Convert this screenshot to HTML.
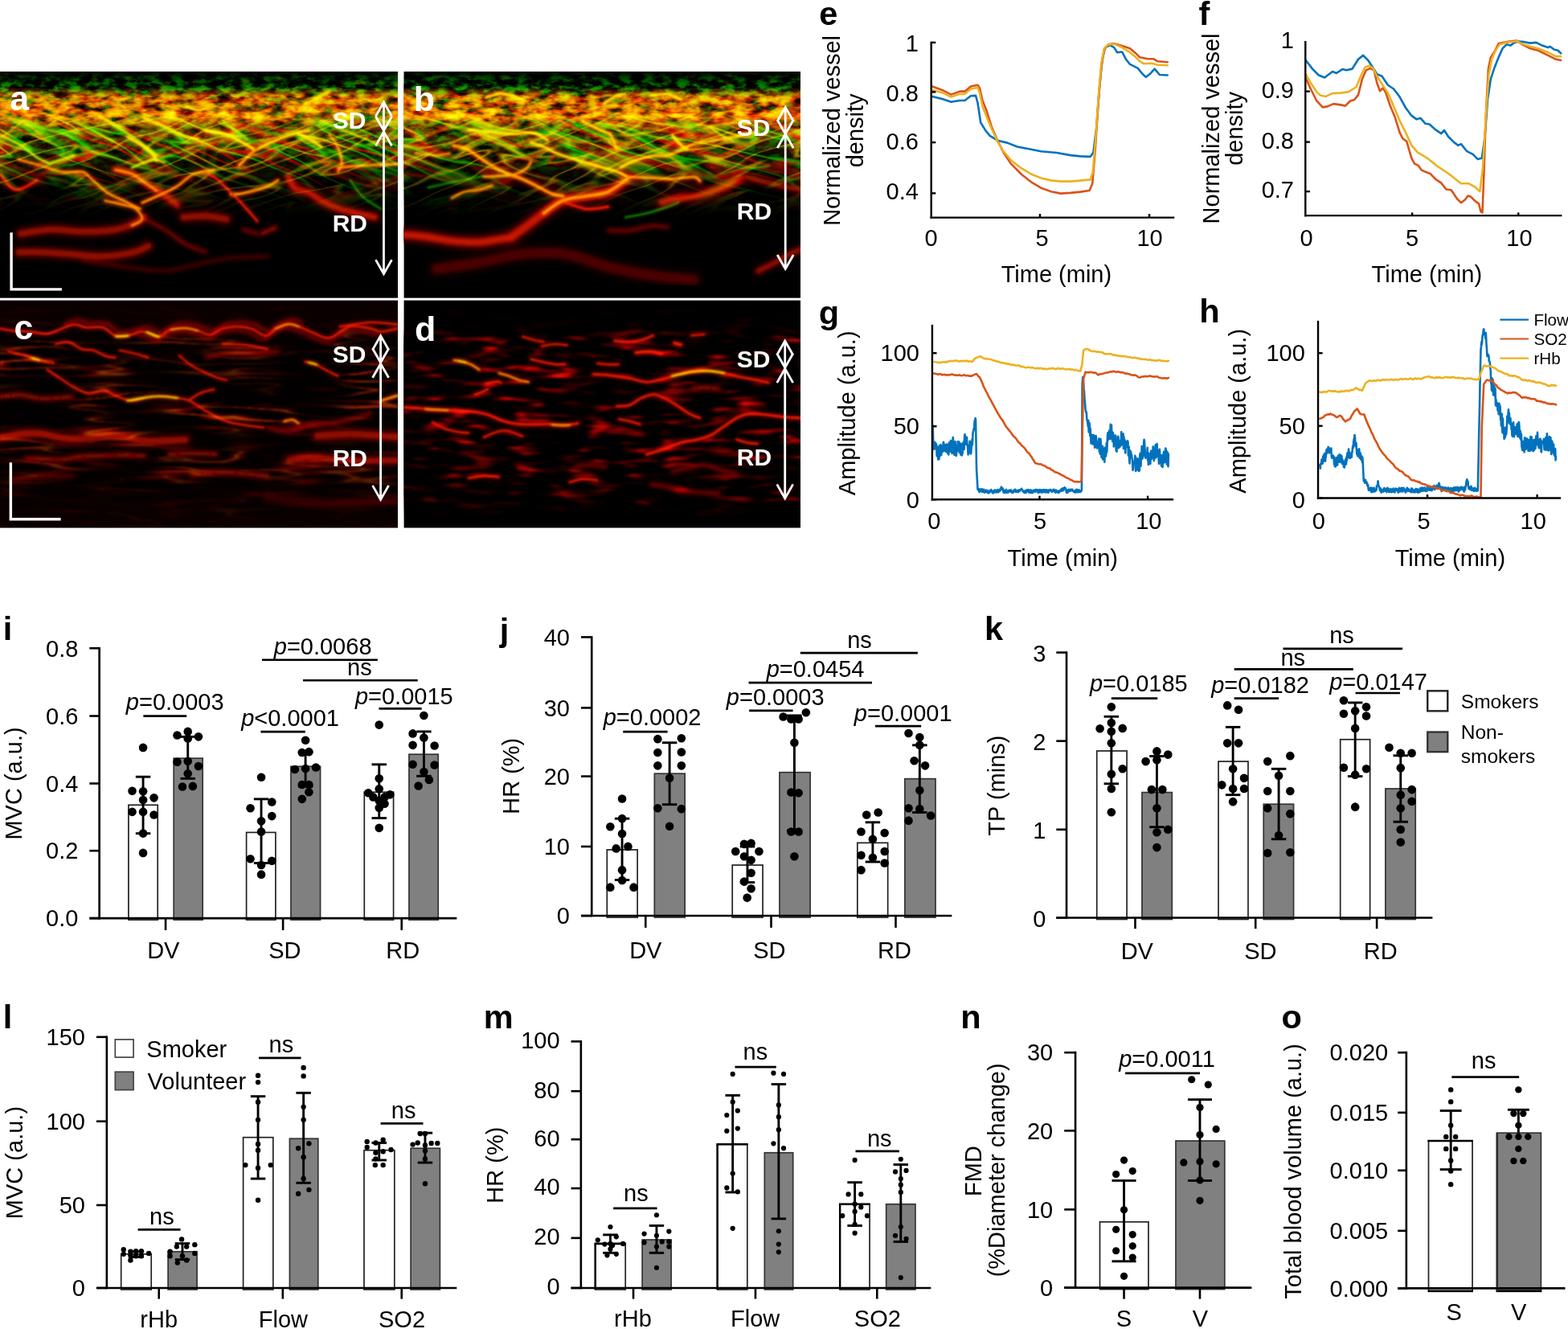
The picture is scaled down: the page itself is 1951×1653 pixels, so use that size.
<!DOCTYPE html>
<html lang="en"><head><meta charset="utf-8"><title>Figure</title>
<style>
html,body{margin:0;padding:0;background:#fff;}
body{width:1951px;height:1653px;overflow:hidden;}
svg{display:block;}
text{white-space:pre;}
</style></head><body>
<svg width="1951" height="1653" viewBox="0 0 1951 1653" font-family="'Liberation Sans', 'DejaVu Sans', sans-serif">
<defs>
<clipPath id="clipa"><rect x="0" y="89" width="495" height="281.6"/></clipPath>
<clipPath id="clipb"><rect x="502.6" y="89" width="493.4" height="281.6"/></clipPath>
<clipPath id="clipc"><rect x="0" y="373.6" width="495" height="282.9"/></clipPath>
<clipPath id="clipd"><rect x="502.6" y="373.6" width="493.4" height="282.9"/></clipPath>
</defs>
<rect x="0" y="89" width="495" height="281.6" fill="#000" stroke="none" stroke-width="0" />
<g clip-path="url(#clipa)"><defs>
<filter id="bh" x="-5%" y="-5%" width="110%" height="110%"><feGaussianBlur stdDeviation="2.2"/></filter>
<filter id="bc" x="-5%" y="-5%" width="110%" height="110%"><feGaussianBlur stdDeviation="1.0"/></filter>
<filter id="bh2" x="-5%" y="-5%" width="110%" height="110%"><feGaussianBlur stdDeviation="3.5"/></filter>
<filter id="bc2" x="-5%" y="-5%" width="110%" height="110%"><feGaussianBlur stdDeviation="2.2"/></filter>
</defs><defs><filter id="tA1" x="0" y="0" width="100%" height="100%" color-interpolation-filters="sRGB">
<feTurbulence type="fractalNoise" baseFrequency="0.045 0.10" numOctaves="3" seed="4"/><feColorMatrix type="matrix" values="1 0 0 0 0  0.75 0.25 0 0 0  0 0 1 0 0  0 0 0 1 0"/>
<feComponentTransfer><feFuncR type="table" tableValues="0 0 0.1 0.45 0.9 1 1 1 1"/><feFuncG type="table" tableValues="0 0 0 0.05 0.3 0.7 1 1 1"/><feFuncB type="table" tableValues="0 0"/><feFuncA type="table" tableValues="1 1"/></feComponentTransfer>
<feGaussianBlur stdDeviation="0.6"/></filter><filter id="tA2" x="0" y="0" width="100%" height="100%" color-interpolation-filters="sRGB">
<feTurbulence type="fractalNoise" baseFrequency="0.07 0.14" numOctaves="3" seed="11"/><feColorMatrix type="matrix" values="0.6 0.4 0 0 0  0 1 0 0 0  0 0 1 0 0  0 0 0 1 0"/>
<feComponentTransfer><feFuncR type="table" tableValues="0 0 0 0 0 0 0.2 0.6 1 1"/><feFuncG type="table" tableValues="0 0 0 0 0.1 0.5 0.9 1 1 1"/><feFuncB type="table" tableValues="0 0"/><feFuncA type="table" tableValues="1 1"/></feComponentTransfer>
<feGaussianBlur stdDeviation="0.6"/></filter><filter id="tA3" x="0" y="0" width="100%" height="100%" color-interpolation-filters="sRGB">
<feTurbulence type="fractalNoise" baseFrequency="0.008 0.05" numOctaves="2" seed="23"/><feColorMatrix type="matrix" values="0.6 0.4 0 0 0  0 1 0 0 0  0 0 1 0 0  0 0 0 1 0"/>
<feComponentTransfer><feFuncR type="table" tableValues="0.00 0.00 0.00 0.00 0.00 0.00 0.00 0.00 0.00 0.00 0.00 0.00 0.00 0.00 0.00 0.00 0.00 0.00 0.00 0.50 1.00 0.50 0.00 0.00 0.00 0.00 0.00 0.00 0.00 0.00 0.00 0.00 0.00 0.00 0.00 0.00 0.00 0.00 0.00 0.00 0.00"/><feFuncG type="table" tableValues="0.00 0.00 0.00 0.00 0.00 0.00 0.00 0.00 0.00 0.00 0.00 0.00 0.00 0.00 0.00 0.00 0.00 0.00 0.20 0.60 1.00 0.60 0.20 0.00 0.00 0.00 0.00 0.00 0.00 0.00 0.00 0.00 0.00 0.00 0.00 0.00 0.00 0.00 0.00 0.00 0.00"/><feFuncB type="table" tableValues="0 0"/><feFuncA type="table" tableValues="1 1"/></feComponentTransfer>
<feGaussianBlur stdDeviation="0.7"/></filter><filter id="tA4" x="0" y="0" width="100%" height="100%" color-interpolation-filters="sRGB">
<feTurbulence type="fractalNoise" baseFrequency="0.010 0.06" numOctaves="2" seed="37"/><feColorMatrix type="matrix" values="1 0 0 0 0  0.75 0.25 0 0 0  0 0 1 0 0  0 0 0 1 0"/>
<feComponentTransfer><feFuncR type="table" tableValues="0.00 0.00 0.00 0.00 0.00 0.00 0.00 0.00 0.00 0.00 0.00 0.00 0.00 0.00 0.00 0.00 0.00 0.00 0.09 0.55 1.00 0.55 0.09 0.00 0.00 0.00 0.00 0.00 0.00 0.00 0.00 0.00 0.00 0.00 0.00 0.00 0.00 0.00 0.00 0.00 0.00"/><feFuncG type="table" tableValues="0.00 0.00 0.00 0.00 0.00 0.00 0.00 0.00 0.00 0.00 0.00 0.00 0.00 0.00 0.00 0.00 0.00 0.00 0.00 0.36 0.75 0.36 0.00 0.00 0.00 0.00 0.00 0.00 0.00 0.00 0.00 0.00 0.00 0.00 0.00 0.00 0.00 0.00 0.00 0.00 0.00"/><feFuncB type="table" tableValues="0 0"/><feFuncA type="table" tableValues="1 1"/></feComponentTransfer>
<feGaussianBlur stdDeviation="0.7"/></filter><linearGradient id="mA1g" gradientUnits="userSpaceOnUse" x1="0" y1="89" x2="0" y2="371"><stop offset="0" stop-color="rgb(0,0,0)"/><stop offset="0.07" stop-color="rgb(0,0,0)"/><stop offset="0.11" stop-color="rgb(230,230,230)"/><stop offset="0.2" stop-color="rgb(255,255,255)"/><stop offset="0.25" stop-color="rgb(102,102,102)"/><stop offset="0.36" stop-color="rgb(26,26,26)"/><stop offset="0.5" stop-color="rgb(0,0,0)"/></linearGradient><linearGradient id="mA2g" gradientUnits="userSpaceOnUse" x1="0" y1="89" x2="0" y2="371"><stop offset="0" stop-color="rgb(0,0,0)"/><stop offset="0.03" stop-color="rgb(76,76,76)"/><stop offset="0.08" stop-color="rgb(153,153,153)"/><stop offset="0.18" stop-color="rgb(102,102,102)"/><stop offset="0.3" stop-color="rgb(102,102,102)"/><stop offset="0.4" stop-color="rgb(38,38,38)"/><stop offset="0.5" stop-color="rgb(0,0,0)"/></linearGradient><linearGradient id="mA3g" gradientUnits="userSpaceOnUse" x1="0" y1="89" x2="0" y2="371"><stop offset="0.16" stop-color="rgb(0,0,0)"/><stop offset="0.22" stop-color="rgb(191,191,191)"/><stop offset="0.36" stop-color="rgb(178,178,178)"/><stop offset="0.45" stop-color="rgb(89,89,89)"/><stop offset="0.53" stop-color="rgb(26,26,26)"/><stop offset="0.6" stop-color="rgb(0,0,0)"/></linearGradient><linearGradient id="mA4g" gradientUnits="userSpaceOnUse" x1="0" y1="89" x2="0" y2="371"><stop offset="0.16" stop-color="rgb(0,0,0)"/><stop offset="0.22" stop-color="rgb(153,153,153)"/><stop offset="0.38" stop-color="rgb(166,166,166)"/><stop offset="0.48" stop-color="rgb(102,102,102)"/><stop offset="0.58" stop-color="rgb(26,26,26)"/><stop offset="0.64" stop-color="rgb(0,0,0)"/></linearGradient><mask id="mA1" maskUnits="userSpaceOnUse" x="0" y="89" width="996" height="282"><rect x="0" y="89" width="996" height="282" fill="url(#mA1g)"/></mask><mask id="mA2" maskUnits="userSpaceOnUse" x="0" y="89" width="996" height="282"><rect x="0" y="89" width="996" height="282" fill="url(#mA2g)"/></mask><mask id="mA3" maskUnits="userSpaceOnUse" x="0" y="89" width="996" height="282"><rect x="0" y="89" width="996" height="282" fill="url(#mA3g)"/></mask><mask id="mA4" maskUnits="userSpaceOnUse" x="0" y="89" width="996" height="282"><rect x="0" y="89" width="996" height="282" fill="url(#mA4g)"/></mask><filter id="tC1" x="0" y="0" width="100%" height="100%" color-interpolation-filters="sRGB">
<feTurbulence type="fractalNoise" baseFrequency="0.007 0.075" numOctaves="2" seed="51"/><feColorMatrix type="matrix" values="1 0 0 0 0  1 0 0 0 0  0 0 1 0 0  0 0 0 1 0"/>
<feComponentTransfer result="a"><feFuncR type="table" tableValues="0.00 0.00 0.00 0.00 0.00 0.00 0.00 0.00 0.00 0.00 0.00 0.00 0.00 0.00 0.00 0.00 0.00 0.00 0.29 0.64 1.00 0.64 0.29 0.00 0.00 0.00 0.00 0.00 0.00 0.00 0.00 0.00 0.00 0.00 0.00 0.00 0.00 0.00 0.00 0.00 0.00"/><feFuncG type="table" tableValues="0.00 0.00 0.00 0.00 0.00 0.00 0.00 0.00 0.00 0.00 0.00 0.00 0.00 0.00 0.00 0.00 0.00 0.00 0.00 0.00 0.50 0.00 0.00 0.00 0.00 0.00 0.00 0.00 0.00 0.00 0.00 0.00 0.00 0.00 0.00 0.00 0.00 0.00 0.00 0.00 0.00"/><feFuncB type="table" tableValues="0 0"/><feFuncA type="table" tableValues="1 1"/></feComponentTransfer>
<feTurbulence type="fractalNoise" baseFrequency="0.012 0.03" numOctaves="1" seed="5"/>
<feColorMatrix type="matrix" values="1 0 0 0 0  1 0 0 0 0  1 0 0 0 0  0 0 0 0 1"/>
<feComponentTransfer result="b"><feFuncR type="table" tableValues="0 0 0 0 0.2 0.8 1 1 1"/><feFuncG type="table" tableValues="0 0 0 0 0.2 0.8 1 1 1"/><feFuncB type="table" tableValues="0 0 0 0 0.2 0.8 1 1 1"/></feComponentTransfer>
<feComposite in="a" in2="b" operator="arithmetic" k1="1" k2="0" k3="0" k4="0"/>
<feGaussianBlur stdDeviation="1.0"/></filter><filter id="tC2" x="0" y="0" width="100%" height="100%" color-interpolation-filters="sRGB">
<feTurbulence type="fractalNoise" baseFrequency="0.012 0.1" numOctaves="2" seed="67"/><feColorMatrix type="matrix" values="1 0 0 0 0  1 0 0 0 0  0 0 1 0 0  0 0 0 1 0"/>
<feComponentTransfer><feFuncR type="table" tableValues="0 0 0 0 0 0 0.25 0.7 0.9 1"/><feFuncG type="table" tableValues="0 0 0 0 0 0 0 0 0.1 0.3"/><feFuncB type="table" tableValues="0 0"/><feFuncA type="table" tableValues="1 1"/></feComponentTransfer>
<feGaussianBlur stdDeviation="1.2"/></filter><filter id="tD1" x="0" y="0" width="100%" height="100%" color-interpolation-filters="sRGB">
<feTurbulence type="fractalNoise" baseFrequency="0.022 0.11" numOctaves="2" seed="81"/><feColorMatrix type="matrix" values="1 0 0 0 0  1 0 0 0 0  0 0 1 0 0  0 0 0 1 0"/>
<feComponentTransfer><feFuncR type="table" tableValues="0 0 0 0 0 0 0.25 0.9 1 1"/><feFuncG type="table" tableValues="0 0 0 0 0 0 0 0 0.2 0.6"/><feFuncB type="table" tableValues="0 0"/><feFuncA type="table" tableValues="1 1"/></feComponentTransfer>
<feGaussianBlur stdDeviation="0.9"/></filter><filter id="tD2" x="0" y="0" width="100%" height="100%" color-interpolation-filters="sRGB">
<feTurbulence type="fractalNoise" baseFrequency="0.016 0.09" numOctaves="2" seed="93"/><feColorMatrix type="matrix" values="1 0 0 0 0  1 0 0 0 0  0 0 1 0 0  0 0 0 1 0"/>
<feComponentTransfer><feFuncR type="table" tableValues="0 0 0 0 0 0 0.1 0.6 1 1"/><feFuncG type="table" tableValues="0 0 0 0 0 0 0 0 0 0.3"/><feFuncB type="table" tableValues="0 0"/><feFuncA type="table" tableValues="1 1"/></feComponentTransfer>
<feGaussianBlur stdDeviation="1.1"/></filter><linearGradient id="mC1g" gradientUnits="userSpaceOnUse" x1="0" y1="374" x2="0" y2="657"><stop offset="0" stop-color="rgb(0,0,0)"/><stop offset="0.12" stop-color="rgb(26,26,26)"/><stop offset="0.2" stop-color="rgb(204,204,204)"/><stop offset="0.5" stop-color="rgb(178,178,178)"/><stop offset="0.75" stop-color="rgb(102,102,102)"/><stop offset="0.9" stop-color="rgb(31,31,31)"/><stop offset="1" stop-color="rgb(13,13,13)"/></linearGradient><linearGradient id="mC2g" gradientUnits="userSpaceOnUse" x1="0" y1="374" x2="0" y2="657"><stop offset="0" stop-color="rgb(0,0,0)"/><stop offset="0.3" stop-color="rgb(20,20,20)"/><stop offset="0.5" stop-color="rgb(76,76,76)"/><stop offset="0.8" stop-color="rgb(89,89,89)"/><stop offset="0.92" stop-color="rgb(38,38,38)"/><stop offset="1" stop-color="rgb(20,20,20)"/></linearGradient><linearGradient id="mD1g" gradientUnits="userSpaceOnUse" x1="0" y1="374" x2="0" y2="657"><stop offset="0" stop-color="rgb(0,0,0)"/><stop offset="0.12" stop-color="rgb(26,26,26)"/><stop offset="0.2" stop-color="rgb(230,230,230)"/><stop offset="0.6" stop-color="rgb(204,204,204)"/><stop offset="0.85" stop-color="rgb(128,128,128)"/><stop offset="0.95" stop-color="rgb(0,0,0)"/></linearGradient><mask id="mC1" maskUnits="userSpaceOnUse" x="0" y="374" width="996" height="283"><rect x="0" y="374" width="996" height="283" fill="url(#mC1g)"/></mask><mask id="mC2" maskUnits="userSpaceOnUse" x="0" y="374" width="996" height="283"><rect x="0" y="374" width="996" height="283" fill="url(#mC2g)"/></mask><mask id="mD1" maskUnits="userSpaceOnUse" x="0" y="374" width="996" height="283"><rect x="0" y="374" width="996" height="283" fill="url(#mD1g)"/></mask></defs><g mask="url(#mA2)" style="mix-blend-mode:screen"><rect x="0" y="89" width="495" height="282" filter="url(#tA2)"/></g><g mask="url(#mA1)" style="mix-blend-mode:screen"><rect x="0" y="89" width="495" height="282" filter="url(#tA1)"/></g><g mask="url(#mA3)" style="mix-blend-mode:screen"><rect x="-200" y="-200" width="895" height="900" filter="url(#tA3)" transform="rotate(22 247.5 230)"/></g><g mask="url(#mA4)" style="mix-blend-mode:screen"><rect x="-200" y="-200" width="895" height="900" filter="url(#tA4)" transform="rotate(-18 247.5 230)"/></g><g fill="none" stroke-linecap="round" stroke-linejoin="round" style="mix-blend-mode:screen" filter="url(#bh2)"><path d="M143.52,211.2 C146.94,212.06 158.04,213.77 164.02,216.33 C170,218.89 173.42,222.74 179.4,226.58 C185.38,230.43 193.07,234.7 199.9,239.4 C206.73,244.1 216.98,252.21 220.4,254.77" stroke="#5a0000" stroke-width="14" opacity="0.8"/><path d="M25.63,290.65 C32.04,289.8 51.26,285.96 64.07,285.53 C76.88,285.1 89.27,288.09 102.51,288.09 C115.75,288.09 132.84,287.24 143.52,285.53 C154.2,283.82 160.6,280.4 166.58,277.84 C172.56,275.28 177.26,271.43 179.4,270.15" stroke="#400000" stroke-width="16" opacity="0.8"/><path d="M23.07,313.72 C27.77,313.72 40.16,313.29 51.26,313.72 C62.36,314.15 76.89,315.43 89.7,316.28 C102.51,317.13 115.33,319.27 128.14,318.84 C140.95,318.41 157.18,315.86 166.58,313.72 C175.98,311.59 181.53,307.31 184.52,306.03" stroke="#400000" stroke-width="16" opacity="0.8"/><path d="M102.51,323.97 C111.05,325.25 136.69,329.53 153.77,331.66 C170.86,333.8 190.07,337.21 205.02,336.78 C219.97,336.35 230.65,331.65 243.46,329.09 C256.28,326.53 266.96,323.11 281.91,321.4 C296.86,319.69 324.62,319.27 333.16,318.84" stroke="#200000" stroke-width="8" opacity="0.7"/><path d="M179.4,272.71 C183.67,274.85 196.48,280.4 205.02,285.53 C213.56,290.65 222.11,298.76 230.65,303.46 C239.19,308.16 252.01,312.01 256.28,313.72" stroke="#400000" stroke-width="6" opacity="0.8"/><path d="M228.09,270.15 C232.79,269.94 247.31,268.44 256.28,268.87 C265.25,269.3 277.64,272.07 281.91,272.71" stroke="#400000" stroke-width="16" opacity="0.8"/><path d="M358.79,218.89 C360.07,221.45 362.21,230.85 366.48,234.27 C370.75,237.69 378.87,236.84 384.42,239.4 C389.97,241.96 393.38,246.23 399.79,249.65 C406.2,253.07 411.75,256.48 422.86,259.9 C433.97,263.32 459.17,268.44 466.43,270.15" stroke="#5a0000" stroke-width="14" opacity="0.8"/><path d="M325.47,290.65 L343.41,282.96" stroke="#400000" stroke-width="8" opacity="0.8"/><path d="M302.41,285.53 L320.35,290.65" stroke="#400000" stroke-width="6" opacity="0.8"/></g><g fill="none" stroke-linecap="round" stroke-linejoin="round" style="mix-blend-mode:screen" filter="url(#bc2)"><path d="M143.52,211.2 C146.94,212.06 158.04,213.77 164.02,216.33 C170,218.89 173.42,222.74 179.4,226.58 C185.38,230.43 193.07,234.7 199.9,239.4 C206.73,244.1 216.98,252.21 220.4,254.77" stroke="#c01400" stroke-width="7" opacity="0.9"/><path d="M25.63,290.65 C32.04,289.8 51.26,285.96 64.07,285.53 C76.88,285.1 89.27,288.09 102.51,288.09 C115.75,288.09 132.84,287.24 143.52,285.53 C154.2,283.82 160.6,280.4 166.58,277.84 C172.56,275.28 177.26,271.43 179.4,270.15" stroke="#8a0c00" stroke-width="8" opacity="0.9"/><path d="M23.07,313.72 C27.77,313.72 40.16,313.29 51.26,313.72 C62.36,314.15 76.89,315.43 89.7,316.28 C102.51,317.13 115.33,319.27 128.14,318.84 C140.95,318.41 157.18,315.86 166.58,313.72 C175.98,311.59 181.53,307.31 184.52,306.03" stroke="#8a0c00" stroke-width="8" opacity="0.9"/><path d="M102.51,323.97 C111.05,325.25 136.69,329.53 153.77,331.66 C170.86,333.8 190.07,337.21 205.02,336.78 C219.97,336.35 230.65,331.65 243.46,329.09 C256.28,326.53 266.96,323.11 281.91,321.4 C296.86,319.69 324.62,319.27 333.16,318.84" stroke="#480400" stroke-width="4" opacity="0.85"/><path d="M179.4,272.71 C183.67,274.85 196.48,280.4 205.02,285.53 C213.56,290.65 222.11,298.76 230.65,303.46 C239.19,308.16 252.01,312.01 256.28,313.72" stroke="#8a0c00" stroke-width="3" opacity="0.9"/><path d="M228.09,270.15 C232.79,269.94 247.31,268.44 256.28,268.87 C265.25,269.3 277.64,272.07 281.91,272.71" stroke="#8a0c00" stroke-width="8" opacity="0.9"/><path d="M358.79,218.89 C360.07,221.45 362.21,230.85 366.48,234.27 C370.75,237.69 378.87,236.84 384.42,239.4 C389.97,241.96 393.38,246.23 399.79,249.65 C406.2,253.07 411.75,256.48 422.86,259.9 C433.97,263.32 459.17,268.44 466.43,270.15" stroke="#c01400" stroke-width="7" opacity="0.9"/><path d="M325.47,290.65 L343.41,282.96" stroke="#8a0c00" stroke-width="4" opacity="0.9"/><path d="M302.41,285.53 L320.35,290.65" stroke="#8a0c00" stroke-width="3" opacity="0.9"/></g><g fill="none" stroke-linecap="round" stroke-linejoin="round" style="mix-blend-mode:screen" filter="url(#bh)"><path d="M158.89,170.2 C162.31,172.33 174.06,179.17 179.4,183.01 C184.74,186.85 188.37,190.48 190.93,193.26 C193.49,196.04 194.13,198.6 194.77,199.67" stroke="#e05000" stroke-width="6.24" opacity="0.8"/><path d="M179.4,147.13 C183.67,148.84 196.48,153.54 205.02,157.39 C213.56,161.23 223.81,167.64 230.65,170.2 C237.49,172.76 243.47,172.33 246.03,172.76" stroke="#e05000" stroke-width="6.24" opacity="0.8"/><path d="M256.28,162.51 C260.55,163.36 273.37,164.65 281.91,167.64 C290.45,170.63 301.98,177.46 307.53,180.45 C313.08,183.44 313.94,184.73 315.22,185.58" stroke="#e05000" stroke-width="7.2" opacity="0.8"/><path d="M320.35,185.58 C323.77,183.87 332.74,178.75 340.85,175.33 C348.97,171.91 361.78,167.21 369.04,165.07 C376.3,162.93 381.86,162.94 384.42,162.51" stroke="#e05000" stroke-width="6.24" opacity="0.8"/><path d="M369.04,165.07 C372.46,166.78 384.42,172.34 389.54,175.33 C394.67,178.32 398.08,181.73 399.79,183.01" stroke="#e05000" stroke-width="5.76" opacity="0.8"/><path d="M297.28,206.08 C299.84,203.52 308.81,194.12 312.66,190.7 C316.51,187.28 319.07,186.43 320.35,185.58" stroke="#b02000" stroke-width="7.2" opacity="0.8"/><path d="M143.52,211.2 C146.94,212.06 158.04,213.77 164.02,216.33 C170,218.89 174.28,223.16 179.4,226.58 C184.53,230 192.21,235.12 194.77,236.83" stroke="#b02000" stroke-width="5.28" opacity="0.8"/><path d="M0,167.64 C4.27,169.77 17.94,175.75 25.63,180.45 C33.32,185.15 40.15,191.99 46.13,195.83 C52.11,199.68 58.95,202.24 61.51,203.52" stroke="#608000" stroke-width="4.84" opacity="0.7"/><path d="M23.07,198.39 C27.77,199.67 42.29,203.52 51.26,206.08 C60.23,208.64 68.34,212.49 76.88,213.77 C85.42,215.05 96.1,212.06 102.51,213.77 C108.92,215.48 110.2,219.75 115.33,224.02 C120.45,228.29 126.85,235.13 133.26,239.4 C139.67,243.67 146.94,246.23 153.77,249.65 C160.61,253.07 170.85,258.19 174.27,259.9" stroke="#b02000" stroke-width="5.76" opacity="0.8"/><path d="M61.51,203.52 C64.07,202.67 71.75,200.1 76.88,198.39 C82,196.68 89.7,194.11 92.26,193.26" stroke="#608000" stroke-width="4.4" opacity="0.7"/><path d="M164.02,208.64 C168.29,206.93 182.82,199.46 189.65,198.39 C196.48,197.32 202.46,201.59 205.02,202.23" stroke="#608000" stroke-width="4.4" opacity="0.7"/><path d="M176.83,252.21 C180.68,250.5 192.64,245.38 199.9,241.96 C207.16,238.54 213.57,235.98 220.4,231.71 C227.23,227.44 233.21,219.75 240.9,216.33 C248.59,212.91 262.26,212.06 266.53,211.2" stroke="#b02000" stroke-width="6.24" opacity="0.8"/><path d="M0,216.33 C2.56,219.32 10.68,231.28 15.38,234.27 C20.08,237.26 23.07,235.98 28.19,234.27 C33.31,232.56 43.14,225.73 46.13,224.02" stroke="#800800" stroke-width="6.6" opacity="0.8"/><path d="M130.7,249.65 C134.54,250.5 147.36,253.06 153.77,254.77 C160.18,256.48 165.3,256.91 169.14,259.9 C172.98,262.89 177.68,269.29 176.83,272.71 C175.98,276.13 166.16,279.12 164.02,280.4" stroke="#b02000" stroke-width="5.76" opacity="0.8"/><path d="M287.03,241.96 C290.45,241.53 299.84,241.11 307.53,239.4 C315.22,237.69 326.75,234.27 333.16,231.71 C339.57,229.15 343.84,225.3 345.98,224.02" stroke="#b02000" stroke-width="6.24" opacity="0.8"/><path d="M410.05,167.64 C411.76,170.2 417.74,177.03 420.3,183.01 C422.86,188.99 425.42,198.39 425.42,203.52 C425.42,208.65 421.15,212.06 420.3,213.77" stroke="#b02000" stroke-width="5.76" opacity="0.8"/><path d="M420.3,208.64 C425,208.21 436.1,206.93 448.49,206.08 C460.88,205.23 486.93,203.95 494.62,203.52" stroke="#b02000" stroke-width="6.24" opacity="0.8"/><path d="M435.67,224.02 C438.23,227.44 444.64,238.54 451.05,244.52 C457.46,250.5 470.27,257.34 474.12,259.9" stroke="#063800" stroke-width="4" opacity="0.6"/><path d="M256.28,213.77 C258.84,215.48 266.54,219.75 271.66,224.02 C276.79,228.29 281.9,234.28 287.03,239.4 C292.15,244.53 296.86,248.79 302.41,254.77 C307.96,260.75 317.36,271.85 320.35,275.27" stroke="#800800" stroke-width="5.28" opacity="0.8"/><path d="M379.29,129.2 C382.71,127.49 394.66,121.5 399.79,118.94 C404.92,116.38 408.34,114.67 410.05,113.82" stroke="#e05000" stroke-width="5.76" opacity="0.8"/><path d="M230.65,131.76 C233.21,132.61 241.76,136.45 246.03,136.88 C250.3,137.31 254.57,134.75 256.28,134.32" stroke="#e05000" stroke-width="6.24" opacity="0.8"/><path d="M30.75,154.82 C36.3,156.1 54.24,159.95 64.07,162.51 C73.89,165.07 85.43,168.92 89.7,170.2" stroke="#0a5000" stroke-width="4.4" opacity="0.7"/><path d="M89.7,149.7 C93.97,151.83 106.79,158.24 115.33,162.51 C123.87,166.78 136.68,173.19 140.95,175.33" stroke="#0a5000" stroke-width="4.4" opacity="0.7"/><path d="M123.01,144.57 C128.14,147.56 144.37,156.53 153.77,162.51 C163.17,168.49 172.57,175.32 179.4,180.45 C186.23,185.57 192.21,191.12 194.77,193.26" stroke="#608000" stroke-width="4.4" opacity="0.7"/><path d="M271.66,152.26 C275.5,153.97 288.74,159.09 294.72,162.51 C300.7,165.93 305.39,171.05 307.53,172.76" stroke="#0a5000" stroke-width="4.4" opacity="0.7"/></g><g fill="none" stroke-linecap="round" stroke-linejoin="round" style="mix-blend-mode:screen" filter="url(#bc)"><path d="M158.89,170.2 C162.31,172.33 174.06,179.17 179.4,183.01 C184.74,186.85 188.37,190.48 190.93,193.26 C193.49,196.04 194.13,198.6 194.77,199.67" stroke="#ffe800" stroke-width="2.6" opacity="1"/><path d="M179.4,147.13 C183.67,148.84 196.48,153.54 205.02,157.39 C213.56,161.23 223.81,167.64 230.65,170.2 C237.49,172.76 243.47,172.33 246.03,172.76" stroke="#ffe800" stroke-width="2.6" opacity="1"/><path d="M256.28,162.51 C260.55,163.36 273.37,164.65 281.91,167.64 C290.45,170.63 301.98,177.46 307.53,180.45 C313.08,183.44 313.94,184.73 315.22,185.58" stroke="#ffe800" stroke-width="3" opacity="1"/><path d="M320.35,185.58 C323.77,183.87 332.74,178.75 340.85,175.33 C348.97,171.91 361.78,167.21 369.04,165.07 C376.3,162.93 381.86,162.94 384.42,162.51" stroke="#ffe800" stroke-width="2.6" opacity="1"/><path d="M369.04,165.07 C372.46,166.78 384.42,172.34 389.54,175.33 C394.67,178.32 398.08,181.73 399.79,183.01" stroke="#ffe800" stroke-width="2.4" opacity="1"/><path d="M297.28,206.08 C299.84,203.52 308.81,194.12 312.66,190.7 C316.51,187.28 319.07,186.43 320.35,185.58" stroke="#ff8a00" stroke-width="3" opacity="1"/><path d="M143.52,211.2 C146.94,212.06 158.04,213.77 164.02,216.33 C170,218.89 174.28,223.16 179.4,226.58 C184.53,230 192.21,235.12 194.77,236.83" stroke="#ff8a00" stroke-width="2.2" opacity="1"/><path d="M0,167.64 C4.27,169.77 17.94,175.75 25.63,180.45 C33.32,185.15 40.15,191.99 46.13,195.83 C52.11,199.68 58.95,202.24 61.51,203.52" stroke="#c8f400" stroke-width="2.2" opacity="1"/><path d="M23.07,198.39 C27.77,199.67 42.29,203.52 51.26,206.08 C60.23,208.64 68.34,212.49 76.88,213.77 C85.42,215.05 96.1,212.06 102.51,213.77 C108.92,215.48 110.2,219.75 115.33,224.02 C120.45,228.29 126.85,235.13 133.26,239.4 C139.67,243.67 146.94,246.23 153.77,249.65 C160.61,253.07 170.85,258.19 174.27,259.9" stroke="#ff8a00" stroke-width="2.4" opacity="1"/><path d="M61.51,203.52 C64.07,202.67 71.75,200.1 76.88,198.39 C82,196.68 89.7,194.11 92.26,193.26" stroke="#c8f400" stroke-width="2" opacity="1"/><path d="M164.02,208.64 C168.29,206.93 182.82,199.46 189.65,198.39 C196.48,197.32 202.46,201.59 205.02,202.23" stroke="#c8f400" stroke-width="2" opacity="1"/><path d="M176.83,252.21 C180.68,250.5 192.64,245.38 199.9,241.96 C207.16,238.54 213.57,235.98 220.4,231.71 C227.23,227.44 233.21,219.75 240.9,216.33 C248.59,212.91 262.26,212.06 266.53,211.2" stroke="#ff8a00" stroke-width="2.6" opacity="1"/><path d="M0,216.33 C2.56,219.32 10.68,231.28 15.38,234.27 C20.08,237.26 23.07,235.98 28.19,234.27 C33.31,232.56 43.14,225.73 46.13,224.02" stroke="#e82000" stroke-width="3" opacity="0.95"/><path d="M130.7,249.65 C134.54,250.5 147.36,253.06 153.77,254.77 C160.18,256.48 165.3,256.91 169.14,259.9 C172.98,262.89 177.68,269.29 176.83,272.71 C175.98,276.13 166.16,279.12 164.02,280.4" stroke="#ff8a00" stroke-width="2.4" opacity="1"/><path d="M287.03,241.96 C290.45,241.53 299.84,241.11 307.53,239.4 C315.22,237.69 326.75,234.27 333.16,231.71 C339.57,229.15 343.84,225.3 345.98,224.02" stroke="#ff8a00" stroke-width="2.6" opacity="1"/><path d="M410.05,167.64 C411.76,170.2 417.74,177.03 420.3,183.01 C422.86,188.99 425.42,198.39 425.42,203.52 C425.42,208.65 421.15,212.06 420.3,213.77" stroke="#ff8a00" stroke-width="2.4" opacity="1"/><path d="M420.3,208.64 C425,208.21 436.1,206.93 448.49,206.08 C460.88,205.23 486.93,203.95 494.62,203.52" stroke="#ff8a00" stroke-width="2.6" opacity="1"/><path d="M435.67,224.02 C438.23,227.44 444.64,238.54 451.05,244.52 C457.46,250.5 470.27,257.34 474.12,259.9" stroke="#1c8a00" stroke-width="2" opacity="0.9"/><path d="M256.28,213.77 C258.84,215.48 266.54,219.75 271.66,224.02 C276.79,228.29 281.9,234.28 287.03,239.4 C292.15,244.53 296.86,248.79 302.41,254.77 C307.96,260.75 317.36,271.85 320.35,275.27" stroke="#e82000" stroke-width="2.4" opacity="0.95"/><path d="M379.29,129.2 C382.71,127.49 394.66,121.5 399.79,118.94 C404.92,116.38 408.34,114.67 410.05,113.82" stroke="#ffe800" stroke-width="2.4" opacity="1"/><path d="M230.65,131.76 C233.21,132.61 241.76,136.45 246.03,136.88 C250.3,137.31 254.57,134.75 256.28,134.32" stroke="#ffe800" stroke-width="2.6" opacity="1"/><path d="M30.75,154.82 C36.3,156.1 54.24,159.95 64.07,162.51 C73.89,165.07 85.43,168.92 89.7,170.2" stroke="#40e000" stroke-width="2" opacity="0.95"/><path d="M89.7,149.7 C93.97,151.83 106.79,158.24 115.33,162.51 C123.87,166.78 136.68,173.19 140.95,175.33" stroke="#40e000" stroke-width="2" opacity="0.95"/><path d="M123.01,144.57 C128.14,147.56 144.37,156.53 153.77,162.51 C163.17,168.49 172.57,175.32 179.4,180.45 C186.23,185.57 192.21,191.12 194.77,193.26" stroke="#c8f400" stroke-width="2" opacity="1"/><path d="M271.66,152.26 C275.5,153.97 288.74,159.09 294.72,162.51 C300.7,165.93 305.39,171.05 307.53,172.76" stroke="#40e000" stroke-width="2" opacity="0.95"/></g></g>
<rect x="502.6" y="89" width="493.4" height="281.6" fill="#000" stroke="none" stroke-width="0" />
<g clip-path="url(#clipb)"><g mask="url(#mA2)" style="mix-blend-mode:screen"><rect x="502.6" y="89" width="493.4" height="282" filter="url(#tA2)"/></g><g mask="url(#mA1)" style="mix-blend-mode:screen"><rect x="502.6" y="89" width="493.4" height="282" filter="url(#tA1)"/></g><g mask="url(#mA3)" style="mix-blend-mode:screen"><rect x="302.6" y="-200" width="893.4" height="900" filter="url(#tA3)" transform="rotate(18 749.3 230)"/></g><g mask="url(#mA4)" style="mix-blend-mode:screen"><rect x="302.6" y="-200" width="893.4" height="900" filter="url(#tA4)" transform="rotate(-20 749.3 230)"/></g><g fill="none" stroke-linecap="round" stroke-linejoin="round" style="mix-blend-mode:screen" filter="url(#bh2)"><path d="M636.59,294.55 C639.7,292.33 648.59,286.11 655.25,281.22 C661.91,276.33 669.02,270.56 676.57,265.23 C684.12,259.9 691.67,252.79 700.56,249.24 C709.44,245.69 720.55,245.69 729.88,243.91 C739.21,242.13 748.09,242.14 756.53,238.58 C764.97,235.03 776.52,225.25 780.52,222.58" stroke="#5a0000" stroke-width="20" opacity="0.8"/><path d="M503.33,291.88 C507.77,292.32 519.76,293.22 529.98,294.55 C540.2,295.88 553.52,298.77 564.63,299.88 C575.74,300.99 586.84,301.65 596.61,301.21 C606.38,300.76 616.82,298.1 623.26,297.21 C629.7,296.32 633.26,296.1 635.26,295.88" stroke="#5a0000" stroke-width="18" opacity="0.8"/><path d="M823.16,251.9 C826.71,251.01 836.93,247.9 844.48,246.57 C852.03,245.24 861.81,245.24 868.47,243.91 C875.13,242.58 878.24,240.8 884.46,238.58 C890.68,236.36 899.57,233.69 905.79,230.58 C912.01,227.47 919.12,221.7 921.78,219.92" stroke="#5a0000" stroke-width="14" opacity="0.8"/><path d="M927.11,219.92 C930.66,220.81 941.32,223.47 948.43,225.25 C955.54,227.03 961.8,228.8 969.75,230.58 C977.7,232.36 991.74,235.02 996.14,235.91" stroke="#5a0000" stroke-width="8" opacity="0.8"/><path d="M543.31,334.53 C552.19,333.2 578.84,329.64 596.61,326.53 C614.38,323.42 632.15,317.65 649.92,315.87 C667.69,314.09 685.45,313.2 703.22,315.87 C720.99,318.54 738.76,327.42 756.53,331.86 C774.3,336.3 792.07,339.85 809.84,342.52 C827.61,345.19 854.26,346.96 863.14,347.85" stroke="#200000" stroke-width="24" opacity="0.7"/><path d="M756.53,286.55 C760.97,286.55 774.29,287.44 783.18,286.55 C792.06,285.66 801.84,281.89 809.84,281.22 C817.84,280.55 827.61,282.33 831.16,282.55" stroke="#400000" stroke-width="6" opacity="0.8"/><path d="M943.1,337.19 C946.65,335.41 957.76,330.08 964.42,326.53 C971.08,322.98 977.79,318.53 983.08,315.87 C988.37,313.21 993.96,311.43 996.14,310.54" stroke="#400000" stroke-width="12" opacity="0.8"/></g><g fill="none" stroke-linecap="round" stroke-linejoin="round" style="mix-blend-mode:screen" filter="url(#bc2)"><path d="M636.59,294.55 C639.7,292.33 648.59,286.11 655.25,281.22 C661.91,276.33 669.02,270.56 676.57,265.23 C684.12,259.9 691.67,252.79 700.56,249.24 C709.44,245.69 720.55,245.69 729.88,243.91 C739.21,242.13 748.09,242.14 756.53,238.58 C764.97,235.03 776.52,225.25 780.52,222.58" stroke="#c01400" stroke-width="10" opacity="0.9"/><path d="M503.33,291.88 C507.77,292.32 519.76,293.22 529.98,294.55 C540.2,295.88 553.52,298.77 564.63,299.88 C575.74,300.99 586.84,301.65 596.61,301.21 C606.38,300.76 616.82,298.1 623.26,297.21 C629.7,296.32 633.26,296.1 635.26,295.88" stroke="#c01400" stroke-width="9" opacity="0.9"/><path d="M823.16,251.9 C826.71,251.01 836.93,247.9 844.48,246.57 C852.03,245.24 861.81,245.24 868.47,243.91 C875.13,242.58 878.24,240.8 884.46,238.58 C890.68,236.36 899.57,233.69 905.79,230.58 C912.01,227.47 919.12,221.7 921.78,219.92" stroke="#c01400" stroke-width="7" opacity="0.9"/><path d="M927.11,219.92 C930.66,220.81 941.32,223.47 948.43,225.25 C955.54,227.03 961.8,228.8 969.75,230.58 C977.7,232.36 991.74,235.02 996.14,235.91" stroke="#c01400" stroke-width="4" opacity="0.9"/><path d="M543.31,334.53 C552.19,333.2 578.84,329.64 596.61,326.53 C614.38,323.42 632.15,317.65 649.92,315.87 C667.69,314.09 685.45,313.2 703.22,315.87 C720.99,318.54 738.76,327.42 756.53,331.86 C774.3,336.3 792.07,339.85 809.84,342.52 C827.61,345.19 854.26,346.96 863.14,347.85" stroke="#480400" stroke-width="12" opacity="0.85"/><path d="M756.53,286.55 C760.97,286.55 774.29,287.44 783.18,286.55 C792.06,285.66 801.84,281.89 809.84,281.22 C817.84,280.55 827.61,282.33 831.16,282.55" stroke="#8a0c00" stroke-width="3" opacity="0.9"/><path d="M943.1,337.19 C946.65,335.41 957.76,330.08 964.42,326.53 C971.08,322.98 977.79,318.53 983.08,315.87 C988.37,313.21 993.96,311.43 996.14,310.54" stroke="#8a0c00" stroke-width="6" opacity="0.9"/></g><g fill="none" stroke-linecap="round" stroke-linejoin="round" style="mix-blend-mode:screen" filter="url(#bh)"><path d="M564.63,181.27 C567.29,181.94 575.29,182.83 580.62,185.27 C585.95,187.71 591.28,192.38 596.61,195.93 C601.94,199.48 607.27,203.48 612.6,206.59 C617.93,209.7 622.38,211.93 628.6,214.59 C634.82,217.25 642.81,219.47 649.92,222.58 C657.03,225.69 665.02,230.13 671.24,233.24 C677.46,236.35 682.34,239.46 687.23,241.24 C692.12,243.02 698.34,243.47 700.56,243.91" stroke="#b02000" stroke-width="8.64" opacity="0.8"/><path d="M660.58,177.27 C663.25,178.16 671.24,180.38 676.57,182.6 C681.9,184.82 685.9,187.93 692.56,190.6 C699.22,193.27 708.11,195.94 716.55,198.6 C724.99,201.26 734.76,204.15 743.2,206.59 C751.64,209.03 760.97,211.03 767.19,213.25 C773.41,215.47 778.3,218.81 780.52,219.92" stroke="#e05000" stroke-width="6.24" opacity="0.8"/><path d="M583.29,161.28 C587.73,161.72 601.06,163.06 609.94,163.95 C618.82,164.84 627.71,166.39 636.59,166.61 C645.47,166.83 655.69,163.95 663.24,165.28 C670.79,166.61 678.79,173.06 681.9,174.61" stroke="#e05000" stroke-width="6.24" opacity="0.8"/><path d="M780.52,219.92 C785.41,220.14 800.51,220.81 809.84,221.25 C819.17,221.69 827.61,222.8 836.49,222.58 C845.37,222.36 857.37,219.47 863.14,219.92 C868.91,220.36 869.81,224.36 871.14,225.25" stroke="#b02000" stroke-width="7.2" opacity="0.8"/><path d="M772.52,207.92 C775.18,206.59 782.29,202.15 788.51,199.93 C794.73,197.71 802.73,195.71 809.84,194.6 C816.95,193.49 824.5,194.81 831.16,193.26 C837.82,191.7 844.49,187.49 849.82,185.27 C855.15,183.05 856.48,181.72 863.14,179.94 C869.8,178.16 880.9,176.39 889.79,174.61 C898.67,172.83 907.57,171.06 916.45,169.28 C925.34,167.5 938.66,164.84 943.1,163.95" stroke="#b02000" stroke-width="7.2" opacity="0.8"/><path d="M676.57,265.23 C680.57,262.56 691.67,252.79 700.56,249.24 C709.44,245.69 720.55,245.69 729.88,243.91 C739.21,242.13 748.09,242.14 756.53,238.58 C764.97,235.03 776.52,225.25 780.52,222.58" stroke="#b02000" stroke-width="8.16" opacity="0.8"/><path d="M759.2,166.61 C760.09,168.39 763.2,174.16 764.53,177.27 C765.86,180.38 766.75,183.94 767.19,185.27" stroke="#b02000" stroke-width="7.2" opacity="0.8"/><path d="M836.49,167.94 C837.38,169.05 839.6,172.17 841.82,174.61 C844.04,177.05 847.6,180.82 849.82,182.6 C852.04,184.38 854.26,184.83 855.15,185.27" stroke="#e05000" stroke-width="6.24" opacity="0.8"/><path d="M724.55,150.62 C726.33,151.51 731.66,154.17 735.21,155.95 C738.76,157.73 741.87,159.5 745.87,161.28 C749.87,163.06 756.98,165.72 759.2,166.61" stroke="#e05000" stroke-width="5.76" opacity="0.8"/><path d="M516.65,190.6 C521.09,191.04 536.2,193.26 543.31,193.26 C550.42,193.26 556.63,191.04 559.3,190.6" stroke="#b02000" stroke-width="5.28" opacity="0.8"/><path d="M601.94,219.92 C605.49,219.7 617.04,219.03 623.26,218.59 C629.48,218.15 633.93,218.81 639.26,217.25 C644.59,215.69 651.7,211.92 655.25,209.26 C658.8,206.59 659.69,202.59 660.58,201.26" stroke="#b02000" stroke-width="5.76" opacity="0.8"/><path d="M561.96,246.57 C564.62,245.24 572.18,240.36 577.95,238.58 C583.73,236.8 590.84,237.24 596.61,235.91 C602.38,234.58 609.94,231.47 612.6,230.58" stroke="#b02000" stroke-width="4.8" opacity="0.8"/><path d="M532.64,233.24 C536.64,232.35 548.19,229.69 556.63,227.91 C565.07,226.13 575.74,224.13 583.29,222.58 C590.84,221.03 598.83,219.25 601.94,218.59" stroke="#063800" stroke-width="4" opacity="0.6"/><path d="M703.22,251.9 C707.66,253.23 721,259.01 729.88,259.9 C738.76,260.79 752.09,257.68 756.53,257.23" stroke="#800800" stroke-width="6.6" opacity="0.8"/><path d="M777.85,270.56 C782.29,269.67 795.62,267.45 804.51,265.23 C813.39,263.01 824.5,259.45 831.16,257.23 C837.82,255.01 842.26,252.79 844.48,251.9" stroke="#063800" stroke-width="4" opacity="0.6"/><path d="M604.61,121.3 C607.72,120.41 617.49,116.19 623.26,115.97 C629.03,115.75 634.82,118.64 639.26,119.97 C643.7,121.3 648.14,123.3 649.92,123.97" stroke="#e05000" stroke-width="5.76" opacity="0.8"/><path d="M809.84,118.64 C813.39,118.42 824.94,116.41 831.16,117.3 C837.38,118.19 844.49,122.86 847.15,123.97" stroke="#e05000" stroke-width="5.76" opacity="0.8"/><path d="M751.2,129.3 C753.87,127.52 762.75,120.64 767.19,118.64 C771.63,116.64 776.07,117.52 777.85,117.3" stroke="#e05000" stroke-width="5.76" opacity="0.8"/><path d="M876.47,193.26 C880.91,195.04 894.24,201.26 903.12,203.93 C912,206.6 920.88,208.82 929.77,209.26 C938.65,209.7 951.99,207.03 956.43,206.59" stroke="#063800" stroke-width="4" opacity="0.6"/><path d="M884.46,158.62 C886.24,159.95 890.69,163.95 895.13,166.61 C899.57,169.28 908.46,173.28 911.12,174.61" stroke="#608000" stroke-width="4.4" opacity="0.7"/></g><g fill="none" stroke-linecap="round" stroke-linejoin="round" style="mix-blend-mode:screen" filter="url(#bc)"><path d="M564.63,181.27 C567.29,181.94 575.29,182.83 580.62,185.27 C585.95,187.71 591.28,192.38 596.61,195.93 C601.94,199.48 607.27,203.48 612.6,206.59 C617.93,209.7 622.38,211.93 628.6,214.59 C634.82,217.25 642.81,219.47 649.92,222.58 C657.03,225.69 665.02,230.13 671.24,233.24 C677.46,236.35 682.34,239.46 687.23,241.24 C692.12,243.02 698.34,243.47 700.56,243.91" stroke="#ff8a00" stroke-width="3.6" opacity="1"/><path d="M660.58,177.27 C663.25,178.16 671.24,180.38 676.57,182.6 C681.9,184.82 685.9,187.93 692.56,190.6 C699.22,193.27 708.11,195.94 716.55,198.6 C724.99,201.26 734.76,204.15 743.2,206.59 C751.64,209.03 760.97,211.03 767.19,213.25 C773.41,215.47 778.3,218.81 780.52,219.92" stroke="#ffe800" stroke-width="2.6" opacity="1"/><path d="M583.29,161.28 C587.73,161.72 601.06,163.06 609.94,163.95 C618.82,164.84 627.71,166.39 636.59,166.61 C645.47,166.83 655.69,163.95 663.24,165.28 C670.79,166.61 678.79,173.06 681.9,174.61" stroke="#ffe800" stroke-width="2.6" opacity="1"/><path d="M780.52,219.92 C785.41,220.14 800.51,220.81 809.84,221.25 C819.17,221.69 827.61,222.8 836.49,222.58 C845.37,222.36 857.37,219.47 863.14,219.92 C868.91,220.36 869.81,224.36 871.14,225.25" stroke="#ff8a00" stroke-width="3" opacity="1"/><path d="M772.52,207.92 C775.18,206.59 782.29,202.15 788.51,199.93 C794.73,197.71 802.73,195.71 809.84,194.6 C816.95,193.49 824.5,194.81 831.16,193.26 C837.82,191.7 844.49,187.49 849.82,185.27 C855.15,183.05 856.48,181.72 863.14,179.94 C869.8,178.16 880.9,176.39 889.79,174.61 C898.67,172.83 907.57,171.06 916.45,169.28 C925.34,167.5 938.66,164.84 943.1,163.95" stroke="#ff8a00" stroke-width="3" opacity="1"/><path d="M676.57,265.23 C680.57,262.56 691.67,252.79 700.56,249.24 C709.44,245.69 720.55,245.69 729.88,243.91 C739.21,242.13 748.09,242.14 756.53,238.58 C764.97,235.03 776.52,225.25 780.52,222.58" stroke="#ff8a00" stroke-width="3.4" opacity="1"/><path d="M759.2,166.61 C760.09,168.39 763.2,174.16 764.53,177.27 C765.86,180.38 766.75,183.94 767.19,185.27" stroke="#ff8a00" stroke-width="3" opacity="1"/><path d="M836.49,167.94 C837.38,169.05 839.6,172.17 841.82,174.61 C844.04,177.05 847.6,180.82 849.82,182.6 C852.04,184.38 854.26,184.83 855.15,185.27" stroke="#ffe800" stroke-width="2.6" opacity="1"/><path d="M724.55,150.62 C726.33,151.51 731.66,154.17 735.21,155.95 C738.76,157.73 741.87,159.5 745.87,161.28 C749.87,163.06 756.98,165.72 759.2,166.61" stroke="#ffe800" stroke-width="2.4" opacity="1"/><path d="M516.65,190.6 C521.09,191.04 536.2,193.26 543.31,193.26 C550.42,193.26 556.63,191.04 559.3,190.6" stroke="#ff8a00" stroke-width="2.2" opacity="1"/><path d="M601.94,219.92 C605.49,219.7 617.04,219.03 623.26,218.59 C629.48,218.15 633.93,218.81 639.26,217.25 C644.59,215.69 651.7,211.92 655.25,209.26 C658.8,206.59 659.69,202.59 660.58,201.26" stroke="#ff8a00" stroke-width="2.4" opacity="1"/><path d="M561.96,246.57 C564.62,245.24 572.18,240.36 577.95,238.58 C583.73,236.8 590.84,237.24 596.61,235.91 C602.38,234.58 609.94,231.47 612.6,230.58" stroke="#ff8a00" stroke-width="2" opacity="1"/><path d="M532.64,233.24 C536.64,232.35 548.19,229.69 556.63,227.91 C565.07,226.13 575.74,224.13 583.29,222.58 C590.84,221.03 598.83,219.25 601.94,218.59" stroke="#1c8a00" stroke-width="2" opacity="0.9"/><path d="M703.22,251.9 C707.66,253.23 721,259.01 729.88,259.9 C738.76,260.79 752.09,257.68 756.53,257.23" stroke="#e82000" stroke-width="3" opacity="0.95"/><path d="M777.85,270.56 C782.29,269.67 795.62,267.45 804.51,265.23 C813.39,263.01 824.5,259.45 831.16,257.23 C837.82,255.01 842.26,252.79 844.48,251.9" stroke="#1c8a00" stroke-width="2" opacity="0.9"/><path d="M604.61,121.3 C607.72,120.41 617.49,116.19 623.26,115.97 C629.03,115.75 634.82,118.64 639.26,119.97 C643.7,121.3 648.14,123.3 649.92,123.97" stroke="#ffe800" stroke-width="2.4" opacity="1"/><path d="M809.84,118.64 C813.39,118.42 824.94,116.41 831.16,117.3 C837.38,118.19 844.49,122.86 847.15,123.97" stroke="#ffe800" stroke-width="2.4" opacity="1"/><path d="M751.2,129.3 C753.87,127.52 762.75,120.64 767.19,118.64 C771.63,116.64 776.07,117.52 777.85,117.3" stroke="#ffe800" stroke-width="2.4" opacity="1"/><path d="M876.47,193.26 C880.91,195.04 894.24,201.26 903.12,203.93 C912,206.6 920.88,208.82 929.77,209.26 C938.65,209.7 951.99,207.03 956.43,206.59" stroke="#1c8a00" stroke-width="2" opacity="0.9"/><path d="M884.46,158.62 C886.24,159.95 890.69,163.95 895.13,166.61 C899.57,169.28 908.46,173.28 911.12,174.61" stroke="#c8f400" stroke-width="2" opacity="1"/></g></g>
<rect x="0" y="373.6" width="495" height="282.9" fill="#0c0000" stroke="none" stroke-width="0" />
<g clip-path="url(#clipc)"><g mask="url(#mC2)" style="mix-blend-mode:screen"><rect x="0" y="374" width="495" height="283" filter="url(#tC2)"/></g><g mask="url(#mC1)" style="mix-blend-mode:screen"><rect x="0" y="374" width="495" height="283" filter="url(#tC1)"/></g><g fill="none" stroke-linecap="round" stroke-linejoin="round" style="mix-blend-mode:screen" filter="url(#bh2)"><path d="M80.73,403.05 C83.29,402.2 90.97,398.14 96.1,397.93 C101.22,397.72 105.5,401.13 111.48,401.77 C117.46,402.41 126,400.06 131.98,401.77 C137.96,403.48 142.23,410.31 147.36,412.02 C152.49,413.73 157.62,412.87 162.74,412.02 C167.87,411.17 173.84,407.54 178.11,406.9 C182.38,406.26 184.52,407.11 188.36,408.18 C192.21,409.25 196.48,413.95 201.18,413.31 C205.88,412.67 211.01,406.13 216.56,404.34 C222.11,402.54 228.95,402.33 234.5,402.54 C240.05,402.75 244.75,404.25 249.87,405.62 C255,406.99 260.12,411.17 265.25,410.74 C270.38,410.31 275.08,404.76 280.63,403.05 C286.18,401.34 292.58,400.49 298.56,400.49 C304.54,400.49 310.52,401.13 316.5,403.05 C322.48,404.97 329.31,412.02 334.44,412.02 C339.57,412.02 342.56,405.48 347.26,403.05 C351.96,400.62 357.93,397.85 362.63,397.42 C367.33,396.99 373.31,399.98 375.45,400.49" stroke="#400000" stroke-width="6" opacity="0.8"/><path d="M171.71,417.66 C173.42,417.87 178.12,417.87 181.96,418.94 C185.8,420.01 190.07,424.71 194.77,424.07 C199.47,423.43 204.6,416.89 210.15,415.1 C215.7,413.31 222.54,413.1 228.09,413.31 C233.64,413.52 238.34,415.01 243.46,416.38 C248.59,417.75 253.71,421.94 258.84,421.51 C263.97,421.08 268.67,415.53 274.22,413.82 C279.77,412.11 286.18,411.26 292.16,411.26 C298.14,411.26 304.12,411.9 310.1,413.82 C316.08,415.74 322.92,422.79 328.04,422.79 C333.17,422.79 336.15,416.25 340.85,413.82 C345.55,411.38 351.53,408.61 356.23,408.18 C360.93,407.75 363.92,409.47 369.04,411.26 C374.17,413.05 380.57,416.59 386.98,418.94 C393.39,421.29 399.79,426.63 407.48,425.35 C415.17,424.07 424.57,413.18 433.11,411.26 C441.65,409.34 452.33,412.75 458.74,413.82 C465.15,414.89 469.42,417.02 471.55,417.66" stroke="#400000" stroke-width="5.2" opacity="0.8"/><path d="M256.28,444.57 C260.55,443.72 271.23,440.3 281.91,439.45 C292.59,438.6 309.67,439.88 320.35,439.45 C331.03,439.02 341.71,437.31 345.98,436.88" stroke="#400000" stroke-width="6" opacity="0.8"/><path d="M0,544.52 C4.27,543.67 17.09,540.25 25.63,539.4 C34.17,538.55 42.72,538.55 51.26,539.4 C59.8,540.25 68.34,543.45 76.88,544.52 C85.42,545.59 93.97,546.44 102.51,545.8 C111.05,545.16 119.6,541.11 128.14,540.68 C136.68,540.25 145.23,541.96 153.77,543.24 C162.31,544.52 166.59,547.72 179.4,548.36 C192.21,549 222.11,547.29 230.65,547.08" stroke="#400000" stroke-width="16" opacity="0.8"/><path d="M20.5,540.68 C25.63,540.47 41.86,538.67 51.26,539.4 C60.66,540.12 69.19,543.83 76.88,545.03 C84.57,546.23 93.97,546.31 97.39,546.57" stroke="#400000" stroke-width="10" opacity="0.8"/><path d="M394.67,541.96 C401.5,541.53 422.43,539.4 435.67,539.4 C448.91,539.4 464.3,541.32 474.12,541.96 C483.94,542.6 491.2,543.03 494.62,543.24" stroke="#400000" stroke-width="16" opacity="0.8"/><path d="M33.32,570.15 C40.58,570.36 65.35,571.86 76.88,571.43 C88.41,571 89.7,568.45 102.51,567.59 C115.33,566.74 140.96,566.39 153.77,566.3 C166.59,566.21 175.13,566.94 179.4,567.07" stroke="#400000" stroke-width="8" opacity="0.8"/><path d="M210.15,565.02 C215.7,564.81 233.64,563.74 243.46,563.74 C253.28,563.74 264.82,564.81 269.09,565.02" stroke="#400000" stroke-width="8" opacity="0.8"/><path d="M358.79,572.71 C363.06,572.07 371.61,568.87 384.42,568.87 C397.23,568.87 417.3,572.07 435.67,572.71 C454.04,573.35 484.8,572.71 494.62,572.71" stroke="#400000" stroke-width="14" opacity="0.8"/><path d="M410.05,572.2 C416.46,572.37 434.39,573.13 448.49,573.22 C462.59,573.31 486.93,572.8 494.62,572.71" stroke="#400000" stroke-width="8" opacity="0.8"/><path d="M238.34,590.65 C245.6,590.22 266.11,587.88 281.91,588.09 C297.71,588.3 324.62,591.29 333.16,591.93" stroke="#400000" stroke-width="8" opacity="0.8"/><path d="M0,493.26 C4.27,492.83 17.09,490.27 25.63,490.7 C34.17,491.13 40.58,495.4 51.26,495.83 C61.94,496.26 83.29,493.69 89.7,493.26" stroke="#400000" stroke-width="8" opacity="0.8"/><path d="M333.16,531.71 C337.43,532.56 350.25,537.26 358.79,536.83 C367.33,536.4 375.88,530.85 384.42,529.14 C392.96,527.43 401.51,527.86 410.05,526.58 C418.59,525.3 427.13,523.6 435.67,521.46 C444.21,519.33 457.03,515.05 461.3,513.77" stroke="#400000" stroke-width="6" opacity="0.8"/><path d="M333.16,618.84 C341.7,619.7 367.34,622.69 384.42,623.97 C401.5,625.25 417.3,626.96 435.67,626.53 C454.04,626.1 484.8,622.25 494.62,621.4" stroke="#180000" stroke-width="20" opacity="0.6"/><path d="M15.38,595.78 C21.36,595.35 38.87,593.85 51.26,593.21 C63.65,592.57 83.29,592.14 89.7,591.93" stroke="#200000" stroke-width="10" opacity="0.7"/></g><g fill="none" stroke-linecap="round" stroke-linejoin="round" style="mix-blend-mode:screen" filter="url(#bc2)"><path d="M80.73,403.05 C83.29,402.2 90.97,398.14 96.1,397.93 C101.22,397.72 105.5,401.13 111.48,401.77 C117.46,402.41 126,400.06 131.98,401.77 C137.96,403.48 142.23,410.31 147.36,412.02 C152.49,413.73 157.62,412.87 162.74,412.02 C167.87,411.17 173.84,407.54 178.11,406.9 C182.38,406.26 184.52,407.11 188.36,408.18 C192.21,409.25 196.48,413.95 201.18,413.31 C205.88,412.67 211.01,406.13 216.56,404.34 C222.11,402.54 228.95,402.33 234.5,402.54 C240.05,402.75 244.75,404.25 249.87,405.62 C255,406.99 260.12,411.17 265.25,410.74 C270.38,410.31 275.08,404.76 280.63,403.05 C286.18,401.34 292.58,400.49 298.56,400.49 C304.54,400.49 310.52,401.13 316.5,403.05 C322.48,404.97 329.31,412.02 334.44,412.02 C339.57,412.02 342.56,405.48 347.26,403.05 C351.96,400.62 357.93,397.85 362.63,397.42 C367.33,396.99 373.31,399.98 375.45,400.49" stroke="#8a0c00" stroke-width="3" opacity="0.9"/><path d="M171.71,417.66 C173.42,417.87 178.12,417.87 181.96,418.94 C185.8,420.01 190.07,424.71 194.77,424.07 C199.47,423.43 204.6,416.89 210.15,415.1 C215.7,413.31 222.54,413.1 228.09,413.31 C233.64,413.52 238.34,415.01 243.46,416.38 C248.59,417.75 253.71,421.94 258.84,421.51 C263.97,421.08 268.67,415.53 274.22,413.82 C279.77,412.11 286.18,411.26 292.16,411.26 C298.14,411.26 304.12,411.9 310.1,413.82 C316.08,415.74 322.92,422.79 328.04,422.79 C333.17,422.79 336.15,416.25 340.85,413.82 C345.55,411.38 351.53,408.61 356.23,408.18 C360.93,407.75 363.92,409.47 369.04,411.26 C374.17,413.05 380.57,416.59 386.98,418.94 C393.39,421.29 399.79,426.63 407.48,425.35 C415.17,424.07 424.57,413.18 433.11,411.26 C441.65,409.34 452.33,412.75 458.74,413.82 C465.15,414.89 469.42,417.02 471.55,417.66" stroke="#8a0c00" stroke-width="2.6" opacity="0.9"/><path d="M256.28,444.57 C260.55,443.72 271.23,440.3 281.91,439.45 C292.59,438.6 309.67,439.88 320.35,439.45 C331.03,439.02 341.71,437.31 345.98,436.88" stroke="#8a0c00" stroke-width="3" opacity="0.9"/><path d="M0,544.52 C4.27,543.67 17.09,540.25 25.63,539.4 C34.17,538.55 42.72,538.55 51.26,539.4 C59.8,540.25 68.34,543.45 76.88,544.52 C85.42,545.59 93.97,546.44 102.51,545.8 C111.05,545.16 119.6,541.11 128.14,540.68 C136.68,540.25 145.23,541.96 153.77,543.24 C162.31,544.52 166.59,547.72 179.4,548.36 C192.21,549 222.11,547.29 230.65,547.08" stroke="#8a0c00" stroke-width="8" opacity="0.9"/><path d="M20.5,540.68 C25.63,540.47 41.86,538.67 51.26,539.4 C60.66,540.12 69.19,543.83 76.88,545.03 C84.57,546.23 93.97,546.31 97.39,546.57" stroke="#8a0c00" stroke-width="5" opacity="0.9"/><path d="M394.67,541.96 C401.5,541.53 422.43,539.4 435.67,539.4 C448.91,539.4 464.3,541.32 474.12,541.96 C483.94,542.6 491.2,543.03 494.62,543.24" stroke="#8a0c00" stroke-width="8" opacity="0.9"/><path d="M33.32,570.15 C40.58,570.36 65.35,571.86 76.88,571.43 C88.41,571 89.7,568.45 102.51,567.59 C115.33,566.74 140.96,566.39 153.77,566.3 C166.59,566.21 175.13,566.94 179.4,567.07" stroke="#8a0c00" stroke-width="4" opacity="0.9"/><path d="M210.15,565.02 C215.7,564.81 233.64,563.74 243.46,563.74 C253.28,563.74 264.82,564.81 269.09,565.02" stroke="#8a0c00" stroke-width="4" opacity="0.9"/><path d="M358.79,572.71 C363.06,572.07 371.61,568.87 384.42,568.87 C397.23,568.87 417.3,572.07 435.67,572.71 C454.04,573.35 484.8,572.71 494.62,572.71" stroke="#8a0c00" stroke-width="7" opacity="0.9"/><path d="M410.05,572.2 C416.46,572.37 434.39,573.13 448.49,573.22 C462.59,573.31 486.93,572.8 494.62,572.71" stroke="#8a0c00" stroke-width="4" opacity="0.9"/><path d="M238.34,590.65 C245.6,590.22 266.11,587.88 281.91,588.09 C297.71,588.3 324.62,591.29 333.16,591.93" stroke="#8a0c00" stroke-width="4" opacity="0.9"/><path d="M0,493.26 C4.27,492.83 17.09,490.27 25.63,490.7 C34.17,491.13 40.58,495.4 51.26,495.83 C61.94,496.26 83.29,493.69 89.7,493.26" stroke="#8a0c00" stroke-width="4" opacity="0.9"/><path d="M333.16,531.71 C337.43,532.56 350.25,537.26 358.79,536.83 C367.33,536.4 375.88,530.85 384.42,529.14 C392.96,527.43 401.51,527.86 410.05,526.58 C418.59,525.3 427.13,523.6 435.67,521.46 C444.21,519.33 457.03,515.05 461.3,513.77" stroke="#8a0c00" stroke-width="3" opacity="0.9"/><path d="M333.16,618.84 C341.7,619.7 367.34,622.69 384.42,623.97 C401.5,625.25 417.3,626.96 435.67,626.53 C454.04,626.1 484.8,622.25 494.62,621.4" stroke="#300200" stroke-width="10" opacity="0.8"/><path d="M15.38,595.78 C21.36,595.35 38.87,593.85 51.26,593.21 C63.65,592.57 83.29,592.14 89.7,591.93" stroke="#480400" stroke-width="5" opacity="0.85"/></g><g fill="none" stroke-linecap="round" stroke-linejoin="round" style="mix-blend-mode:screen" filter="url(#bh)"><path d="M0,408.69 C2.56,409.12 8.97,410.62 15.38,411.26 C21.79,411.9 31.18,411.9 38.44,412.54 C45.7,413.18 52.53,415.74 58.94,415.1 C65.35,414.46 71.33,410.61 76.88,408.69 C82.43,406.77 87.13,403.78 92.26,403.57 C97.39,403.36 101.66,406.77 107.64,407.41 C113.62,408.05 122.16,405.7 128.14,407.41 C134.12,409.12 138.4,415.95 143.52,417.66 C148.65,419.37 153.76,418.51 158.89,417.66 C164.01,416.81 170,413.18 174.27,412.54 C178.54,411.9 180.68,412.75 184.52,413.82 C188.36,414.89 192.63,419.58 197.33,418.94 C202.03,418.3 207.16,411.76 212.71,409.97 C218.26,408.18 225.1,407.97 230.65,408.18 C236.2,408.39 240.91,409.89 246.03,411.26 C251.16,412.63 256.27,416.81 261.4,416.38 C266.52,415.95 271.23,410.4 276.78,408.69 C282.33,406.98 288.74,406.13 294.72,406.13 C300.7,406.13 306.68,406.77 312.66,408.69 C318.64,410.61 325.48,417.66 330.6,417.66 C335.73,417.66 338.71,411.12 343.41,408.69 C348.11,406.25 354.09,403.48 358.79,403.05 C363.49,402.62 366.48,404.33 371.6,406.13 C376.73,407.93 383.13,411.47 389.54,413.82 C395.95,416.17 402.36,421.51 410.05,420.23 C417.74,418.95 427.13,408.05 435.67,406.13 C444.21,404.21 454.89,407.62 461.3,408.69 C467.71,409.76 468.57,412.54 474.12,412.54 C479.67,412.54 491.2,409.33 494.62,408.69" stroke="#800800" stroke-width="4.86" opacity="0.8"/><path d="M144.8,418.43 L158.89,417.66" stroke="#e05000" stroke-width="4.9" opacity="0.8"/><path d="M183.24,413.31 L197.33,418.94" stroke="#e05000" stroke-width="4.49" opacity="0.8"/><path d="M212.71,409.97 C215.7,409.67 225.1,407.97 230.65,408.18 C236.2,408.39 243.47,410.75 246.03,411.26" stroke="#b02000" stroke-width="4.49" opacity="0.8"/><path d="M343.41,408.69 C345.97,407.75 354.09,403.48 358.79,403.05 C363.49,402.62 369.47,405.62 371.6,406.13" stroke="#b02000" stroke-width="4.49" opacity="0.8"/><path d="M69.2,427.91 C71.76,427.48 79.02,424.28 84.57,425.35 C90.12,426.42 97.38,432.61 102.51,434.32 C107.64,436.03 110.2,434.11 115.33,435.6 C120.45,437.1 128.56,441.8 133.26,443.29 C137.96,444.79 141.81,444.36 143.52,444.57" stroke="#800800" stroke-width="4.49" opacity="0.8"/><path d="M148.64,435.6 C151.63,436.24 160.6,437.95 166.58,439.45 C172.56,440.94 181.53,443.72 184.52,444.57" stroke="#800800" stroke-width="4.11" opacity="0.8"/><path d="M10.25,436.88 C13.67,437.74 24.77,440.3 30.75,442.01 C36.73,443.72 40.15,445.63 46.13,447.13 C52.11,448.62 63.21,450.34 66.63,450.98" stroke="#800800" stroke-width="4.49" opacity="0.8"/><path d="M41,445.85 L48.69,447.9" stroke="#e05000" stroke-width="4.08" opacity="0.8"/><path d="M58.94,459.95 C61.5,461.66 68.77,466.57 74.32,470.2 C79.87,473.83 86.28,478.53 92.26,481.73 C98.24,484.93 104.22,488.78 110.2,489.42 C116.18,490.06 122.59,485.15 128.14,485.58 C133.69,486.01 137.54,489.85 143.52,491.98 C149.5,494.12 156.33,498.18 164.02,498.39 C171.71,498.6 180.68,493.9 189.65,493.26 C198.62,492.62 210.15,493.69 217.84,494.55 C225.53,495.41 229.37,495.62 235.78,498.39 C242.19,501.16 248.59,506.93 256.28,511.2 C263.97,515.47 273.37,521.03 281.91,524.02 C290.45,527.01 299.84,527.86 307.53,529.14 C315.22,530.42 324.62,531.28 328.04,531.71" stroke="#800800" stroke-width="4.49" opacity="0.8"/><path d="M158.89,498.39 C162.31,497.75 172.56,495.49 179.4,494.55 C186.24,493.61 193.07,492.67 199.9,492.75 C206.73,492.83 216.98,494.68 220.4,495.06" stroke="#e05000" stroke-width="4.08" opacity="0.8"/><path d="M235.78,497.11 C238.34,495.62 246.03,490.27 251.15,488.14 C256.27,486 263.97,484.94 266.53,484.3" stroke="#800800" stroke-width="4.49" opacity="0.8"/><path d="M222.96,442.01 C225.52,444.14 232.79,451.19 238.34,454.82 C243.89,458.45 250.73,461.23 256.28,463.79 C261.83,466.35 267.39,468.7 271.66,470.2 C275.93,471.69 280.2,472.33 281.91,472.76" stroke="#800800" stroke-width="4.11" opacity="0.8"/><path d="M276.78,427.91 C281.9,428.12 298.13,428.13 307.53,429.2 C316.93,430.27 328.89,433.47 333.16,434.32" stroke="#800800" stroke-width="4.11" opacity="0.8"/><path d="M379.29,449.7 C381.43,450.21 387.84,451.06 392.11,452.77 C396.38,454.48 400.22,457.47 404.92,459.95 C409.62,462.43 417.74,466.36 420.3,467.64" stroke="#800800" stroke-width="4.49" opacity="0.8"/><path d="M384.42,450.98 L393.39,453.29" stroke="#e05000" stroke-width="4.08" opacity="0.8"/><path d="M474.12,498.39 L494.62,491.98" stroke="#b02000" stroke-width="6.12" opacity="0.8"/><path d="M353.66,524.02 C355.37,523.68 360.93,521.54 363.92,521.97 C366.91,522.4 370.32,525.81 371.6,526.58" stroke="#b02000" stroke-width="4.9" opacity="0.8"/><path d="M422.86,406.13 C429.27,405.27 449.34,401.43 461.3,401 C473.26,400.57 489.07,403.14 494.62,403.57" stroke="#800800" stroke-width="4.49" opacity="0.8"/></g><g fill="none" stroke-linecap="round" stroke-linejoin="round" style="mix-blend-mode:screen" filter="url(#bc)"><path d="M0,408.69 C2.56,409.12 8.97,410.62 15.38,411.26 C21.79,411.9 31.18,411.9 38.44,412.54 C45.7,413.18 52.53,415.74 58.94,415.1 C65.35,414.46 71.33,410.61 76.88,408.69 C82.43,406.77 87.13,403.78 92.26,403.57 C97.39,403.36 101.66,406.77 107.64,407.41 C113.62,408.05 122.16,405.7 128.14,407.41 C134.12,409.12 138.4,415.95 143.52,417.66 C148.65,419.37 153.76,418.51 158.89,417.66 C164.01,416.81 170,413.18 174.27,412.54 C178.54,411.9 180.68,412.75 184.52,413.82 C188.36,414.89 192.63,419.58 197.33,418.94 C202.03,418.3 207.16,411.76 212.71,409.97 C218.26,408.18 225.1,407.97 230.65,408.18 C236.2,408.39 240.91,409.89 246.03,411.26 C251.16,412.63 256.27,416.81 261.4,416.38 C266.52,415.95 271.23,410.4 276.78,408.69 C282.33,406.98 288.74,406.13 294.72,406.13 C300.7,406.13 306.68,406.77 312.66,408.69 C318.64,410.61 325.48,417.66 330.6,417.66 C335.73,417.66 338.71,411.12 343.41,408.69 C348.11,406.25 354.09,403.48 358.79,403.05 C363.49,402.62 366.48,404.33 371.6,406.13 C376.73,407.93 383.13,411.47 389.54,413.82 C395.95,416.17 402.36,421.51 410.05,420.23 C417.74,418.95 427.13,408.05 435.67,406.13 C444.21,404.21 454.89,407.62 461.3,408.69 C467.71,409.76 468.57,412.54 474.12,412.54 C479.67,412.54 491.2,409.33 494.62,408.69" stroke="#e82000" stroke-width="2.21" opacity="0.95"/><path d="M144.8,418.43 L158.89,417.66" stroke="#ffe800" stroke-width="2.04" opacity="1"/><path d="M183.24,413.31 L197.33,418.94" stroke="#ffe800" stroke-width="1.87" opacity="1"/><path d="M212.71,409.97 C215.7,409.67 225.1,407.97 230.65,408.18 C236.2,408.39 243.47,410.75 246.03,411.26" stroke="#ff8a00" stroke-width="1.87" opacity="1"/><path d="M343.41,408.69 C345.97,407.75 354.09,403.48 358.79,403.05 C363.49,402.62 369.47,405.62 371.6,406.13" stroke="#ff8a00" stroke-width="1.87" opacity="1"/><path d="M69.2,427.91 C71.76,427.48 79.02,424.28 84.57,425.35 C90.12,426.42 97.38,432.61 102.51,434.32 C107.64,436.03 110.2,434.11 115.33,435.6 C120.45,437.1 128.56,441.8 133.26,443.29 C137.96,444.79 141.81,444.36 143.52,444.57" stroke="#e82000" stroke-width="2.04" opacity="0.95"/><path d="M148.64,435.6 C151.63,436.24 160.6,437.95 166.58,439.45 C172.56,440.94 181.53,443.72 184.52,444.57" stroke="#e82000" stroke-width="1.87" opacity="0.95"/><path d="M10.25,436.88 C13.67,437.74 24.77,440.3 30.75,442.01 C36.73,443.72 40.15,445.63 46.13,447.13 C52.11,448.62 63.21,450.34 66.63,450.98" stroke="#e82000" stroke-width="2.04" opacity="0.95"/><path d="M41,445.85 L48.69,447.9" stroke="#ffe800" stroke-width="1.7" opacity="1"/><path d="M58.94,459.95 C61.5,461.66 68.77,466.57 74.32,470.2 C79.87,473.83 86.28,478.53 92.26,481.73 C98.24,484.93 104.22,488.78 110.2,489.42 C116.18,490.06 122.59,485.15 128.14,485.58 C133.69,486.01 137.54,489.85 143.52,491.98 C149.5,494.12 156.33,498.18 164.02,498.39 C171.71,498.6 180.68,493.9 189.65,493.26 C198.62,492.62 210.15,493.69 217.84,494.55 C225.53,495.41 229.37,495.62 235.78,498.39 C242.19,501.16 248.59,506.93 256.28,511.2 C263.97,515.47 273.37,521.03 281.91,524.02 C290.45,527.01 299.84,527.86 307.53,529.14 C315.22,530.42 324.62,531.28 328.04,531.71" stroke="#e82000" stroke-width="2.04" opacity="0.95"/><path d="M158.89,498.39 C162.31,497.75 172.56,495.49 179.4,494.55 C186.24,493.61 193.07,492.67 199.9,492.75 C206.73,492.83 216.98,494.68 220.4,495.06" stroke="#ffe800" stroke-width="1.7" opacity="1"/><path d="M235.78,497.11 C238.34,495.62 246.03,490.27 251.15,488.14 C256.27,486 263.97,484.94 266.53,484.3" stroke="#e82000" stroke-width="2.04" opacity="0.95"/><path d="M222.96,442.01 C225.52,444.14 232.79,451.19 238.34,454.82 C243.89,458.45 250.73,461.23 256.28,463.79 C261.83,466.35 267.39,468.7 271.66,470.2 C275.93,471.69 280.2,472.33 281.91,472.76" stroke="#e82000" stroke-width="1.87" opacity="0.95"/><path d="M276.78,427.91 C281.9,428.12 298.13,428.13 307.53,429.2 C316.93,430.27 328.89,433.47 333.16,434.32" stroke="#e82000" stroke-width="1.87" opacity="0.95"/><path d="M379.29,449.7 C381.43,450.21 387.84,451.06 392.11,452.77 C396.38,454.48 400.22,457.47 404.92,459.95 C409.62,462.43 417.74,466.36 420.3,467.64" stroke="#e82000" stroke-width="2.04" opacity="0.95"/><path d="M384.42,450.98 L393.39,453.29" stroke="#ffe800" stroke-width="1.7" opacity="1"/><path d="M474.12,498.39 L494.62,491.98" stroke="#ff8a00" stroke-width="2.55" opacity="1"/><path d="M353.66,524.02 C355.37,523.68 360.93,521.54 363.92,521.97 C366.91,522.4 370.32,525.81 371.6,526.58" stroke="#ff8a00" stroke-width="2.04" opacity="1"/><path d="M422.86,406.13 C429.27,405.27 449.34,401.43 461.3,401 C473.26,400.57 489.07,403.14 494.62,403.57" stroke="#e82000" stroke-width="2.04" opacity="0.95"/></g></g>
<rect x="502.6" y="373.6" width="493.4" height="282.9" fill="#000" stroke="none" stroke-width="0" />
<g clip-path="url(#clipd)"><g mask="url(#mD1)" style="mix-blend-mode:screen"><rect x="502.6" y="374" width="493.4" height="283" filter="url(#tD1)"/></g><g mask="url(#mD1)" style="mix-blend-mode:screen"><rect x="502.6" y="374" width="493.4" height="283" filter="url(#tD2)"/></g><g fill="none" stroke-linecap="round" stroke-linejoin="round" style="mix-blend-mode:screen" filter="url(#bh2)"><path d="M863.14,482.6 C865.8,482.51 873.8,481.85 879.13,482.07 C884.46,482.29 892.46,483.63 895.13,483.94" stroke="#400000" stroke-width="8" opacity="0.8"/><path d="M716.55,579.89 C719.66,579.67 728.99,578.42 735.21,578.55 C741.43,578.68 750.75,580.33 753.86,580.69" stroke="#400000" stroke-width="6" opacity="0.8"/><path d="M809.84,602.54 C814.28,603.21 827.61,604.98 836.49,606.54 C845.37,608.1 853.37,610.76 863.14,611.87 C872.91,612.98 889.8,612.98 895.13,613.2" stroke="#400000" stroke-width="6" opacity="0.8"/><path d="M836.49,586.55 C840.04,585.66 851.15,582.55 857.81,581.22 C864.47,579.89 870.25,578.11 876.47,578.55 C882.69,578.99 888.47,582.11 895.13,583.89 C901.79,585.67 912.9,588.33 916.45,589.22" stroke="#400000" stroke-width="6" opacity="0.8"/></g><g fill="none" stroke-linecap="round" stroke-linejoin="round" style="mix-blend-mode:screen" filter="url(#bc2)"><path d="M863.14,482.6 C865.8,482.51 873.8,481.85 879.13,482.07 C884.46,482.29 892.46,483.63 895.13,483.94" stroke="#8a0c00" stroke-width="4" opacity="0.9"/><path d="M716.55,579.89 C719.66,579.67 728.99,578.42 735.21,578.55 C741.43,578.68 750.75,580.33 753.86,580.69" stroke="#8a0c00" stroke-width="3" opacity="0.9"/><path d="M809.84,602.54 C814.28,603.21 827.61,604.98 836.49,606.54 C845.37,608.1 853.37,610.76 863.14,611.87 C872.91,612.98 889.8,612.98 895.13,613.2" stroke="#8a0c00" stroke-width="3" opacity="0.9"/><path d="M836.49,586.55 C840.04,585.66 851.15,582.55 857.81,581.22 C864.47,579.89 870.25,578.11 876.47,578.55 C882.69,578.99 888.47,582.11 895.13,583.89 C901.79,585.67 912.9,588.33 916.45,589.22" stroke="#8a0c00" stroke-width="3" opacity="0.9"/></g><g fill="none" stroke-linecap="round" stroke-linejoin="round" style="mix-blend-mode:screen" filter="url(#bh)"><path d="M737.87,465.28 C740.98,465.5 748.98,465.72 756.53,466.61 C764.08,467.5 775.18,469.19 783.18,470.61 C791.18,472.03 797.85,474.92 804.51,475.14 C811.17,475.36 816.5,473.58 823.16,471.94 C829.82,470.3 837.82,466.92 844.48,465.28 C851.14,463.64 856.92,462.75 863.14,462.08 C869.36,461.41 875.58,460.97 881.8,461.28 C888.02,461.59 894.69,462.84 900.46,463.95 C906.24,465.06 910.23,466.61 916.45,467.94 C922.67,469.27 931.11,470.61 937.77,471.94 C944.43,473.27 953.32,475.27 956.43,475.94" stroke="#800800" stroke-width="5.61" opacity="0.8"/><path d="M836.49,467.94 C840.93,466.96 855.59,463.19 863.14,462.08 C870.69,460.97 875.58,460.97 881.8,461.28 C888.02,461.59 897.35,463.5 900.46,463.95" stroke="#e05000" stroke-width="4.08" opacity="0.8"/><path d="M564.63,447.95 C566.41,448.26 571.74,448.93 575.29,449.82 C578.84,450.71 582.4,451.6 585.95,453.29 C589.5,454.98 594.83,458.84 596.61,459.95" stroke="#b02000" stroke-width="4.9" opacity="0.8"/><path d="M569.96,449.02 L579.29,450.62" stroke="#e05000" stroke-width="4.08" opacity="0.8"/><path d="M620.6,463.95 C622.82,464.62 629.49,466.38 633.93,467.94 C638.37,469.5 643.25,472.08 647.25,473.28 C651.25,474.48 656.13,474.83 657.91,475.14" stroke="#b02000" stroke-width="4.9" opacity="0.8"/><path d="M503.33,506.59 C506.44,506.81 515.32,507.39 521.98,507.92 C528.64,508.45 536.2,509.35 543.31,509.79 C550.42,510.24 557.52,510.23 564.63,510.59 C571.74,510.94 578.84,511.03 585.95,511.92 C593.06,512.81 601.05,514.14 607.27,515.92 C613.49,517.7 617.93,520.8 623.26,522.58 C628.59,524.36 633.04,525.69 639.26,526.58 C645.48,527.47 653.47,527.78 660.58,527.91 C667.69,528.04 675.24,527.16 681.9,527.38 C688.56,527.6 694.34,529.38 700.56,529.25 C706.78,529.12 716.11,527.03 719.22,526.58" stroke="#800800" stroke-width="6.36" opacity="0.8"/><path d="M529.98,508.72 L556.63,510.32" stroke="#b02000" stroke-width="4.9" opacity="0.8"/><path d="M687.23,528.45 L708.55,528.98" stroke="#b02000" stroke-width="5.3" opacity="0.8"/><path d="M767.19,505.26 C769.86,505.04 778.29,505.49 783.18,503.93 C788.07,502.38 791.62,498.15 796.51,495.93 C801.4,493.71 807.61,490.82 812.5,490.6 C817.39,490.38 820.94,492.38 825.83,494.6 C830.72,496.82 836.49,500.6 841.82,503.93 C847.15,507.26 852.92,511.93 857.81,514.59 C862.7,517.25 868.92,519.03 871.14,519.92" stroke="#800800" stroke-width="5.61" opacity="0.8"/><path d="M804.51,565.23 C808.06,564.12 818.72,561 825.83,558.56 C832.94,556.12 840.04,552.57 847.15,550.57 C854.26,548.57 862.25,548.12 868.47,546.57 C874.69,545.02 879.13,543.9 884.46,541.24 C889.79,538.58 895.13,534.13 900.46,530.58 C905.79,527.03 911.12,522.58 916.45,519.92 C921.78,517.25 926.22,515.26 932.44,514.59 C938.66,513.92 946.65,515.25 953.76,515.92 C960.87,516.59 968.02,517.92 975.08,518.59 C982.14,519.26 992.63,519.7 996.14,519.92" stroke="#800800" stroke-width="6.36" opacity="0.8"/><path d="M537.98,525.25 C540.64,526.58 548.64,531.24 553.97,533.24 C559.3,535.24 565.07,536.35 569.96,537.24 C574.85,538.13 581.07,538.36 583.29,538.58" stroke="#800800" stroke-width="4.86" opacity="0.8"/><path d="M601.94,543.91 C604.61,542.8 613.04,538.57 617.93,537.24 C622.82,535.91 625.93,535.02 631.26,535.91 C636.59,536.8 646.81,541.46 649.92,542.57" stroke="#800800" stroke-width="4.86" opacity="0.8"/><path d="M764.53,423.97 C767.64,424.19 777.41,425.52 783.18,425.3 C788.95,425.08 794.28,423.96 799.17,422.63 C804.06,421.3 810.28,418.19 812.5,417.3" stroke="#800800" stroke-width="5.61" opacity="0.8"/><path d="M649.92,418.64 C652.14,419.31 658.8,421.52 663.24,422.63 C667.68,423.74 674.35,424.86 676.57,425.3" stroke="#800800" stroke-width="4.49" opacity="0.8"/><path d="M673.91,430.63 C676.57,430.19 684.57,428.19 689.9,427.97 C695.23,427.75 703.23,429.08 705.89,429.3" stroke="#800800" stroke-width="4.49" opacity="0.8"/><path d="M660.58,446.62 C663.25,447.29 671.24,449.51 676.57,450.62 C681.9,451.73 688.12,452.94 692.56,453.29 C697,453.65 701.44,452.84 703.22,452.75" stroke="#800800" stroke-width="4.86" opacity="0.8"/><path d="M791.18,438.63 C794.29,438.41 804.51,437.07 809.84,437.29 C815.17,437.51 820.94,439.51 823.16,439.96" stroke="#800800" stroke-width="7.48" opacity="0.8"/><path d="M839.15,426.63 L847.15,428.76" stroke="#800800" stroke-width="7.48" opacity="0.8"/><path d="M860.48,417.3 L876.47,415.97" stroke="#800800" stroke-width="4.49" opacity="0.8"/><path d="M743.2,451.95 C745.42,452.17 752.09,453.07 756.53,453.29 C760.97,453.51 767.64,453.29 769.86,453.29" stroke="#800800" stroke-width="4.86" opacity="0.8"/><path d="M591.28,490.6 C592.61,490.16 596.62,489.04 599.28,487.93 C601.94,486.82 605.94,484.61 607.27,483.94" stroke="#800800" stroke-width="5.61" opacity="0.8"/><path d="M604.61,477.27 C606.83,476.83 614.82,474.83 617.93,474.61 C621.04,474.39 622.37,475.72 623.26,475.94" stroke="#800800" stroke-width="5.61" opacity="0.8"/><path d="M583.29,594.55 C586.4,594.11 595.72,592.1 601.94,591.88 C608.16,591.66 617.49,592.99 620.6,593.21" stroke="#800800" stroke-width="5.61" opacity="0.8"/><path d="M708.55,599.88 C711.22,599.21 718.77,596.33 724.55,595.88 C730.32,595.43 740.09,596.99 743.2,597.21" stroke="#800800" stroke-width="4.86" opacity="0.8"/><path d="M769.86,521.25 C772.08,521.69 778.74,522.81 783.18,523.92 C787.62,525.03 794.29,527.25 796.51,527.91" stroke="#800800" stroke-width="4.86" opacity="0.8"/><path d="M916.45,546.57 C918.67,547.24 925.33,549.68 929.77,550.57 C934.21,551.46 940.88,551.68 943.1,551.9" stroke="#800800" stroke-width="4.86" opacity="0.8"/></g><g fill="none" stroke-linecap="round" stroke-linejoin="round" style="mix-blend-mode:screen" filter="url(#bc)"><path d="M737.87,465.28 C740.98,465.5 748.98,465.72 756.53,466.61 C764.08,467.5 775.18,469.19 783.18,470.61 C791.18,472.03 797.85,474.92 804.51,475.14 C811.17,475.36 816.5,473.58 823.16,471.94 C829.82,470.3 837.82,466.92 844.48,465.28 C851.14,463.64 856.92,462.75 863.14,462.08 C869.36,461.41 875.58,460.97 881.8,461.28 C888.02,461.59 894.69,462.84 900.46,463.95 C906.24,465.06 910.23,466.61 916.45,467.94 C922.67,469.27 931.11,470.61 937.77,471.94 C944.43,473.27 953.32,475.27 956.43,475.94" stroke="#e82000" stroke-width="2.55" opacity="0.95"/><path d="M836.49,467.94 C840.93,466.96 855.59,463.19 863.14,462.08 C870.69,460.97 875.58,460.97 881.8,461.28 C888.02,461.59 897.35,463.5 900.46,463.95" stroke="#ffe800" stroke-width="1.7" opacity="1"/><path d="M564.63,447.95 C566.41,448.26 571.74,448.93 575.29,449.82 C578.84,450.71 582.4,451.6 585.95,453.29 C589.5,454.98 594.83,458.84 596.61,459.95" stroke="#ff8a00" stroke-width="2.04" opacity="1"/><path d="M569.96,449.02 L579.29,450.62" stroke="#ffe800" stroke-width="1.7" opacity="1"/><path d="M620.6,463.95 C622.82,464.62 629.49,466.38 633.93,467.94 C638.37,469.5 643.25,472.08 647.25,473.28 C651.25,474.48 656.13,474.83 657.91,475.14" stroke="#ff8a00" stroke-width="2.04" opacity="1"/><path d="M503.33,506.59 C506.44,506.81 515.32,507.39 521.98,507.92 C528.64,508.45 536.2,509.35 543.31,509.79 C550.42,510.24 557.52,510.23 564.63,510.59 C571.74,510.94 578.84,511.03 585.95,511.92 C593.06,512.81 601.05,514.14 607.27,515.92 C613.49,517.7 617.93,520.8 623.26,522.58 C628.59,524.36 633.04,525.69 639.26,526.58 C645.48,527.47 653.47,527.78 660.58,527.91 C667.69,528.04 675.24,527.16 681.9,527.38 C688.56,527.6 694.34,529.38 700.56,529.25 C706.78,529.12 716.11,527.03 719.22,526.58" stroke="#e82000" stroke-width="2.89" opacity="0.95"/><path d="M529.98,508.72 L556.63,510.32" stroke="#ff8a00" stroke-width="2.04" opacity="1"/><path d="M687.23,528.45 L708.55,528.98" stroke="#ff8a00" stroke-width="2.21" opacity="1"/><path d="M767.19,505.26 C769.86,505.04 778.29,505.49 783.18,503.93 C788.07,502.38 791.62,498.15 796.51,495.93 C801.4,493.71 807.61,490.82 812.5,490.6 C817.39,490.38 820.94,492.38 825.83,494.6 C830.72,496.82 836.49,500.6 841.82,503.93 C847.15,507.26 852.92,511.93 857.81,514.59 C862.7,517.25 868.92,519.03 871.14,519.92" stroke="#e82000" stroke-width="2.55" opacity="0.95"/><path d="M804.51,565.23 C808.06,564.12 818.72,561 825.83,558.56 C832.94,556.12 840.04,552.57 847.15,550.57 C854.26,548.57 862.25,548.12 868.47,546.57 C874.69,545.02 879.13,543.9 884.46,541.24 C889.79,538.58 895.13,534.13 900.46,530.58 C905.79,527.03 911.12,522.58 916.45,519.92 C921.78,517.25 926.22,515.26 932.44,514.59 C938.66,513.92 946.65,515.25 953.76,515.92 C960.87,516.59 968.02,517.92 975.08,518.59 C982.14,519.26 992.63,519.7 996.14,519.92" stroke="#e82000" stroke-width="2.89" opacity="0.95"/><path d="M537.98,525.25 C540.64,526.58 548.64,531.24 553.97,533.24 C559.3,535.24 565.07,536.35 569.96,537.24 C574.85,538.13 581.07,538.36 583.29,538.58" stroke="#e82000" stroke-width="2.21" opacity="0.95"/><path d="M601.94,543.91 C604.61,542.8 613.04,538.57 617.93,537.24 C622.82,535.91 625.93,535.02 631.26,535.91 C636.59,536.8 646.81,541.46 649.92,542.57" stroke="#e82000" stroke-width="2.21" opacity="0.95"/><path d="M764.53,423.97 C767.64,424.19 777.41,425.52 783.18,425.3 C788.95,425.08 794.28,423.96 799.17,422.63 C804.06,421.3 810.28,418.19 812.5,417.3" stroke="#e82000" stroke-width="2.55" opacity="0.95"/><path d="M649.92,418.64 C652.14,419.31 658.8,421.52 663.24,422.63 C667.68,423.74 674.35,424.86 676.57,425.3" stroke="#e82000" stroke-width="2.04" opacity="0.95"/><path d="M673.91,430.63 C676.57,430.19 684.57,428.19 689.9,427.97 C695.23,427.75 703.23,429.08 705.89,429.3" stroke="#e82000" stroke-width="2.04" opacity="0.95"/><path d="M660.58,446.62 C663.25,447.29 671.24,449.51 676.57,450.62 C681.9,451.73 688.12,452.94 692.56,453.29 C697,453.65 701.44,452.84 703.22,452.75" stroke="#e82000" stroke-width="2.21" opacity="0.95"/><path d="M791.18,438.63 C794.29,438.41 804.51,437.07 809.84,437.29 C815.17,437.51 820.94,439.51 823.16,439.96" stroke="#e82000" stroke-width="3.4" opacity="0.95"/><path d="M839.15,426.63 L847.15,428.76" stroke="#e82000" stroke-width="3.4" opacity="0.95"/><path d="M860.48,417.3 L876.47,415.97" stroke="#e82000" stroke-width="2.04" opacity="0.95"/><path d="M743.2,451.95 C745.42,452.17 752.09,453.07 756.53,453.29 C760.97,453.51 767.64,453.29 769.86,453.29" stroke="#e82000" stroke-width="2.21" opacity="0.95"/><path d="M591.28,490.6 C592.61,490.16 596.62,489.04 599.28,487.93 C601.94,486.82 605.94,484.61 607.27,483.94" stroke="#e82000" stroke-width="2.55" opacity="0.95"/><path d="M604.61,477.27 C606.83,476.83 614.82,474.83 617.93,474.61 C621.04,474.39 622.37,475.72 623.26,475.94" stroke="#e82000" stroke-width="2.55" opacity="0.95"/><path d="M583.29,594.55 C586.4,594.11 595.72,592.1 601.94,591.88 C608.16,591.66 617.49,592.99 620.6,593.21" stroke="#e82000" stroke-width="2.55" opacity="0.95"/><path d="M708.55,599.88 C711.22,599.21 718.77,596.33 724.55,595.88 C730.32,595.43 740.09,596.99 743.2,597.21" stroke="#e82000" stroke-width="2.21" opacity="0.95"/><path d="M769.86,521.25 C772.08,521.69 778.74,522.81 783.18,523.92 C787.62,525.03 794.29,527.25 796.51,527.91" stroke="#e82000" stroke-width="2.21" opacity="0.95"/><path d="M916.45,546.57 C918.67,547.24 925.33,549.68 929.77,550.57 C934.21,551.46 940.88,551.68 943.1,551.9" stroke="#e82000" stroke-width="2.21" opacity="0.95"/></g></g>
<text x="12.3" y="137.38" font-size="43" text-anchor="start" font-weight="bold" font-style="normal" fill="#fff" >a</text>
<text x="413.65" y="160.24" font-size="30" text-anchor="start" font-weight="bold" font-style="normal" fill="#fff" >SD</text>
<text x="413.65" y="288.38" font-size="30" text-anchor="start" font-weight="bold" font-style="normal" fill="#fff" >RD</text>
<line x1="477.48" y1="128.15" x2="477.48" y2="339.63" stroke="#fff" stroke-width="2.8" stroke-linecap="butt" />
<polyline points="467.48,144.65 477.48,127.15 487.48,144.65" fill="none" stroke="#fff" stroke-width="2.8"/>
<polyline points="467.48,145.01 477.48,162.51 487.48,145.01" fill="none" stroke="#fff" stroke-width="2.8"/>
<polyline points="467.48,181.29 477.48,163.79 487.48,181.29" fill="none" stroke="#fff" stroke-width="2.8"/>
<polyline points="467.48,323.13 477.48,340.63 487.48,323.13" fill="none" stroke="#fff" stroke-width="2.8"/>
<polyline points="14.1,289.37 14.1,359.85 76.88,359.85" fill="none" stroke="#fff" stroke-width="3.4"/>
<text x="514.79" y="138.33" font-size="43" text-anchor="start" font-weight="bold" font-style="normal" fill="#fff" >b</text>
<text x="916.75" y="168.74" font-size="30" text-anchor="start" font-weight="bold" font-style="normal" fill="#fff" >SD</text>
<text x="916.75" y="273.22" font-size="30" text-anchor="start" font-weight="bold" font-style="normal" fill="#fff" >RD</text>
<line x1="977.22" y1="134.3" x2="977.22" y2="333.53" stroke="#fff" stroke-width="2.8" stroke-linecap="butt" />
<polyline points="967.22,150.8 977.22,133.3 987.22,150.8" fill="none" stroke="#fff" stroke-width="2.8"/>
<polyline points="967.22,149.11 977.22,166.61 987.22,149.11" fill="none" stroke="#fff" stroke-width="2.8"/>
<polyline points="967.22,184.11 977.22,166.61 987.22,184.11" fill="none" stroke="#fff" stroke-width="2.8"/>
<polyline points="967.22,317.03 977.22,334.53 987.22,317.03" fill="none" stroke="#fff" stroke-width="2.8"/>
<text x="17.43" y="422.01" font-size="43" text-anchor="start" font-weight="bold" font-style="normal" fill="#fff" >c</text>
<text x="413.65" y="450.5" font-size="30" text-anchor="start" font-weight="bold" font-style="normal" fill="#fff" >SD</text>
<text x="413.65" y="579.92" font-size="30" text-anchor="start" font-weight="bold" font-style="normal" fill="#fff" >RD</text>
<line x1="473.6" y1="418.66" x2="473.6" y2="620.4" stroke="#fff" stroke-width="2.8" stroke-linecap="butt" />
<polyline points="463.6,435.16 473.6,417.66 483.6,435.16" fill="none" stroke="#fff" stroke-width="2.8"/>
<polyline points="463.6,433.48 473.6,450.98 483.6,433.48" fill="none" stroke="#fff" stroke-width="2.8"/>
<polyline points="463.6,469.76 473.6,452.26 483.6,469.76" fill="none" stroke="#fff" stroke-width="2.8"/>
<polyline points="463.6,603.9 473.6,621.4 483.6,603.9" fill="none" stroke="#fff" stroke-width="2.8"/>
<polyline points="13.33,575.27 13.33,645.75 75.6,645.75" fill="none" stroke="#fff" stroke-width="3.4"/>
<text x="516.12" y="423.67" font-size="43" text-anchor="start" font-weight="bold" font-style="normal" fill="#fff" >d</text>
<text x="916.75" y="456.75" font-size="30" text-anchor="start" font-weight="bold" font-style="normal" fill="#fff" >SD</text>
<text x="916.75" y="579.35" font-size="30" text-anchor="start" font-weight="bold" font-style="normal" fill="#fff" >RD</text>
<line x1="976.72" y1="424.97" x2="976.72" y2="618.87" stroke="#fff" stroke-width="2.8" stroke-linecap="butt" />
<polyline points="966.72,441.47 976.72,423.97 986.72,441.47" fill="none" stroke="#fff" stroke-width="2.8"/>
<polyline points="966.72,439.78 976.72,457.28 986.72,439.78" fill="none" stroke="#fff" stroke-width="2.8"/>
<polyline points="966.72,476.12 976.72,458.62 986.72,476.12" fill="none" stroke="#fff" stroke-width="2.8"/>
<polyline points="966.72,602.37 976.72,619.87 986.72,602.37" fill="none" stroke="#fff" stroke-width="2.8"/>
<polyline points="1159.92,120.06 1172.22,123.01 1183.29,126.7 1194.36,124.98 1200.51,124.98 1207.89,119.32 1214.04,118.83 1216.5,127.93 1220.19,152.54 1226.35,162.38 1231.27,168.53 1241.11,174.68 1253.41,177.63 1265.71,182.55 1282.93,185.75 1295.23,188.21 1314.92,189.93 1332.14,193.13 1344.44,194.36 1356.74,194.85 1360.43,189.44 1364.12,159.92 1367.81,110.71 1371.5,73.81 1375.19,59.05 1381.34,56.09 1386.26,59.05 1389.95,65.2 1396.1,64.46 1401.03,73.81 1405.95,79.96 1415.79,84.88 1420.71,91.03 1425.63,95.95 1430.55,92.26 1436.7,85.62 1442.85,93 1452.69,93.49" fill="none" stroke="#0072BD" stroke-width="2.6" stroke-linejoin="round" stroke-linecap="round" />
<polyline points="1159.92,107.51 1172.22,111.94 1183.29,117.6 1194.36,113.66 1200.51,113.66 1207.89,107.51 1216.5,105.79 1218.96,109.48 1222.66,125.47 1227.58,137.78 1233.73,157.46 1241.11,174.68 1248.49,189.44 1258.33,204.2 1270.63,216.5 1282.93,226.35 1295.23,233.73 1307.53,238.15 1319.84,240.62 1332.14,239.88 1344.44,238.65 1355.51,236.92 1359.2,228.81 1362.89,184.52 1366.58,127.93 1370.27,83.65 1373.96,61.51 1378.88,55.36 1386.26,54.13 1396.1,57.08 1405.95,60.28 1413.33,66.43 1418.25,71.35 1428.09,73.32 1435.47,73.32 1440.39,76.27 1452.69,77.25" fill="none" stroke="#D95319" stroke-width="2.6" stroke-linejoin="round" stroke-linecap="round" />
<polyline points="1159.92,111.94 1172.22,115.14 1183.29,120.55 1194.36,116.86 1200.51,116.86 1207.89,110.71 1216.5,108.74 1218.96,115.63 1222.66,132.85 1227.58,145.16 1233.73,159.92 1241.11,175.91 1248.49,188.21 1258.33,199.77 1270.63,209.12 1282.93,216.5 1295.23,221.42 1307.53,224.38 1319.84,225.61 1332.14,225.61 1344.44,224.62 1356.74,223.39 1359.69,214.04 1362.89,177.14 1366.58,123.01 1370.27,78.73 1373.96,60.28 1378.88,55.36 1386.26,54.62 1396.1,59.05 1405.95,65.2 1413.33,71.35 1418.25,76.27 1423.17,79.22 1433.01,78.73 1440.39,80.7 1452.69,81.19" fill="none" stroke="#EDB120" stroke-width="2.6" stroke-linejoin="round" stroke-linecap="round" />
<line x1="1158.69" y1="51.7" x2="1158.69" y2="271.83" stroke="#000" stroke-width="2.4" stroke-linecap="butt" />
<line x1="1157.49" y1="270.63" x2="1461.3" y2="270.63" stroke="#000" stroke-width="2.4" stroke-linecap="butt" />
<line x1="1158.69" y1="52.9" x2="1164.29" y2="52.9" stroke="#000" stroke-width="2.4" stroke-linecap="butt" />
<text x="1142.94" y="63.5" font-size="29" text-anchor="end" font-weight="normal" font-style="normal" fill="#000" >1</text>
<line x1="1158.69" y1="114.4" x2="1164.29" y2="114.4" stroke="#000" stroke-width="2.4" stroke-linecap="butt" />
<text x="1142.94" y="125.6" font-size="29" text-anchor="end" font-weight="normal" font-style="normal" fill="#000" >0.8</text>
<line x1="1158.69" y1="177.14" x2="1164.29" y2="177.14" stroke="#000" stroke-width="2.4" stroke-linecap="butt" />
<text x="1142.94" y="185.94" font-size="29" text-anchor="end" font-weight="normal" font-style="normal" fill="#000" >0.6</text>
<line x1="1158.69" y1="240.37" x2="1164.29" y2="240.37" stroke="#000" stroke-width="2.4" stroke-linecap="butt" />
<text x="1142.94" y="248.17" font-size="29" text-anchor="end" font-weight="normal" font-style="normal" fill="#000" >0.4</text>
<text x="1158.69" y="305.81" font-size="29" text-anchor="middle" font-weight="normal" font-style="normal" fill="#000" >0</text>
<line x1="1294" y1="270.63" x2="1294" y2="266.03" stroke="#000" stroke-width="2.4" stroke-linecap="butt" />
<text x="1296.46" y="305.81" font-size="29" text-anchor="middle" font-weight="normal" font-style="normal" fill="#000" >5</text>
<line x1="1430.06" y1="270.63" x2="1430.06" y2="266.03" stroke="#000" stroke-width="2.4" stroke-linecap="butt" />
<text x="1430.55" y="305.81" font-size="29" text-anchor="middle" font-weight="normal" font-style="normal" fill="#000" >10</text>
<text x="1314.42" y="351.08" font-size="29" text-anchor="middle" font-weight="normal" font-style="normal" fill="#000" >Time (min)</text>
<text x="1045.02" y="162.38" font-size="29" text-anchor="middle" font-weight="normal" font-style="normal" fill="#000" transform="rotate(-90 1045.02 162.38)" >Normalized vessel</text>
<text x="1073.81" y="162.38" font-size="29" text-anchor="middle" font-weight="normal" font-style="normal" fill="#000" transform="rotate(-90 1073.81 162.38)" >density</text>
<text x="1019.18" y="31.05" font-size="41.5" text-anchor="start" font-weight="bold" font-style="normal" fill="#000" >e</text>
<polyline points="1624.77,75.04 1633.38,86.11 1640.76,93.49 1648.14,96.44 1657.98,89.06 1662.9,91.03 1670.28,86.11 1675.2,87.34 1682.58,85.62 1689.96,73.81 1696.12,68.89 1702.27,75.04 1707.19,82.42 1713.34,92.26 1719.49,94.72 1726.87,105.79 1734.25,110.71 1741.63,120.55 1749.01,134.09 1756.39,143.93 1762.54,148.35 1767.46,146.88 1773.61,153.77 1778.53,154.51 1785.92,161.15 1793.3,166.07 1796.99,161.89 1801.91,169.76 1809.29,177.14 1814.21,180.83 1817.9,179.11 1825.28,188.21 1832.66,191.9 1838.81,198.05 1843.73,196.82 1847.42,172.22 1851.11,123.01 1854.8,98.41 1859.72,83.65 1864.64,71.35 1869.56,60.28 1874.49,55.36 1879.41,56.59 1884.33,52.9 1889.25,51.67 1896.63,52.16 1904.01,53.63 1911.39,52.9 1918.77,56.59 1926.15,59.05 1928.61,57.82 1933.53,61.51 1938.45,62.74 1942.14,66.43" fill="none" stroke="#0072BD" stroke-width="2.6" stroke-linejoin="round" stroke-linecap="round" />
<polyline points="1624.77,97.18 1630.92,110.71 1638.3,125.47 1645.68,133.35 1651.83,132.36 1659.21,129.16 1667.82,130.39 1673.97,131.62 1680.12,125.47 1685.04,124.24 1689.96,118.09 1694.89,98.41 1699.81,87.34 1704.73,84.88 1709.65,87.34 1713.34,103.33 1717.03,113.17 1720.72,109.48 1724.41,115.63 1729.33,130.39 1735.48,145.16 1741.63,164.84 1745.32,172.22 1750.24,175.91 1756.39,196.82 1760.08,203.71 1765,206.17 1768.69,211.58 1776.07,214.78 1779.76,216.01 1785.92,222.66 1793.3,227.58 1799.45,235.45 1805.6,236.19 1812.98,247.26 1817.9,252.18 1822.82,248.49 1826.51,243.57 1830.2,244.8 1835.12,249.72 1840.04,253.41 1842.5,263.25 1844.47,264.48 1846.19,221.42 1848.65,147.62 1851.85,86.11 1854.8,71.35 1859.72,63.97 1864.64,54.13 1874.49,52.16 1886.79,50.44 1894.17,55.36 1904.01,60.28 1913.85,62.74 1926.15,68.89 1935.99,73.81 1942.14,75.04" fill="none" stroke="#D95319" stroke-width="2.6" stroke-linejoin="round" stroke-linecap="round" />
<polyline points="1624.77,92.26 1630.92,103.33 1638.3,114.4 1643.22,118.83 1649.37,120.06 1657.98,116.13 1667.82,115.63 1677.66,114.4 1687.5,108.25 1693.66,93.49 1698.58,83.65 1703.5,81.68 1708.42,84.88 1713.34,94.72 1719.49,104.56 1726.87,115.63 1734.25,132.85 1741.63,150.08 1749.01,164.84 1756.39,180.83 1763.77,189.44 1776.07,196.82 1788.38,206.66 1803.14,216.5 1817.9,228.31 1827.74,228.31 1835.12,232.5 1841.27,238.15 1844.96,209.12 1848.65,147.62 1852.34,93.49 1856.03,73.81 1860.95,62.74 1865.87,55.36 1874.49,52.9 1886.79,51.17 1894.17,54.62 1904.01,57.82 1913.85,60.28 1926.15,65.2 1935.99,70.12 1942.14,70.12" fill="none" stroke="#EDB120" stroke-width="2.6" stroke-linejoin="round" stroke-linecap="round" />
<line x1="1624.28" y1="50.96" x2="1624.28" y2="269.37" stroke="#000" stroke-width="2.4" stroke-linecap="butt" />
<line x1="1623.08" y1="268.17" x2="1943.37" y2="268.17" stroke="#000" stroke-width="2.4" stroke-linecap="butt" />
<text x="1610.01" y="60.16" font-size="29" text-anchor="end" font-weight="normal" font-style="normal" fill="#000" >1</text>
<line x1="1624.28" y1="113.66" x2="1629.88" y2="113.66" stroke="#000" stroke-width="2.4" stroke-linecap="butt" />
<text x="1610.01" y="121.66" font-size="29" text-anchor="end" font-weight="normal" font-style="normal" fill="#000" >0.9</text>
<line x1="1624.28" y1="176.65" x2="1629.88" y2="176.65" stroke="#000" stroke-width="2.4" stroke-linecap="butt" />
<text x="1610.01" y="184.65" font-size="29" text-anchor="end" font-weight="normal" font-style="normal" fill="#000" >0.8</text>
<line x1="1624.28" y1="238.15" x2="1629.88" y2="238.15" stroke="#000" stroke-width="2.4" stroke-linecap="butt" />
<text x="1610.01" y="246.15" font-size="29" text-anchor="end" font-weight="normal" font-style="normal" fill="#000" >0.7</text>
<text x="1625.51" y="305.81" font-size="29" text-anchor="middle" font-weight="normal" font-style="normal" fill="#000" >0</text>
<line x1="1757.13" y1="268.17" x2="1757.13" y2="264.37" stroke="#000" stroke-width="2.4" stroke-linecap="butt" />
<text x="1757.13" y="305.81" font-size="29" text-anchor="middle" font-weight="normal" font-style="normal" fill="#000" >5</text>
<line x1="1889.25" y1="268.17" x2="1889.25" y2="264.37" stroke="#000" stroke-width="2.4" stroke-linecap="butt" />
<text x="1890.48" y="305.81" font-size="29" text-anchor="middle" font-weight="normal" font-style="normal" fill="#000" >10</text>
<text x="1775.34" y="351.08" font-size="29" text-anchor="middle" font-weight="normal" font-style="normal" fill="#000" >Time (min)</text>
<text x="1516.52" y="159.92" font-size="29" text-anchor="middle" font-weight="normal" font-style="normal" fill="#000" transform="rotate(-90 1516.52 159.92)" >Normalized vessel</text>
<text x="1546.28" y="159.92" font-size="29" text-anchor="middle" font-weight="normal" font-style="normal" fill="#000" transform="rotate(-90 1546.28 159.92)" >density</text>
<text x="1491.41" y="31.05" font-size="41.5" text-anchor="start" font-weight="bold" font-style="normal" fill="#000" >f</text>
<polyline points="1160.41,528.94 1160.9,537.7 1161.39,558.95 1161.79,549.49 1162.18,557.54 1162.58,555.54 1162.97,549.99 1163.36,558.16 1163.76,550.61 1164.15,557.59 1164.54,551.89 1164.94,552.08 1165.33,558.68 1165.72,567.19 1166.12,555.33 1166.51,556.36 1166.91,564.35 1167.3,571.48 1167.69,565.01 1168.09,560.79 1168.48,570.92 1168.87,554.42 1169.27,567.65 1169.66,558.17 1170.05,554.3 1170.45,553.2 1170.84,556.42 1171.24,565.96 1171.63,554.87 1172.02,561 1172.42,562.46 1172.81,557.42 1173.2,559.96 1173.6,550.97 1173.99,549.79 1174.38,552.18 1174.78,561.02 1175.17,556.98 1175.57,554.24 1175.96,558.8 1176.35,556.57 1176.75,553.27 1177.14,561.92 1177.55,561.03 1177.96,552.48 1178.37,557.77 1178.78,557.39 1179.19,563.86 1179.6,561.79 1180.01,553.37 1180.42,565.41 1180.83,550.58 1181.24,554.67 1181.65,561.39 1182.06,550.81 1182.47,556.02 1182.88,548.17 1183.29,559.09 1183.7,561.97 1184.11,558.7 1184.52,563.99 1184.93,549.15 1185.34,550.34 1185.75,544.15 1186.16,548.68 1186.57,551.26 1186.98,563.08 1187.37,565.82 1187.77,557.43 1188.16,560.21 1188.56,549.35 1188.95,560.28 1189.34,560.45 1189.74,566.99 1190.13,564.54 1190.52,554.39 1190.92,555.35 1191.31,560.8 1191.7,549.41 1192.1,556.53 1192.49,551.87 1192.89,550.54 1193.28,549.42 1193.67,562.59 1194.07,552.11 1194.46,553.35 1194.85,556.23 1195.25,565.54 1195.64,551.85 1196.03,557.43 1196.43,559.94 1196.82,566.49 1197.23,564.57 1197.64,563.98 1198.05,551.8 1198.46,551.9 1198.87,549.63 1199.28,557.95 1199.69,558.91 1200.1,542.78 1200.51,540.4 1200.92,542.43 1201.33,543.64 1201.74,549.43 1202.15,552.93 1202.56,548.19 1202.97,543.89 1203.38,552.16 1203.79,553.05 1204.2,557.79 1204.61,565.35 1205.02,561.22 1205.43,557.55 1205.84,559.08 1206.25,560.33 1206.66,548.88 1207.07,563.46 1207.48,562.69 1207.89,564.38 1208.3,563.12 1208.71,555.45 1209.12,554.81 1209.55,546.43 1209.97,552.94 1210.39,540.42 1210.81,536.73 1211.23,536.46 1211.65,533.04 1212.08,533.47 1212.47,526.24 1212.86,522.55 1213.26,522.99 1213.65,520.12 1214.04,522.72 1214.54,551.52 1215.03,582.69 1215.52,591.44 1216.01,598.94 1216.5,608.6 1216.9,609.04 1217.3,609.2 1217.7,608.29 1218.1,611.14 1218.5,612.04 1218.9,610.07 1219.3,609.99 1219.7,608.43 1220.1,608.39 1220.49,609.38 1220.89,609.21 1221.29,611.49 1221.69,609.09 1222.09,608.35 1222.49,612.01 1222.89,610.73 1223.29,609.13 1223.69,610.59 1224.08,608.72 1224.48,610.57 1224.88,612.6 1225.28,612.38 1225.68,611.73 1226.08,609.98 1226.48,610.26 1226.88,609.54 1227.28,611.92 1227.68,611.25 1228.07,612.2 1228.47,610.55 1228.87,610 1229.27,612.33 1229.67,613.3 1230.07,612.91 1230.47,612.73 1230.87,612.8 1231.27,612.54 1231.66,610.43 1232.06,611.35 1232.46,610.77 1232.85,609.38 1233.25,609.21 1233.65,610.16 1234.04,610.15 1234.44,611.85 1234.84,613.04 1235.23,611.1 1235.63,612.83 1236.03,613.18 1236.42,613.05 1236.82,610.66 1237.22,609.82 1237.62,609.73 1238.01,609.57 1238.41,609.56 1238.81,611.2 1239.2,612.44 1239.6,612.29 1240,610.81 1240.39,611.33 1240.79,611.93 1241.19,609.12 1241.58,611.1 1241.98,612.27 1242.38,611.84 1242.77,611.65 1243.17,610.51 1243.57,609.18 1243.98,610.74 1244.39,608.41 1244.8,609.38 1245.21,609.5 1245.62,606.55 1246.03,605.61 1246.44,608.59 1246.85,608.74 1247.26,607.28 1247.67,607.7 1248.08,608.58 1248.49,612.41 1248.88,612.32 1249.28,609.67 1249.67,612.12 1250.06,612.98 1250.46,611.78 1250.85,610.44 1251.24,611.09 1251.64,609.49 1252.03,608.87 1252.42,612.62 1252.82,611.71 1253.21,611.13 1253.61,612.69 1254,610.86 1254.39,612.42 1254.79,612.4 1255.18,609.94 1255.57,609.86 1255.97,610.01 1256.36,609.82 1256.75,611.18 1257.15,610.01 1257.54,610.53 1257.94,609.44 1258.33,612.43 1258.72,610.51 1259.12,610.74 1259.51,611.26 1259.9,612.59 1260.3,610.8 1260.69,612.6 1261.08,611.12 1261.48,611.09 1261.87,611.06 1262.27,609.04 1262.66,610.52 1263.05,609.64 1263.45,608.84 1263.84,611.93 1264.23,609.74 1264.63,610.72 1265.02,611.82 1265.41,611.26 1265.81,610.29 1266.2,610.96 1266.6,611.17 1266.99,612.1 1267.38,609.49 1267.78,611.04 1268.17,609.96 1268.58,609.34 1268.99,610.7 1269.4,609.23 1269.81,608.75 1270.22,608.94 1270.63,609.01 1271.04,607.82 1271.45,608.93 1271.86,609.17 1272.27,609.77 1272.68,611.11 1273.09,610.84 1273.49,611.07 1273.88,610.87 1274.28,612.7 1274.68,611.92 1275.07,612.55 1275.47,612.87 1275.86,610.18 1276.26,611.11 1276.66,612.73 1277.05,612.48 1277.45,609.66 1277.84,609.31 1278.24,610.55 1278.64,609.21 1279.03,609.74 1279.43,609.13 1279.83,611.44 1280.22,612.13 1280.62,612.65 1281.01,609.74 1281.41,611.69 1281.81,611.66 1282.2,609.6 1282.6,612.34 1282.99,612.95 1283.39,610.03 1283.79,612.66 1284.18,610.71 1284.58,610.87 1284.98,612.89 1285.37,612.47 1285.77,609.75 1286.16,610.56 1286.56,610.97 1286.96,610.31 1287.35,609.67 1287.75,610.1 1288.14,611.75 1288.54,609.11 1288.94,610.98 1289.33,610.71 1289.73,609 1290.13,610.08 1290.52,611.36 1290.92,611.04 1291.31,609.22 1291.71,612.71 1292.11,612.27 1292.5,612.96 1292.9,609.57 1293.29,609.88 1293.69,609.01 1294.09,611.87 1294.48,610.13 1294.88,609.39 1295.27,610.48 1295.67,612.54 1296.07,612.38 1296.46,610.13 1296.86,609.47 1297.26,612.47 1297.65,611.38 1298.05,611.79 1298.44,609.4 1298.84,609.03 1299.24,611.51 1299.63,610.71 1300.03,609.22 1300.42,612.52 1300.82,611.64 1301.22,612.22 1301.61,609.42 1302.01,612.21 1302.41,609.35 1302.8,612.23 1303.2,610.89 1303.59,610.3 1303.99,611.1 1304.39,612.66 1304.78,610.19 1305.18,609.4 1305.57,610.9 1305.97,609.9 1306.37,609.29 1306.76,609.43 1307.16,609 1307.56,609.57 1307.95,610.06 1308.35,610.08 1308.74,611.9 1309.14,610.21 1309.54,610.87 1309.93,609.66 1310.33,610.21 1310.72,608.95 1311.12,609.75 1311.52,608.9 1311.91,611.67 1312.31,611.22 1312.71,609.74 1313.1,610.73 1313.5,612.66 1313.89,609.55 1314.29,612.08 1314.69,610.79 1315.08,610.91 1315.48,612.28 1315.87,610.66 1316.27,610.95 1316.67,611.7 1317.06,612.95 1317.46,610.52 1317.86,612.23 1318.25,611.9 1318.65,611.59 1319.04,610.63 1319.44,610.31 1319.84,609.11 1320.25,608.98 1320.66,608.46 1321.07,610.8 1321.48,608.82 1321.89,607.98 1322.3,607.3 1322.71,609.98 1323.12,610.08 1323.53,609.02 1323.94,607.09 1324.35,606.46 1324.76,606.32 1325.17,607.62 1325.58,607.1 1325.99,608.75 1326.4,608.74 1326.81,612.08 1327.22,613.01 1327.62,611.33 1328.02,609.95 1328.42,612.67 1328.82,610.32 1329.22,610.26 1329.62,608.83 1330.02,610.19 1330.42,610.69 1330.82,610.84 1331.22,609.64 1331.62,610.72 1332.02,608.83 1332.42,609.66 1332.82,609.04 1333.22,610.2 1333.62,608.88 1334.03,608.66 1334.43,609.75 1334.83,609.57 1335.23,610.94 1335.63,610.85 1336.03,611.71 1336.43,611.41 1336.83,611.61 1337.23,612.27 1337.63,610.37 1338.03,609.92 1338.43,612.49 1338.83,609.41 1339.23,611.38 1339.63,611.24 1340.03,608.83 1340.43,611.73 1340.83,612.24 1341.23,611.22 1341.64,611.54 1342.04,611.87 1342.44,609.21 1342.84,610.47 1343.24,610.5 1343.64,611.82 1344.04,611.82 1344.44,611.89 1344.93,610.28 1345.42,610.76 1345.91,609.78 1346.65,476.96 1347.39,469.17 1347.79,472.26 1348.19,477.36 1348.59,483.43 1348.99,486.6 1349.39,495.6 1349.79,498.94 1350.19,503.85 1350.59,508.48 1351,511.56 1351.41,513.14 1351.82,512.74 1352.23,520.09 1352.64,522.98 1353.05,524.21 1353.46,526.99 1353.87,530.5 1354.28,523.1 1354.69,537.43 1355.1,529.55 1355.51,525.97 1355.92,530.66 1356.33,541.97 1356.74,532.94 1357.15,544.39 1357.56,551.53 1357.97,542.99 1358.38,540.75 1358.79,543.56 1359.2,549.18 1359.61,552.49 1360.02,550.62 1360.43,551.97 1360.84,541.07 1361.25,542.45 1361.66,545.84 1362.07,556.6 1362.48,548.47 1362.89,553.38 1363.3,542.19 1363.71,542.22 1364.12,546.77 1364.53,555.92 1364.94,557.39 1365.35,557.31 1365.76,549.24 1366.17,553.35 1366.58,552.79 1366.99,552.89 1367.4,545.63 1367.81,561.5 1368.22,548.45 1368.63,563.82 1369.04,564.6 1369.45,546.15 1369.86,554.62 1370.27,564.06 1370.68,569.07 1371.09,559.47 1371.5,555.59 1371.91,554.88 1372.32,571.37 1372.73,558.32 1373.14,565.82 1373.55,558.14 1373.96,566.43 1374.37,574.74 1374.78,556.77 1375.19,568.22 1375.6,561.37 1376.01,567.35 1376.42,562.68 1376.83,550.81 1377.24,562.41 1377.65,553.45 1378.06,541.38 1378.47,538.35 1378.88,547.05 1379.29,545.68 1379.7,541.01 1380.11,535.75 1380.52,538.17 1380.93,536.45 1381.34,546.05 1381.75,527.81 1382.16,540.54 1382.57,542.32 1382.98,528.68 1383.39,545.64 1383.8,543.98 1384.21,549 1384.62,537.68 1385.03,539.48 1385.44,541.28 1385.85,555.52 1386.26,549.42 1386.67,545.13 1387.08,547.32 1387.49,545.47 1387.9,541.64 1388.31,543.57 1388.72,560.53 1389.13,549.6 1389.54,561.59 1389.95,547.46 1390.36,545.66 1390.77,549.95 1391.18,542.82 1391.59,545.27 1392,557.16 1392.41,556.09 1392.82,553.7 1393.23,548.88 1393.64,553.66 1394.04,555.29 1394.43,547.58 1394.83,550.87 1395.22,537.4 1395.61,551.01 1396.01,546.83 1396.4,553.27 1396.79,552.06 1397.19,544.76 1397.58,539.44 1397.97,558 1398.37,543.31 1398.76,549.61 1399.16,547.96 1399.55,547.26 1399.94,557.01 1400.34,563.47 1400.73,549.34 1401.12,556.78 1401.52,550.42 1401.91,555.68 1402.3,553.18 1402.7,548.55 1403.09,548.41 1403.49,549.82 1403.9,566.39 1404.31,560.83 1404.72,555.86 1405.13,571.43 1405.54,576.38 1405.95,566.74 1406.36,560.65 1406.77,562.64 1407.18,562.15 1407.59,568.92 1408,565.74 1408.41,570.05 1408.8,570.72 1409.19,577.41 1409.59,584.83 1409.98,582.64 1410.37,575.26 1410.77,574.55 1411.16,576.82 1411.56,573.92 1411.95,572.81 1412.34,566.83 1412.74,570.81 1413.13,585.88 1413.52,569.49 1413.92,575.87 1414.31,579.2 1414.7,584.49 1415.1,571.26 1415.49,571.11 1415.89,570.62 1416.28,573.78 1416.67,575.08 1417.07,586.01 1417.46,584.87 1417.85,585.27 1418.25,567.22 1418.66,563.79 1419.07,576.18 1419.48,579.72 1419.89,569.43 1420.3,569.16 1420.71,555 1421.12,560.24 1421.53,570.48 1421.94,567.69 1422.35,566.39 1422.76,567.08 1423.17,550.1 1423.58,546.72 1423.99,548.33 1424.4,557.3 1424.81,562.57 1425.22,569.6 1425.63,566.61 1426.04,565.72 1426.45,569.11 1426.86,563.9 1427.27,566.36 1427.68,556.71 1428.09,572.52 1428.5,563.4 1428.91,578.08 1429.32,574.7 1429.73,568.08 1430.14,564.66 1430.55,567.94 1430.96,575.51 1431.37,576.85 1431.78,563.78 1432.19,560.85 1432.6,569.47 1433.01,570.84 1433.42,566.1 1433.83,561.39 1434.24,568.2 1434.65,555.59 1435.06,559.78 1435.47,562.84 1435.88,573 1436.29,566.6 1436.7,570.3 1437.11,561.25 1437.52,554.5 1437.93,553.35 1438.34,569.3 1438.75,566.19 1439.16,558.18 1439.57,552.04 1439.98,562.29 1440.39,567.8 1440.8,563.68 1441.21,560.55 1441.62,569.69 1442.03,576.82 1442.44,563.43 1442.85,558.73 1443.26,565.46 1443.67,568.63 1444.08,575.25 1444.49,566.35 1444.9,578.93 1445.31,579.7 1445.72,573.89 1446.13,566.2 1446.54,580.95 1446.95,567.7 1447.36,576.44 1447.77,564.05 1448.18,561.87 1448.59,572.38 1449,562.79 1449.41,575.06 1449.82,565.85 1450.23,557.64 1450.64,558.49 1451.05,563.43 1451.46,569.94 1451.87,577.35 1452.28,561.77 1452.69,566.21 1453.1,563.55 1453.51,580.2 1453.92,564.92" fill="none" stroke="#0072BD" stroke-width="2.6" stroke-linejoin="round" stroke-linecap="round" />
<polyline points="1161.15,464.23 1162.73,464.75 1164.31,464.87 1165.89,465.37 1167.47,465.73 1169.06,465.3 1170.64,465.24 1172.22,466.44 1173.76,465.97 1175.29,465.73 1176.83,466.58 1178.37,466.17 1179.91,466.45 1181.45,466.05 1182.98,466.08 1184.52,465.42 1186.06,465.99 1187.6,466.59 1189.13,466.45 1190.67,466.79 1192.21,466.91 1193.75,466.28 1195.28,467.05 1196.82,467.2 1198.36,466.83 1199.9,466.35 1201.44,467.26 1202.97,467.07 1204.51,467.32 1206.05,467.61 1207.59,467.5 1209.12,467.73 1210.66,466.52 1212.2,466.22 1213.74,465.25 1215.27,465.15 1217.12,467.71 1218.96,469.21 1220.6,472.61 1222.25,476.3 1223.89,480.95 1225.36,483.56 1226.84,486.64 1228.31,489.22 1229.79,492.31 1231.27,495.15 1232.91,497.94 1234.55,501.08 1236.19,504.04 1237.83,507.35 1239.47,510.09 1241.11,513.24 1242.75,515.9 1244.39,518.74 1246.03,521.06 1247.67,522.95 1249.31,526.24 1250.95,529.25 1252.59,531.56 1254.23,533.4 1255.87,535.69 1257.51,537.32 1259.15,540.15 1260.79,542.27 1262.43,543.71 1264.07,545.12 1265.71,547.83 1267.35,550.15 1268.99,551.01 1270.63,553.42 1272.27,554.96 1273.91,556.37 1275.55,558.25 1277.19,560.71 1278.83,562.9 1280.47,563.81 1281.95,566.43 1283.42,568.05 1284.9,570.92 1286.38,572.87 1287.85,575.7 1289.33,576.53 1290.8,576.53 1292.28,577.48 1293.76,577.26 1295.23,577.2 1296.87,578.49 1298.51,578.75 1300.15,579.59 1301.79,580.69 1303.43,581.86 1305.07,582.22 1306.71,582.74 1308.35,584.51 1309.99,584.95 1311.64,586.46 1313.28,587.45 1314.92,587.66 1316.56,588.38 1318.2,589.23 1319.84,590.23 1321.48,591.05 1323.12,591.82 1324.76,592.7 1326.4,594.07 1328.04,594.61 1329.68,595.32 1331.32,596.55 1332.96,596.97 1334.6,597.82 1336.07,598.99 1337.55,599.04 1339.03,599.32 1340.5,598.95 1341.98,599.57 1343.82,599.26 1345.67,598.03 1346.9,532.15 1348.13,470.86 1350.59,462.82 1352.31,463.22 1354.03,463.09 1355.76,463.25 1357.48,462.82 1359.2,463.06 1360.68,463.81 1362.15,463.54 1363.63,463.88 1365.11,465.17 1366.58,466.37 1368.06,465.43 1369.53,465.2 1371.01,465.14 1372.49,464.61 1373.96,464.32 1375.6,463.83 1377.24,463.46 1378.88,463.36 1380.52,462.67 1382.16,462.27 1383.8,462.36 1385.44,461.71 1387.08,462.26 1388.72,462.74 1390.36,462.44 1392,462.31 1393.64,463.09 1395.28,463 1396.92,463.17 1398.56,463.82 1400.21,464.64 1401.85,464.44 1403.49,464.91 1405.13,465.24 1406.77,466.18 1408.41,466.19 1410.05,466.91 1411.69,466.47 1413.33,466.72 1414.97,467.93 1416.61,469.19 1418.25,469.6 1419.89,468.89 1421.53,468.31 1423.17,468.45 1424.81,467.88 1426.45,468.28 1428.09,468.27 1429.73,467.62 1431.37,467.56 1433.01,468.27 1434.65,468.36 1436.29,468.66 1437.93,468.23 1439.41,468.26 1440.88,468.8 1442.36,469.95 1443.83,470.01 1445.31,470.44 1447.03,470.41 1448.75,470.34 1450.48,470.24 1452.2,470.8 1453.92,469.95" fill="none" stroke="#D95319" stroke-width="2.6" stroke-linejoin="round" stroke-linecap="round" />
<polyline points="1162.38,449.96 1164.02,450.29 1165.66,450.55 1167.3,450.91 1168.94,450.86 1170.58,451.15 1172.22,450.19 1173.76,450.19 1175.29,450.68 1176.83,450.35 1178.37,450.44 1179.91,449.35 1181.45,449.3 1182.98,448.88 1184.52,448.99 1186.06,449.13 1187.6,448.46 1189.13,448.49 1190.67,448.58 1192.21,449.43 1193.75,449.53 1195.28,448.79 1196.82,449.35 1198.36,448.79 1199.9,449.27 1201.44,448.87 1202.97,448.63 1204.51,449.72 1206.05,449.31 1207.59,449.24 1209.12,450.25 1210.76,448.79 1212.4,446.47 1214.04,445.45 1215.58,444.7 1217.12,444.33 1218.66,443.32 1220.19,443.63 1221.73,444.3 1223.27,445.37 1224.81,446.13 1226.35,446.12 1227.99,446.35 1229.63,446.44 1231.27,446.72 1232.91,446.98 1234.55,447.63 1236.19,448.52 1237.83,448.33 1239.47,449.39 1241.11,449.59 1242.75,449.89 1244.39,450.92 1246.03,451.11 1247.57,451.13 1249.1,451.55 1250.64,452.18 1252.18,451.77 1253.72,453.01 1255.25,452.42 1256.79,453.34 1258.33,453.99 1259.87,453.36 1261.4,454.32 1262.94,454.32 1264.48,454.79 1266.02,454.42 1267.56,454.54 1269.09,454.96 1270.63,456.29 1272.17,455.84 1273.71,456.49 1275.24,457.04 1276.78,457.35 1278.32,456.8 1279.86,456.71 1281.39,457 1282.93,457.53 1284.47,456.95 1286.01,457.67 1287.54,458.09 1289.08,458.41 1290.62,457.57 1292.16,458.54 1293.7,457.89 1295.23,458.08 1296.77,458.5 1298.31,459.08 1299.85,458.58 1301.38,459.19 1302.92,458.96 1304.46,458.63 1306,458.55 1307.53,458.39 1309.07,458.12 1310.61,458.08 1312.15,458.72 1313.69,459.29 1315.22,458.38 1316.76,457.88 1318.3,458.87 1319.84,458.59 1321.37,458.51 1322.91,458.36 1324.45,458.87 1325.99,459.44 1327.52,459.27 1329.06,459.26 1330.6,458.89 1332.14,459.97 1333.68,459.31 1335.21,459.77 1336.75,460.47 1338.29,459.91 1339.83,460.59 1341.36,461.2 1342.9,461.11 1344.44,461.38 1346.41,453.16 1348.13,436.07 1349.97,434.52 1351.82,434.07 1353.3,434.13 1354.77,434.67 1356.25,435.88 1357.72,436.44 1359.2,437.11 1360.84,436.83 1362.48,436.99 1364.12,437.57 1365.76,437.66 1367.4,437.67 1369.04,438.03 1370.58,438.02 1372.12,438.51 1373.65,439.66 1375.19,440.23 1376.73,440.2 1378.27,440.23 1379.81,440.24 1381.34,440.12 1382.88,440.42 1384.42,441.32 1385.96,441.88 1387.49,441.57 1389.03,442.14 1390.57,442.47 1392.11,442.62 1393.64,442.78 1395.18,443.09 1396.72,442.83 1398.26,443.32 1399.79,443.09 1401.33,443.41 1402.87,444.03 1404.41,444.28 1405.95,444 1407.48,444.91 1409.02,445.01 1410.56,445.11 1412.1,444.58 1413.63,445.24 1415.17,445.25 1416.71,445.96 1418.25,446.09 1419.78,446.66 1421.32,446.75 1422.86,447.07 1424.4,446.7 1425.94,447.06 1427.47,447.4 1429.01,447.73 1430.55,447.34 1432.09,447.87 1433.62,448.15 1435.16,448.08 1436.7,448.48 1438.24,448.65 1439.77,448.22 1441.31,448.14 1442.85,447.7 1444.43,448.52 1446.01,449.02 1447.59,448.7 1449.18,448.96 1450.76,449.17 1452.34,449.35 1453.92,448.79" fill="none" stroke="#EDB120" stroke-width="2.6" stroke-linejoin="round" stroke-linecap="round" />
<line x1="1159.92" y1="403.82" x2="1159.92" y2="622.48" stroke="#000" stroke-width="2.4" stroke-linecap="butt" />
<line x1="1158.72" y1="621.28" x2="1460.07" y2="621.28" stroke="#000" stroke-width="2.4" stroke-linecap="butt" />
<line x1="1159.92" y1="439.22" x2="1165.52" y2="439.22" stroke="#000" stroke-width="2.4" stroke-linecap="butt" />
<text x="1143.93" y="449.22" font-size="29" text-anchor="end" font-weight="normal" font-style="normal" fill="#000" >100</text>
<line x1="1159.92" y1="530.25" x2="1165.52" y2="530.25" stroke="#000" stroke-width="2.4" stroke-linecap="butt" />
<text x="1143.93" y="540.25" font-size="29" text-anchor="end" font-weight="normal" font-style="normal" fill="#000" >50</text>
<line x1="1159.92" y1="621.28" x2="1165.52" y2="621.28" stroke="#000" stroke-width="2.4" stroke-linecap="butt" />
<text x="1143.93" y="632.28" font-size="29" text-anchor="end" font-weight="normal" font-style="normal" fill="#000" >0</text>
<text x="1162.38" y="657.69" font-size="29" text-anchor="middle" font-weight="normal" font-style="normal" fill="#000" >0</text>
<line x1="1293.51" y1="621.28" x2="1293.51" y2="616.68" stroke="#000" stroke-width="2.4" stroke-linecap="butt" />
<text x="1294" y="657.69" font-size="29" text-anchor="middle" font-weight="normal" font-style="normal" fill="#000" >5</text>
<line x1="1428.09" y1="621.28" x2="1428.09" y2="616.68" stroke="#000" stroke-width="2.4" stroke-linecap="butt" />
<text x="1429.32" y="657.69" font-size="29" text-anchor="middle" font-weight="normal" font-style="normal" fill="#000" >10</text>
<text x="1322.3" y="703.95" font-size="29" text-anchor="middle" font-weight="normal" font-style="normal" fill="#000" >Time (min)</text>
<text x="1063.97" y="513.77" font-size="29" text-anchor="middle" font-weight="normal" font-style="normal" fill="#000" transform="rotate(-90 1063.97 513.77)" >Amplitude (a.u.)</text>
<text x="1018.69" y="403.35" font-size="41.5" text-anchor="start" font-weight="bold" font-style="normal" fill="#000" >g</text>
<polyline points="1641.99,578.42 1642.4,578.94 1642.81,582.6 1643.22,577.1 1643.63,576.44 1644.04,576.7 1644.45,571.5 1644.86,574.16 1645.27,575.19 1645.68,576.58 1646.09,568.08 1646.5,569.05 1646.91,566.11 1647.32,573.5 1647.73,572.31 1648.14,564.1 1648.55,573.49 1648.96,573.61 1649.37,569.43 1649.78,567.96 1650.19,561.92 1650.6,559.06 1651.01,564.07 1651.42,558.56 1651.83,558.9 1652.24,558.91 1652.65,555.86 1653.06,559.93 1653.47,559.46 1653.88,563.42 1654.29,559.48 1654.7,559.86 1655.11,557.67 1655.52,558.71 1655.93,558.16 1656.34,557.52 1656.75,567.21 1657.16,569.64 1657.57,569.57 1657.98,569.51 1658.39,566.46 1658.8,566.65 1659.21,568.83 1659.62,568 1660.03,577.41 1660.44,575.61 1660.85,580 1661.26,574.77 1661.67,580.46 1662.08,579.38 1662.49,569.16 1662.9,570.17 1663.31,577.97 1663.72,573.31 1664.13,578.35 1664.54,571.78 1664.95,567.02 1665.36,572.58 1665.77,574.48 1666.18,568.44 1666.59,565.37 1667,567.52 1667.41,574.63 1667.82,572.6 1668.23,566 1668.64,567.64 1669.05,566.97 1669.46,567.25 1669.87,576.6 1670.28,571.23 1670.69,575.92 1671.1,575.93 1671.51,573.81 1671.92,580.66 1672.33,575.25 1672.74,581.45 1673.15,574.37 1673.56,575.78 1673.97,572.14 1674.38,571.05 1674.79,577.63 1675.2,574.97 1675.61,567.58 1676.02,572.14 1676.43,563.45 1676.84,563.31 1677.25,567.21 1677.66,563.77 1678.07,558.44 1678.48,569.12 1678.89,562.24 1679.3,563.06 1679.71,570.04 1680.12,566.62 1680.53,566.88 1680.94,565.33 1681.35,566.35 1681.76,568.73 1682.17,562.11 1682.58,562.62 1682.99,557.07 1683.4,554.5 1683.81,557.12 1684.22,548.96 1684.63,546.23 1685.04,546.37 1685.45,541.03 1685.86,542.13 1686.27,552.89 1686.68,554.89 1687.09,550.52 1687.5,551.36 1687.91,559.74 1688.32,564.86 1688.73,558.78 1689.14,567.04 1689.55,567.45 1689.96,564.65 1690.37,562.65 1690.78,559.16 1691.19,558.43 1691.6,569.36 1692.01,562.49 1692.42,567.53 1692.85,564.08 1693.27,571.36 1693.69,570.58 1694.11,568.12 1694.53,567.62 1694.96,574.96 1695.38,569.29 1695.87,577.82 1696.36,588.79 1696.85,598.21 1697.28,597.75 1697.7,596.41 1698.12,600.58 1698.54,597.52 1698.96,596.77 1699.38,598.78 1699.81,600.63 1700.22,599.25 1700.63,600.42 1701.04,602.29 1701.45,604.3 1701.86,602.61 1702.27,604.41 1702.68,608.28 1703.09,609.83 1703.5,608.77 1703.91,609.5 1704.32,609.61 1704.73,607.71 1705.14,606.77 1705.55,606.52 1705.96,611.57 1706.37,610.81 1706.78,612.18 1707.19,606.83 1707.6,609.78 1708.01,609.12 1708.42,610.43 1708.83,608.12 1709.24,611.75 1709.65,606.73 1710.06,608.88 1710.47,610.13 1710.88,611.13 1711.29,610.23 1711.7,609.89 1712.11,610.31 1712.52,609.42 1712.93,604.61 1713.34,604.57 1713.75,604.34 1714.16,602.66 1714.57,598.41 1714.98,602.14 1715.39,604.59 1715.8,604.83 1716.21,606.81 1716.62,607.27 1717.03,610.13 1717.42,610.39 1717.81,607.37 1718.21,610.29 1718.6,612.61 1719,612.19 1719.39,611.28 1719.78,609.23 1720.18,611.02 1720.57,610.31 1720.96,609.44 1721.36,611.64 1721.75,607.51 1722.15,610.94 1722.54,607.13 1722.93,610.04 1723.33,609.64 1723.72,608.16 1724.11,610.7 1724.51,609.8 1724.9,610.39 1725.29,612.21 1725.69,608.56 1726.08,606.79 1726.48,608.28 1726.87,610.6 1727.26,608.09 1727.66,607.65 1728.05,611.85 1728.44,610.85 1728.84,609.5 1729.23,611.95 1729.62,608.95 1730.02,610.6 1730.41,608.07 1730.81,609.16 1731.2,611.42 1731.59,612.27 1731.99,612.16 1732.38,609.3 1732.77,610.15 1733.17,608.71 1733.56,607.52 1733.95,609.48 1734.35,611.63 1734.74,611.92 1735.14,611.15 1735.53,612.45 1735.92,608.71 1736.32,607.71 1736.71,609.23 1737.1,608.38 1737.5,607.94 1737.89,609.04 1738.28,610.37 1738.68,609.75 1739.07,608.66 1739.47,611.56 1739.86,612.68 1740.25,609.74 1740.65,607.27 1741.04,606.78 1741.43,611.57 1741.83,607.26 1742.22,610.67 1742.61,610.22 1743.01,608.67 1743.4,611.29 1743.8,607.11 1744.19,607.36 1744.58,609.22 1744.98,606.93 1745.37,611.34 1745.76,608.37 1746.16,607.52 1746.55,606.89 1746.94,610.18 1747.34,609.46 1747.73,610.44 1748.13,610.68 1748.52,611.58 1748.91,612.54 1749.31,611.06 1749.7,608.12 1750.09,609.42 1750.49,607.84 1750.88,606.71 1751.27,609.26 1751.67,610.91 1752.06,607.99 1752.46,608.23 1752.85,608.68 1753.24,610.75 1753.64,609.94 1754.03,610.4 1754.42,611.26 1754.82,609.26 1755.21,611.35 1755.6,612.22 1756,607.59 1756.39,612 1756.79,611.23 1757.18,607.74 1757.57,609.25 1757.97,610.39 1758.36,612.15 1758.75,609.25 1759.15,610.07 1759.54,611.94 1759.93,611.65 1760.33,612.47 1760.72,609.78 1761.12,610.6 1761.51,608.11 1761.9,610.83 1762.3,611.66 1762.69,610.73 1763.08,611.07 1763.48,608.2 1763.87,611.87 1764.26,612.7 1764.66,612.76 1765.05,610.24 1765.45,611.44 1765.84,608.86 1766.23,611.99 1766.63,611.93 1767.02,608.94 1767.42,607.05 1767.81,608.87 1768.21,609.62 1768.61,610.89 1769,609.34 1769.4,606.48 1769.79,610.63 1770.19,606.7 1770.58,610.48 1770.98,607.19 1771.37,607.74 1771.77,610.34 1772.16,606.81 1772.56,606.45 1772.96,608.47 1773.35,609.81 1773.75,610.55 1774.14,609.7 1774.54,611.03 1774.93,608.5 1775.33,610.81 1775.72,606.01 1776.12,606.25 1776.51,607.98 1776.91,606.73 1777.3,609.07 1777.7,608.73 1778.1,607.96 1778.49,609.68 1778.89,608.15 1779.28,606.51 1779.68,606.69 1780.07,609.32 1780.47,609.84 1780.86,605.85 1781.26,609.09 1781.65,610.03 1782.05,607.51 1782.44,607.48 1782.84,605.28 1783.24,606.92 1783.63,606.84 1784.03,607.36 1784.42,604.03 1784.82,609.06 1785.21,606.89 1785.61,605.95 1786,608.1 1786.4,606.89 1786.79,606.29 1787.19,607.33 1787.58,603.77 1787.98,606.08 1788.38,605.53 1788.79,607.99 1789.2,607.49 1789.61,603.12 1790.02,603.31 1790.43,600.78 1790.84,601.74 1791.25,605.12 1791.66,606.87 1792.07,605.53 1792.48,605.4 1792.89,605.58 1793.3,608.98 1793.69,610.99 1794.08,606.6 1794.48,609.91 1794.87,605.88 1795.26,606.47 1795.66,606.72 1796.05,609.39 1796.45,607.55 1796.84,607.56 1797.23,609.08 1797.63,606.27 1798.02,609.6 1798.41,606.43 1798.81,608.34 1799.2,607.04 1799.59,606.6 1799.99,608.47 1800.38,608.12 1800.78,607.74 1801.17,607.91 1801.56,608.6 1801.96,606.54 1802.35,606.59 1802.74,609.05 1803.14,609.34 1803.53,608.74 1803.92,610.54 1804.32,609.34 1804.71,610.63 1805.11,607.16 1805.5,609.74 1805.89,610.4 1806.29,611 1806.68,607.68 1807.07,607.34 1807.47,610.81 1807.86,607.1 1808.25,611.22 1808.65,610.99 1809.04,606.63 1809.44,606.8 1809.83,609.62 1810.22,607.22 1810.62,606.04 1811.01,610.16 1811.4,608.2 1811.8,610.13 1812.19,606.5 1812.58,607.73 1812.98,609.48 1813.37,605.81 1813.77,606.5 1814.16,609.34 1814.55,610.94 1814.95,611.43 1815.34,606.57 1815.73,608.33 1816.13,609.96 1816.52,608.65 1816.91,609.57 1817.31,606.81 1817.7,605.85 1818.1,605.96 1818.49,605.57 1818.88,608.49 1819.28,608.57 1819.67,608.89 1820.06,606.49 1820.46,606.47 1820.85,606.58 1821.25,610.26 1821.64,611.49 1822.03,611.25 1822.43,606.43 1822.82,605.76 1823.23,608.76 1823.64,604.4 1824.05,603.86 1824.46,599.44 1824.87,597.96 1825.28,596.25 1825.69,597.64 1826.1,600.42 1826.51,598.97 1826.92,604.45 1827.33,607.48 1827.74,605.63 1828.14,606.87 1828.53,608.68 1828.93,606.98 1829.32,605.64 1829.72,605.37 1830.11,607.38 1830.51,604.76 1830.9,609.59 1831.3,609.59 1831.69,609.07 1832.09,609.96 1832.48,608.75 1832.88,607.38 1833.28,608.4 1833.67,607.99 1834.07,610.75 1834.46,610.04 1834.86,606.86 1835.25,610.34 1835.65,609.77 1836.04,609.94 1836.44,610.21 1836.83,607.92 1837.23,610.56 1837.63,610.77 1838.02,609.76 1838.42,610.12 1838.81,610.18 1839.25,587.45 1839.7,569.09 1840.14,542.88 1840.58,524.06 1841.03,504.7 1841.52,476.99 1842.01,455.87 1842.5,434.87 1842.93,431.94 1843.36,425.41 1843.79,428.3 1844.22,423.35 1844.65,417.18 1845.09,416.65 1845.52,413.03 1845.95,409.57 1846.35,409.49 1846.75,416 1847.15,414.59 1847.55,416.08 1847.95,417.87 1848.34,421.09 1848.74,414.04 1849.14,419.69 1849.55,429.43 1849.96,433.51 1850.37,442.58 1850.78,439.97 1851.19,441.36 1851.6,443.47 1852.01,441.59 1852.42,443.12 1852.83,449.44 1853.33,449.35 1853.82,451.18 1854.31,457.64 1854.74,460.66 1855.17,476.86 1855.6,476.1 1856.03,485.36 1856.43,470.36 1856.83,481.23 1857.23,486.73 1857.63,472.3 1858.03,491.28 1858.43,476.96 1858.83,483.26 1859.23,478.02 1859.66,487.09 1860.09,492.77 1860.52,483.32 1860.95,504.22 1861.38,496.91 1861.81,500.74 1862.25,504.91 1862.68,502.4 1863.08,501.26 1863.48,510.33 1863.88,510.15 1864.29,505 1864.69,515.08 1865.09,507.78 1865.49,501.82 1865.9,507.34 1866.3,504.42 1866.7,507.66 1867.1,522.23 1867.51,517.14 1867.92,529.34 1868.33,528.74 1868.74,514.69 1869.15,535.55 1869.56,538.13 1869.97,520.58 1870.38,538.72 1870.79,531.47 1871.21,533.29 1871.62,545.92 1872.03,532.51 1872.44,535.76 1872.85,543.96 1873.26,538.74 1873.67,531.29 1874.08,540.56 1874.49,536.6 1874.9,530.2 1875.31,517.45 1875.72,526.15 1876.13,522 1876.54,514.71 1876.95,509.34 1877.36,520.44 1877.77,513.47 1878.18,520.69 1878.59,527.25 1879,524.07 1879.41,520.33 1879.82,527.9 1880.23,525.92 1880.64,534.52 1881.05,530.77 1881.46,541.59 1881.87,542.54 1882.28,538.66 1882.69,528.15 1883.1,525.2 1883.51,543.02 1883.92,543.26 1884.33,540.61 1884.74,533.96 1885.15,530.98 1885.56,539.47 1885.97,537.29 1886.38,537.3 1886.79,537.85 1887.2,540.2 1887.61,527.58 1888.02,527.26 1888.43,543.04 1888.84,542.83 1889.25,541.63 1889.66,525.01 1890.07,525.67 1890.48,532.23 1890.89,538.15 1891.3,544.97 1891.71,535.97 1892.12,546.64 1892.53,539.16 1892.94,540.57 1893.35,555.61 1893.76,556.18 1894.17,559.87 1894.58,553.91 1894.99,555.28 1895.4,549.11 1895.81,551.07 1896.22,559.78 1896.63,562.36 1897.04,545.33 1897.45,544.26 1897.86,559.05 1898.27,556.05 1898.68,558.6 1899.09,546.18 1899.5,549.24 1899.91,545.5 1900.32,556.97 1900.73,547.99 1901.14,553.03 1901.55,560.59 1901.96,547.1 1902.37,551.06 1902.78,556.2 1903.19,560.95 1903.6,550.88 1904.01,548.95 1904.42,543.09 1904.83,560.11 1905.24,544.54 1905.65,543.45 1906.06,554.36 1906.47,554.07 1906.88,558.85 1907.29,551.14 1907.7,561.29 1908.11,547.18 1908.52,549.18 1908.93,559.69 1909.34,546.82 1909.75,549.53 1910.16,558.2 1910.57,557.46 1910.98,547.36 1911.39,542.33 1911.8,545.66 1912.21,553.23 1912.62,545.1 1913.03,537.85 1913.44,549.31 1913.85,546.43 1914.26,554.8 1914.67,556.85 1915.08,557.2 1915.49,547.45 1915.9,555.3 1916.31,545.79 1916.72,545.86 1917.13,548.42 1917.54,561.26 1917.95,562.4 1918.36,548.94 1918.77,550.84 1919.18,550.76 1919.59,550.46 1920,550.89 1920.41,550.51 1920.82,545.97 1921.23,553.43 1921.64,559.1 1922.05,553.74 1922.46,559.51 1922.87,553.78 1923.28,544.41 1923.69,556.12 1924.1,559.75 1924.51,546.59 1924.92,539.29 1925.33,549.24 1925.74,550.62 1926.15,551.03 1926.56,560.54 1926.97,555.07 1927.38,558.46 1927.79,542.97 1928.2,552.66 1928.61,559.52 1929.02,545.18 1929.43,544.24 1929.84,559.21 1930.25,564.85 1930.66,547.94 1931.07,558.97 1931.48,549.66 1931.89,562.52 1932.3,562.13 1932.71,553.61 1933.12,552.67 1933.53,565.1 1933.94,561.41 1934.35,566.88 1934.76,559.69 1935.17,558.18 1935.58,572.45 1935.99,567.79" fill="none" stroke="#0072BD" stroke-width="2.6" stroke-linejoin="round" stroke-linecap="round" />
<polyline points="1641.99,520.76 1643.53,520.39 1645.06,519.65 1646.6,519.06 1648.14,517.19 1649.62,516.44 1651.09,515.73 1652.57,515.28 1654.04,515.62 1655.52,514.45 1657,515.59 1658.47,515.97 1659.95,516.71 1661.43,517.66 1662.9,519.13 1664.54,518.61 1666.18,517.21 1667.82,516.87 1669.36,518.22 1670.9,520.86 1672.44,522.68 1673.97,524.31 1675.51,523.45 1677.05,522.42 1678.59,521.79 1680.12,520.72 1681.76,516.94 1683.4,514.7 1685.04,511.47 1686.89,510.17 1688.73,508.37 1690.58,511.53 1692.42,514.77 1694.07,515.22 1695.71,515.45 1697.35,515.49 1698.99,520.17 1700.63,524.17 1702.27,528.27 1703.74,531.39 1705.22,534.5 1706.69,538.14 1708.17,540.67 1709.65,544.66 1711.12,547.43 1712.6,549.89 1714.08,552.72 1715.55,556.13 1717.03,558.82 1718.67,561.11 1720.31,563.47 1721.95,565.3 1723.59,566.85 1725.23,569.3 1726.87,571.08 1728.51,572.62 1730.15,574.17 1731.79,576.05 1733.43,577.3 1735.07,579.73 1736.71,582.13 1738.35,582.73 1739.99,584.26 1741.63,585.94 1743.27,585.9 1744.91,586.85 1746.55,589.04 1748.19,590.66 1749.83,591.71 1751.47,592.11 1753.11,593.45 1754.75,595.45 1756.39,596.98 1758.03,597.56 1759.67,597.21 1761.31,598.52 1762.95,598.62 1764.59,599.6 1766.23,599.41 1767.77,601.08 1769.31,601.48 1770.85,602.21 1772.38,602.05 1773.92,603.04 1775.46,603.73 1777,604.38 1778.53,604.64 1780.07,605.57 1781.61,605.57 1783.15,605.8 1784.69,605.97 1786.22,607.16 1787.76,606.97 1789.3,607.38 1790.84,607.57 1792.37,608.86 1793.91,609.47 1795.45,609.96 1796.99,609.63 1798.52,610.45 1800.06,610.88 1801.6,610.94 1803.14,611.11 1804.68,613.06 1806.21,612.64 1807.75,613.08 1809.29,613.49 1810.83,614.45 1812.36,614.26 1813.9,615.12 1815.44,615.55 1816.98,616.45 1818.51,615.53 1820.05,615.84 1821.59,616.31 1823.13,617.33 1824.66,617.06 1826.2,617 1827.74,617.39 1829.28,616.97 1830.82,616.46 1832.35,617.09 1833.89,618.02 1835.43,618.14 1836.97,617.47 1838.5,617.97 1840.04,618.48 1842.5,618.17 1843.73,532.3 1846.19,477.89 1848.04,475.15 1849.88,472.66 1851.36,472.77 1852.83,473.2 1854.31,473.01 1855.79,473.68 1857.26,473.57 1858.74,476.25 1860.22,478.05 1861.69,478.85 1863.17,481.48 1864.64,482.58 1866.28,483.86 1867.92,485.09 1869.56,485.83 1871.21,486.69 1872.85,487.89 1874.49,488.5 1876.13,489.39 1877.77,488.42 1879.41,489.14 1881.05,488.34 1882.69,488.12 1884.33,488.1 1885.97,488.51 1887.61,489.42 1889.25,490.72 1890.89,491.92 1892.53,493.65 1894.17,495.04 1895.81,493.9 1897.45,494.41 1899.09,494.08 1900.73,495.17 1902.37,494.92 1904.01,495.88 1905.65,496.2 1907.29,496.04 1908.93,496.19 1910.57,497.03 1912.21,498.72 1913.85,498.56 1915.39,499.12 1916.93,499.35 1918.46,499.59 1920,500.6 1921.54,500.21 1923.08,501.08 1924.61,501.51 1926.15,502.28 1927.79,501.99 1929.43,502.66 1931.07,502.26 1932.71,502.47 1934.35,502.75 1935.99,503.33" fill="none" stroke="#D95319" stroke-width="2.6" stroke-linejoin="round" stroke-linecap="round" />
<polyline points="1641.99,487.48 1643.49,487.86 1645,488.19 1646.5,487.18 1648,487.53 1649.51,487.51 1651.01,487.37 1652.51,486.39 1654.02,485.86 1655.52,486.2 1657.06,486.92 1658.6,486.38 1660.13,486.59 1661.67,486.37 1663.21,487.14 1664.75,487.57 1666.28,486.85 1667.82,487.55 1669.36,486.15 1670.9,486.76 1672.44,486.97 1673.97,485.78 1675.51,486.16 1677.05,485.95 1678.59,486.42 1680.12,485.29 1681.6,484.98 1683.08,485.1 1684.55,484.43 1686.03,483.35 1687.5,482.29 1688.98,483.96 1690.46,484.11 1691.93,485.32 1693.41,484.7 1694.89,485.88 1696.73,481.81 1698.58,477.76 1700.11,475.61 1701.65,474.9 1703.19,473.62 1704.73,473.77 1706.26,473.35 1707.8,474.09 1709.34,473.33 1710.88,473.62 1712.41,473.8 1713.95,472.77 1715.49,472.84 1717.03,473.42 1718.57,472.94 1720.1,472.47 1721.64,472.13 1723.18,472.81 1724.72,472.07 1726.25,472.44 1727.79,472.46 1729.33,472.43 1730.87,471.72 1732.4,472.28 1733.94,472.86 1735.48,472.08 1737.02,471.8 1738.56,472.59 1740.09,472.31 1741.63,471.69 1743.17,470.99 1744.71,471.89 1746.24,471.5 1747.78,471.51 1749.32,471.15 1750.86,471.55 1752.39,471.8 1753.93,471.16 1755.47,470.51 1757.01,471.69 1758.54,471.93 1760.08,470.55 1761.62,470.88 1763.16,471.14 1764.7,470.73 1766.23,471.06 1767.77,471.35 1769.31,470.73 1770.85,470.05 1772.38,469.36 1773.92,469.07 1775.46,468.66 1777,468.32 1778.53,468.22 1780.07,469.33 1781.61,469.27 1783.15,469.72 1784.69,470.1 1786.22,470.1 1787.76,468.92 1789.3,469.95 1790.84,469.02 1792.37,469.78 1793.91,470.18 1795.45,470.05 1796.99,469.62 1798.52,468.96 1800.06,468.77 1801.6,469.6 1803.14,469.28 1804.68,469.65 1806.21,469.38 1807.75,469.14 1809.29,469.29 1810.83,470.04 1812.36,469.95 1813.9,469.78 1815.44,469.9 1816.98,470.19 1818.51,470.33 1820.05,470.36 1821.59,471.31 1823.13,471.4 1824.66,470.69 1826.2,470.69 1827.74,470.58 1829.28,470.86 1830.82,470.48 1832.35,471.55 1833.89,471.71 1835.43,471.59 1836.97,472.36 1838.5,471.79 1840.04,472.05 1842.5,464.06 1844.35,459.37 1846.19,455.02 1847.83,454.61 1849.47,455.48 1851.11,455.39 1852.59,455.13 1854.07,455.45 1855.54,456.25 1857.02,456.74 1858.49,457.24 1860.03,457.63 1861.57,458.98 1863.11,460.26 1864.64,461.4 1866.28,461.8 1867.92,462.46 1869.56,463.32 1871.21,464.21 1872.85,464.95 1874.49,465 1876.02,465.45 1877.56,466.96 1879.1,467.43 1880.64,467.22 1882.17,467.8 1883.71,467.34 1885.25,467.47 1886.79,468.11 1888.26,469.26 1889.74,469.07 1891.22,470.19 1892.69,471.76 1894.17,472.32 1895.81,473.15 1897.45,472.2 1899.09,473.35 1900.73,473.82 1902.37,472.88 1904.01,473.55 1905.65,474.37 1907.29,474.01 1908.93,474.78 1910.57,475.58 1912.21,475.99 1913.85,475.76 1915.39,475.43 1916.93,476.39 1918.46,476.46 1920,477.34 1921.54,477.52 1923.08,478.01 1924.61,478.8 1926.15,479.81 1927.79,480.25 1929.43,479.5 1931.07,478.6 1932.71,479.47 1934.35,479.12 1935.99,479.66" fill="none" stroke="#EDB120" stroke-width="2.6" stroke-linejoin="round" stroke-linecap="round" />
<line x1="1640.02" y1="398.9" x2="1640.02" y2="620.76" stroke="#000" stroke-width="2.4" stroke-linecap="butt" />
<line x1="1638.82" y1="619.56" x2="1942.14" y2="619.56" stroke="#000" stroke-width="2.4" stroke-linecap="butt" />
<line x1="1640.02" y1="439.22" x2="1645.62" y2="439.22" stroke="#000" stroke-width="2.4" stroke-linecap="butt" />
<text x="1623.78" y="449.22" font-size="29" text-anchor="end" font-weight="normal" font-style="normal" fill="#000" >100</text>
<line x1="1640.02" y1="529.76" x2="1645.62" y2="529.76" stroke="#000" stroke-width="2.4" stroke-linecap="butt" />
<text x="1623.78" y="539.76" font-size="29" text-anchor="end" font-weight="normal" font-style="normal" fill="#000" >50</text>
<line x1="1640.02" y1="619.56" x2="1645.62" y2="619.56" stroke="#000" stroke-width="2.4" stroke-linecap="butt" />
<text x="1623.78" y="631.56" font-size="29" text-anchor="end" font-weight="normal" font-style="normal" fill="#000" >0</text>
<text x="1640.76" y="657.69" font-size="29" text-anchor="middle" font-weight="normal" font-style="normal" fill="#000" >0</text>
<line x1="1776.07" y1="619.56" x2="1776.07" y2="614.96" stroke="#000" stroke-width="2.4" stroke-linecap="butt" />
<text x="1771.65" y="657.69" font-size="29" text-anchor="middle" font-weight="normal" font-style="normal" fill="#000" >5</text>
<line x1="1912.62" y1="619.56" x2="1912.62" y2="614.96" stroke="#000" stroke-width="2.4" stroke-linecap="butt" />
<text x="1907.7" y="657.69" font-size="29" text-anchor="middle" font-weight="normal" font-style="normal" fill="#000" >10</text>
<text x="1804.37" y="704.44" font-size="29" text-anchor="middle" font-weight="normal" font-style="normal" fill="#000" >Time (min)</text>
<text x="1549.73" y="511.31" font-size="29" text-anchor="middle" font-weight="normal" font-style="normal" fill="#000" transform="rotate(-90 1549.73 511.31)" >Amplitude (a.u.)</text>
<text x="1492.15" y="400.89" font-size="41.5" text-anchor="start" font-weight="bold" font-style="normal" fill="#000" >h</text>
<line x1="1866.37" y1="397.64" x2="1902.04" y2="397.64" stroke="#0072BD" stroke-width="2.2" stroke-linecap="butt" />
<text x="1908.44" y="405.28" font-size="20.6" text-anchor="start" font-weight="normal" font-style="normal" fill="#000" >Flow</text>
<line x1="1866.37" y1="421.51" x2="1902.04" y2="421.51" stroke="#D95319" stroke-width="2.2" stroke-linecap="butt" />
<text x="1908.44" y="429.4" font-size="20.6" text-anchor="start" font-weight="normal" font-style="normal" fill="#000" >SO2</text>
<line x1="1866.37" y1="445.62" x2="1902.04" y2="445.62" stroke="#EDB120" stroke-width="2.2" stroke-linecap="butt" />
<text x="1908.44" y="453.26" font-size="20.6" text-anchor="start" font-weight="normal" font-style="normal" fill="#000" >rHb</text>
<rect x="159.92" y="1001.25" width="36.29" height="142.85" fill="#fff" stroke="#222" stroke-width="1.7" />
<rect x="216.19" y="943.13" width="35.99" height="200.97" fill="#808080" stroke="#333" stroke-width="1.7" />
<rect x="306.61" y="1035.39" width="36.29" height="108.71" fill="#fff" stroke="#222" stroke-width="1.7" />
<rect x="361.96" y="953.28" width="36.6" height="190.82" fill="#808080" stroke="#333" stroke-width="1.7" />
<rect x="453.3" y="985.26" width="36.29" height="158.84" fill="#fff" stroke="#222" stroke-width="1.7" />
<rect x="508.96" y="938.21" width="36.29" height="205.89" fill="#808080" stroke="#333" stroke-width="1.7" />
<line x1="123.63" y1="804.98" x2="123.63" y2="1143.4" stroke="#000" stroke-width="2.6" stroke-linecap="butt" />
<line x1="111.33" y1="1142.1" x2="568.32" y2="1142.1" stroke="#000" stroke-width="2.6" stroke-linecap="butt" />
<line x1="111.33" y1="806.28" x2="123.63" y2="806.28" stroke="#000" stroke-width="2.6" stroke-linecap="butt" />
<text x="97.33" y="816.58" font-size="29" text-anchor="end" font-weight="normal" font-style="normal" fill="#000" >0.8</text>
<line x1="111.33" y1="890.54" x2="123.63" y2="890.54" stroke="#000" stroke-width="2.6" stroke-linecap="butt" />
<text x="97.33" y="900.84" font-size="29" text-anchor="end" font-weight="normal" font-style="normal" fill="#000" >0.6</text>
<line x1="111.33" y1="974.5" x2="123.63" y2="974.5" stroke="#000" stroke-width="2.6" stroke-linecap="butt" />
<text x="97.33" y="984.8" font-size="29" text-anchor="end" font-weight="normal" font-style="normal" fill="#000" >0.4</text>
<line x1="111.33" y1="1058.15" x2="123.63" y2="1058.15" stroke="#000" stroke-width="2.6" stroke-linecap="butt" />
<text x="97.33" y="1068.45" font-size="29" text-anchor="end" font-weight="normal" font-style="normal" fill="#000" >0.2</text>
<line x1="111.33" y1="1142.1" x2="123.63" y2="1142.1" stroke="#000" stroke-width="2.6" stroke-linecap="butt" />
<text x="97.33" y="1152.4" font-size="29" text-anchor="end" font-weight="normal" font-style="normal" fill="#000" >0.0</text>
<line x1="206.05" y1="1142.1" x2="206.05" y2="1156.94" stroke="#000" stroke-width="2.6" stroke-linecap="butt" />
<line x1="352.12" y1="1142.1" x2="352.12" y2="1156.94" stroke="#000" stroke-width="2.6" stroke-linecap="butt" />
<line x1="499.74" y1="1142.1" x2="499.74" y2="1156.94" stroke="#000" stroke-width="2.6" stroke-linecap="butt" />
<text x="203.28" y="1192.23" font-size="29" text-anchor="middle" font-weight="normal" font-style="normal" fill="#000" >DV</text>
<text x="354.28" y="1192.23" font-size="29" text-anchor="middle" font-weight="normal" font-style="normal" fill="#000" >SD</text>
<text x="501.28" y="1192.23" font-size="29" text-anchor="middle" font-weight="normal" font-style="normal" fill="#000" >RD</text>
<line x1="178.06" y1="966.19" x2="178.06" y2="1036.62" stroke="#000" stroke-width="2.9" stroke-linecap="butt" />
<line x1="168.83" y1="966.19" x2="187.29" y2="966.19" stroke="#000" stroke-width="2.9" stroke-linecap="butt" />
<line x1="168.83" y1="1036.62" x2="187.29" y2="1036.62" stroke="#000" stroke-width="2.9" stroke-linecap="butt" />
<line x1="233.72" y1="916.37" x2="233.72" y2="968.35" stroke="#000" stroke-width="2.9" stroke-linecap="butt" />
<line x1="224.49" y1="916.37" x2="242.95" y2="916.37" stroke="#000" stroke-width="2.9" stroke-linecap="butt" />
<line x1="224.49" y1="968.35" x2="242.95" y2="968.35" stroke="#000" stroke-width="2.9" stroke-linecap="butt" />
<line x1="325.06" y1="993.87" x2="325.06" y2="1073.52" stroke="#000" stroke-width="2.9" stroke-linecap="butt" />
<line x1="315.83" y1="993.87" x2="334.29" y2="993.87" stroke="#000" stroke-width="2.9" stroke-linecap="butt" />
<line x1="315.83" y1="1073.52" x2="334.29" y2="1073.52" stroke="#000" stroke-width="2.9" stroke-linecap="butt" />
<line x1="380.11" y1="935.13" x2="380.11" y2="978.19" stroke="#000" stroke-width="2.9" stroke-linecap="butt" />
<line x1="370.88" y1="935.13" x2="389.34" y2="935.13" stroke="#000" stroke-width="2.9" stroke-linecap="butt" />
<line x1="370.88" y1="978.19" x2="389.34" y2="978.19" stroke="#000" stroke-width="2.9" stroke-linecap="butt" />
<line x1="471.75" y1="950.82" x2="471.75" y2="1017.55" stroke="#000" stroke-width="2.9" stroke-linecap="butt" />
<line x1="462.52" y1="950.82" x2="480.98" y2="950.82" stroke="#000" stroke-width="2.9" stroke-linecap="butt" />
<line x1="462.52" y1="1017.55" x2="480.98" y2="1017.55" stroke="#000" stroke-width="2.9" stroke-linecap="butt" />
<line x1="527.42" y1="909.92" x2="527.42" y2="965.27" stroke="#000" stroke-width="2.9" stroke-linecap="butt" />
<line x1="518.19" y1="909.92" x2="536.65" y2="909.92" stroke="#000" stroke-width="2.9" stroke-linecap="butt" />
<line x1="518.19" y1="965.27" x2="536.65" y2="965.27" stroke="#000" stroke-width="2.9" stroke-linecap="butt" />
<circle cx="178.06" cy="929.91" r="5.3" fill="#000"/>
<circle cx="164.53" cy="983.72" r="5.3" fill="#000"/>
<circle cx="178.06" cy="984.34" r="5.3" fill="#000"/>
<circle cx="191.59" cy="992.33" r="5.3" fill="#000"/>
<circle cx="178.06" cy="995.1" r="5.3" fill="#000"/>
<circle cx="164.53" cy="1009.86" r="5.3" fill="#000"/>
<circle cx="178.06" cy="1009.86" r="5.3" fill="#000"/>
<circle cx="191.59" cy="1013.55" r="5.3" fill="#000"/>
<circle cx="178.06" cy="1036.62" r="5.3" fill="#000"/>
<circle cx="178.06" cy="1060.91" r="5.3" fill="#000"/>
<circle cx="220.5" cy="914.53" r="5.3" fill="#000"/>
<circle cx="233.72" cy="909.92" r="5.3" fill="#000"/>
<circle cx="246.95" cy="916.37" r="5.3" fill="#000"/>
<circle cx="233.72" cy="918.53" r="5.3" fill="#000"/>
<circle cx="220.5" cy="947.74" r="5.3" fill="#000"/>
<circle cx="233.72" cy="946.82" r="5.3" fill="#000"/>
<circle cx="246.95" cy="952.97" r="5.3" fill="#000"/>
<circle cx="233.72" cy="962.2" r="5.3" fill="#000"/>
<circle cx="226.96" cy="978.5" r="5.3" fill="#000"/>
<circle cx="239.87" cy="977.88" r="5.3" fill="#000"/>
<circle cx="325.06" cy="966.81" r="5.3" fill="#000"/>
<circle cx="338.28" cy="997.56" r="5.3" fill="#000"/>
<circle cx="311.53" cy="1005.25" r="5.3" fill="#000"/>
<circle cx="338.28" cy="1015.09" r="5.3" fill="#000"/>
<circle cx="325.06" cy="1021.24" r="5.3" fill="#000"/>
<circle cx="325.06" cy="1034.47" r="5.3" fill="#000"/>
<circle cx="311.53" cy="1068.3" r="5.3" fill="#000"/>
<circle cx="338.28" cy="1070.76" r="5.3" fill="#000"/>
<circle cx="325.06" cy="1075.98" r="5.3" fill="#000"/>
<circle cx="325.06" cy="1087.67" r="5.3" fill="#000"/>
<circle cx="380.11" cy="920.68" r="5.3" fill="#000"/>
<circle cx="375.8" cy="936.06" r="5.3" fill="#000"/>
<circle cx="384.41" cy="935.13" r="5.3" fill="#000"/>
<circle cx="366.89" cy="956.97" r="5.3" fill="#000"/>
<circle cx="380.11" cy="956.05" r="5.3" fill="#000"/>
<circle cx="393.03" cy="954.51" r="5.3" fill="#000"/>
<circle cx="375.8" cy="976.04" r="5.3" fill="#000"/>
<circle cx="384.41" cy="976.04" r="5.3" fill="#000"/>
<circle cx="384.41" cy="985.26" r="5.3" fill="#000"/>
<circle cx="375.8" cy="993.87" r="5.3" fill="#000"/>
<circle cx="471.75" cy="901.61" r="5.3" fill="#000"/>
<circle cx="471.75" cy="968.35" r="5.3" fill="#000"/>
<circle cx="471.75" cy="981.26" r="5.3" fill="#000"/>
<circle cx="458.22" cy="986.18" r="5.3" fill="#000"/>
<circle cx="485.28" cy="988.34" r="5.3" fill="#000"/>
<circle cx="464.37" cy="991.41" r="5.3" fill="#000"/>
<circle cx="478.52" cy="991.41" r="5.3" fill="#000"/>
<circle cx="471.75" cy="996.03" r="5.3" fill="#000"/>
<circle cx="471.75" cy="1004.64" r="5.3" fill="#000"/>
<circle cx="471.75" cy="1029.85" r="5.3" fill="#000"/>
<circle cx="478.52" cy="999.72" r="5.3" fill="#000"/>
<circle cx="527.42" cy="889.93" r="5.3" fill="#000"/>
<circle cx="513.58" cy="912.38" r="5.3" fill="#000"/>
<circle cx="527.42" cy="917.6" r="5.3" fill="#000"/>
<circle cx="513.58" cy="926.83" r="5.3" fill="#000"/>
<circle cx="540.64" cy="927.45" r="5.3" fill="#000"/>
<circle cx="513.58" cy="950.82" r="5.3" fill="#000"/>
<circle cx="540.64" cy="951.43" r="5.3" fill="#000"/>
<circle cx="527.42" cy="960.04" r="5.3" fill="#000"/>
<circle cx="533.87" cy="969.88" r="5.3" fill="#000"/>
<circle cx="520.65" cy="977.57" r="5.3" fill="#000"/>
<line x1="178.37" y1="890.54" x2="232.19" y2="890.54" stroke="#000" stroke-width="2.7" stroke-linecap="butt" />
<text x="156.84" y="883.16" font-size="29" text-anchor="start" font-weight="normal" font-style="normal" fill="#000" ><tspan font-style="italic">p</tspan>=0.0003</text>
<line x1="324.45" y1="910.22" x2="379.8" y2="910.22" stroke="#000" stroke-width="2.7" stroke-linecap="butt" />
<text x="300.15" y="902.84" font-size="29" text-anchor="start" font-weight="normal" font-style="normal" fill="#000" ><tspan font-style="italic">p</tspan>&lt;0.0001</text>
<line x1="471.45" y1="881.32" x2="524.65" y2="881.32" stroke="#000" stroke-width="2.7" stroke-linecap="butt" />
<text x="441.92" y="876.09" font-size="29" text-anchor="start" font-weight="normal" font-style="normal" fill="#000" ><tspan font-style="italic">p</tspan>=0.0015</text>
<line x1="325.98" y1="820.73" x2="469.91" y2="820.73" stroke="#000" stroke-width="2.7" stroke-linecap="butt" />
<text x="340.74" y="813.97" font-size="29" text-anchor="start" font-weight="normal" font-style="normal" fill="#000" ><tspan font-style="italic">p</tspan>=0.0068</text>
<line x1="377.03" y1="846.26" x2="519.73" y2="846.26" stroke="#000" stroke-width="2.7" stroke-linecap="butt" />
<text x="432.08" y="839.8" font-size="29" text-anchor="start" font-weight="normal" font-style="normal" fill="#000" >ns</text>
<text x="27.06" y="974.5" font-size="29" text-anchor="middle" font-weight="normal" font-style="normal" fill="#000" transform="rotate(-90 27.06 974.5)" >MVC (a.u.)</text>
<text x="3.81" y="795.81" font-size="41.5" text-anchor="start" font-weight="bold" font-style="normal" fill="#000" >i</text>
<rect x="755.3" y="1056.92" width="37.83" height="84.11" fill="#fff" stroke="#222" stroke-width="1.7" />
<rect x="814.35" y="962.2" width="37.83" height="178.83" fill="#808080" stroke="#333" stroke-width="1.7" />
<rect x="911.22" y="1075.98" width="37.83" height="65.05" fill="#fff" stroke="#222" stroke-width="1.7" />
<rect x="969.96" y="960.66" width="38.13" height="180.37" fill="#808080" stroke="#333" stroke-width="1.7" />
<rect x="1066.83" y="1048.31" width="37.83" height="92.72" fill="#fff" stroke="#222" stroke-width="1.7" />
<rect x="1125.88" y="968.65" width="38.13" height="172.38" fill="#808080" stroke="#333" stroke-width="1.7" />
<line x1="736.24" y1="791.14" x2="736.24" y2="1140.33" stroke="#000" stroke-width="2.6" stroke-linecap="butt" />
<line x1="723.01" y1="1139.03" x2="1184.31" y2="1139.03" stroke="#000" stroke-width="2.6" stroke-linecap="butt" />
<line x1="723.01" y1="792.44" x2="736.24" y2="792.44" stroke="#000" stroke-width="2.6" stroke-linecap="butt" />
<text x="709.01" y="802.74" font-size="29" text-anchor="end" font-weight="normal" font-style="normal" fill="#000" >40</text>
<line x1="723.01" y1="880.39" x2="736.24" y2="880.39" stroke="#000" stroke-width="2.6" stroke-linecap="butt" />
<text x="709.01" y="890.69" font-size="29" text-anchor="end" font-weight="normal" font-style="normal" fill="#000" >30</text>
<line x1="723.01" y1="965.58" x2="736.24" y2="965.58" stroke="#000" stroke-width="2.6" stroke-linecap="butt" />
<text x="709.01" y="975.88" font-size="29" text-anchor="end" font-weight="normal" font-style="normal" fill="#000" >20</text>
<line x1="723.01" y1="1052.92" x2="736.24" y2="1052.92" stroke="#000" stroke-width="2.6" stroke-linecap="butt" />
<text x="709.01" y="1063.22" font-size="29" text-anchor="end" font-weight="normal" font-style="normal" fill="#000" >10</text>
<line x1="723.01" y1="1139.03" x2="736.24" y2="1139.03" stroke="#000" stroke-width="2.6" stroke-linecap="butt" />
<text x="709.01" y="1149.33" font-size="29" text-anchor="end" font-weight="normal" font-style="normal" fill="#000" >0</text>
<line x1="803.28" y1="1139.03" x2="803.28" y2="1153.87" stroke="#000" stroke-width="2.6" stroke-linecap="butt" />
<line x1="959.5" y1="1139.03" x2="959.5" y2="1153.87" stroke="#000" stroke-width="2.6" stroke-linecap="butt" />
<line x1="1114.5" y1="1139.03" x2="1114.5" y2="1153.87" stroke="#000" stroke-width="2.6" stroke-linecap="butt" />
<text x="803.28" y="1192.23" font-size="29" text-anchor="middle" font-weight="normal" font-style="normal" fill="#000" >DV</text>
<text x="957.35" y="1192.23" font-size="29" text-anchor="middle" font-weight="normal" font-style="normal" fill="#000" >SD</text>
<text x="1112.96" y="1192.23" font-size="29" text-anchor="middle" font-weight="normal" font-style="normal" fill="#000" >RD</text>
<line x1="774.06" y1="1018.17" x2="774.06" y2="1094.44" stroke="#000" stroke-width="2.9" stroke-linecap="butt" />
<line x1="764.83" y1="1018.17" x2="783.29" y2="1018.17" stroke="#000" stroke-width="2.9" stroke-linecap="butt" />
<line x1="764.83" y1="1094.44" x2="783.29" y2="1094.44" stroke="#000" stroke-width="2.9" stroke-linecap="butt" />
<line x1="833.11" y1="923.76" x2="833.11" y2="1000.64" stroke="#000" stroke-width="2.9" stroke-linecap="butt" />
<line x1="823.88" y1="923.76" x2="842.34" y2="923.76" stroke="#000" stroke-width="2.9" stroke-linecap="butt" />
<line x1="823.88" y1="1000.64" x2="842.34" y2="1000.64" stroke="#000" stroke-width="2.9" stroke-linecap="butt" />
<line x1="929.98" y1="1052.92" x2="929.98" y2="1097.51" stroke="#000" stroke-width="2.9" stroke-linecap="butt" />
<line x1="920.75" y1="1052.92" x2="939.21" y2="1052.92" stroke="#000" stroke-width="2.9" stroke-linecap="butt" />
<line x1="920.75" y1="1097.51" x2="939.21" y2="1097.51" stroke="#000" stroke-width="2.9" stroke-linecap="butt" />
<line x1="988.41" y1="889.93" x2="988.41" y2="1032.93" stroke="#000" stroke-width="2.9" stroke-linecap="butt" />
<line x1="979.18" y1="889.93" x2="997.64" y2="889.93" stroke="#000" stroke-width="2.9" stroke-linecap="butt" />
<line x1="979.18" y1="1032.93" x2="997.64" y2="1032.93" stroke="#000" stroke-width="2.9" stroke-linecap="butt" />
<line x1="1085.9" y1="1022.78" x2="1085.9" y2="1071.99" stroke="#000" stroke-width="2.9" stroke-linecap="butt" />
<line x1="1076.67" y1="1022.78" x2="1095.13" y2="1022.78" stroke="#000" stroke-width="2.9" stroke-linecap="butt" />
<line x1="1076.67" y1="1071.99" x2="1095.13" y2="1071.99" stroke="#000" stroke-width="2.9" stroke-linecap="butt" />
<line x1="1144.33" y1="926.83" x2="1144.33" y2="1010.48" stroke="#000" stroke-width="2.9" stroke-linecap="butt" />
<line x1="1135.1" y1="926.83" x2="1153.56" y2="926.83" stroke="#000" stroke-width="2.9" stroke-linecap="butt" />
<line x1="1135.1" y1="1010.48" x2="1153.56" y2="1010.48" stroke="#000" stroke-width="2.9" stroke-linecap="butt" />
<circle cx="774.06" cy="993.56" r="5.3" fill="#000"/>
<circle cx="759.3" cy="1028.32" r="5.3" fill="#000"/>
<circle cx="774.06" cy="1036.93" r="5.3" fill="#000"/>
<circle cx="766.68" cy="1055.38" r="5.3" fill="#000"/>
<circle cx="781.44" cy="1052.92" r="5.3" fill="#000"/>
<circle cx="774.06" cy="1082.13" r="5.3" fill="#000"/>
<circle cx="774.06" cy="1095.05" r="5.3" fill="#000"/>
<circle cx="759.3" cy="1103.66" r="5.3" fill="#000"/>
<circle cx="788.52" cy="1103.66" r="5.3" fill="#000"/>
<circle cx="774.06" cy="1018.17" r="5.3" fill="#000"/>
<circle cx="818.35" cy="919.14" r="5.3" fill="#000"/>
<circle cx="847.87" cy="918.22" r="5.3" fill="#000"/>
<circle cx="818.35" cy="936.06" r="5.3" fill="#000"/>
<circle cx="847.87" cy="935.44" r="5.3" fill="#000"/>
<circle cx="818.35" cy="952.36" r="5.3" fill="#000"/>
<circle cx="847.87" cy="952.36" r="5.3" fill="#000"/>
<circle cx="833.11" cy="967.73" r="5.3" fill="#000"/>
<circle cx="818.35" cy="1005.25" r="5.3" fill="#000"/>
<circle cx="847.87" cy="1006.17" r="5.3" fill="#000"/>
<circle cx="833.11" cy="1027.7" r="5.3" fill="#000"/>
<circle cx="925.98" cy="1049.84" r="5.3" fill="#000"/>
<circle cx="934.59" cy="1048.92" r="5.3" fill="#000"/>
<circle cx="915.22" cy="1059.07" r="5.3" fill="#000"/>
<circle cx="944.44" cy="1059.07" r="5.3" fill="#000"/>
<circle cx="925.98" cy="1065.22" r="5.3" fill="#000"/>
<circle cx="934.59" cy="1069.83" r="5.3" fill="#000"/>
<circle cx="934.59" cy="1085.82" r="5.3" fill="#000"/>
<circle cx="925.98" cy="1096.59" r="5.3" fill="#000"/>
<circle cx="934.59" cy="1105.2" r="5.3" fill="#000"/>
<circle cx="929.67" cy="1116.58" r="5.3" fill="#000"/>
<circle cx="1002.87" cy="886.24" r="5.3" fill="#000"/>
<circle cx="974.57" cy="891.46" r="5.3" fill="#000"/>
<circle cx="984.41" cy="894.54" r="5.3" fill="#000"/>
<circle cx="993.64" cy="894.54" r="5.3" fill="#000"/>
<circle cx="988.41" cy="923.76" r="5.3" fill="#000"/>
<circle cx="984.41" cy="985.57" r="5.3" fill="#000"/>
<circle cx="993.64" cy="986.18" r="5.3" fill="#000"/>
<circle cx="984.41" cy="1034.47" r="5.3" fill="#000"/>
<circle cx="993.64" cy="1034.47" r="5.3" fill="#000"/>
<circle cx="988.41" cy="1065.22" r="5.3" fill="#000"/>
<circle cx="1078.21" cy="1013.55" r="5.3" fill="#000"/>
<circle cx="1092.67" cy="1010.48" r="5.3" fill="#000"/>
<circle cx="1071.45" cy="1034.47" r="5.3" fill="#000"/>
<circle cx="1100.66" cy="1036" r="5.3" fill="#000"/>
<circle cx="1085.9" cy="1043.69" r="5.3" fill="#000"/>
<circle cx="1100.66" cy="1059.07" r="5.3" fill="#000"/>
<circle cx="1071.45" cy="1063.68" r="5.3" fill="#000"/>
<circle cx="1085.9" cy="1066.76" r="5.3" fill="#000"/>
<circle cx="1100.66" cy="1073.52" r="5.3" fill="#000"/>
<circle cx="1071.45" cy="1082.13" r="5.3" fill="#000"/>
<circle cx="1130.49" cy="912.07" r="5.3" fill="#000"/>
<circle cx="1144.33" cy="916.99" r="5.3" fill="#000"/>
<circle cx="1144.33" cy="926.83" r="5.3" fill="#000"/>
<circle cx="1137.56" cy="946.21" r="5.3" fill="#000"/>
<circle cx="1151.1" cy="952.36" r="5.3" fill="#000"/>
<circle cx="1144.33" cy="983.11" r="5.3" fill="#000"/>
<circle cx="1130.49" cy="1005.25" r="5.3" fill="#000"/>
<circle cx="1144.33" cy="1006.17" r="5.3" fill="#000"/>
<circle cx="1158.17" cy="1014.48" r="5.3" fill="#000"/>
<circle cx="1130.49" cy="1020.63" r="5.3" fill="#000"/>
<line x1="775.29" y1="910.22" x2="830.65" y2="910.22" stroke="#000" stroke-width="2.7" stroke-linecap="butt" />
<text x="750.69" y="902.41" font-size="29" text-anchor="start" font-weight="normal" font-style="normal" fill="#000" ><tspan font-style="italic">p</tspan>=0.0002</text>
<line x1="932.13" y1="883.78" x2="986.57" y2="883.78" stroke="#000" stroke-width="2.7" stroke-linecap="butt" />
<text x="903.84" y="876.89" font-size="29" text-anchor="start" font-weight="normal" font-style="normal" fill="#000" ><tspan font-style="italic">p</tspan>=0.0003</text>
<line x1="1088.97" y1="903.15" x2="1146.18" y2="903.15" stroke="#000" stroke-width="2.7" stroke-linecap="butt" />
<text x="1062.83" y="896.88" font-size="29" text-anchor="start" font-weight="normal" font-style="normal" fill="#000" ><tspan font-style="italic">p</tspan>=0.0001</text>
<line x1="931.52" y1="849.03" x2="1084.98" y2="849.03" stroke="#000" stroke-width="2.7" stroke-linecap="butt" />
<text x="953.66" y="842.14" font-size="29" text-anchor="start" font-weight="normal" font-style="normal" fill="#000" ><tspan font-style="italic">p</tspan>=0.0454</text>
<line x1="995.79" y1="812.12" x2="1141.87" y2="812.12" stroke="#000" stroke-width="2.7" stroke-linecap="butt" />
<text x="1054.22" y="806.16" font-size="29" text-anchor="start" font-weight="normal" font-style="normal" fill="#000" >ns</text>
<text x="645.51" y="965.27" font-size="29" text-anchor="middle" font-weight="normal" font-style="normal" fill="#000" transform="rotate(-90 645.51 965.27)" >HR (%)</text>
<text x="621.64" y="797.66" font-size="41.5" text-anchor="start" font-weight="bold" font-style="normal" fill="#000" >j</text>
<rect x="1364.75" y="934" width="37.34" height="209.47" fill="#fff" stroke="#222" stroke-width="1.7" />
<rect x="1420.95" y="985.58" width="37.34" height="157.89" fill="#808080" stroke="#333" stroke-width="1.7" />
<rect x="1516.03" y="947.08" width="36.95" height="196.39" fill="#fff" stroke="#222" stroke-width="1.7" />
<rect x="1572.23" y="1000.21" width="37.34" height="143.26" fill="#808080" stroke="#333" stroke-width="1.7" />
<rect x="1667.69" y="919.75" width="36.95" height="223.72" fill="#fff" stroke="#222" stroke-width="1.7" />
<rect x="1723.89" y="980.96" width="37.34" height="162.51" fill="#808080" stroke="#333" stroke-width="1.7" />
<line x1="1327.03" y1="810.29" x2="1327.03" y2="1142.77" stroke="#000" stroke-width="2.6" stroke-linecap="butt" />
<line x1="1314.32" y1="1141.47" x2="1782.4" y2="1141.47" stroke="#000" stroke-width="2.6" stroke-linecap="butt" />
<line x1="1314.32" y1="811.59" x2="1327.03" y2="811.59" stroke="#000" stroke-width="2.6" stroke-linecap="butt" />
<text x="1301.32" y="822.79" font-size="29" text-anchor="end" font-weight="normal" font-style="normal" fill="#000" >3</text>
<line x1="1314.32" y1="921.68" x2="1327.03" y2="921.68" stroke="#000" stroke-width="2.6" stroke-linecap="butt" />
<text x="1301.32" y="932.88" font-size="29" text-anchor="end" font-weight="normal" font-style="normal" fill="#000" >2</text>
<line x1="1314.32" y1="1031.77" x2="1327.03" y2="1031.77" stroke="#000" stroke-width="2.6" stroke-linecap="butt" />
<text x="1301.32" y="1042.97" font-size="29" text-anchor="end" font-weight="normal" font-style="normal" fill="#000" >1</text>
<line x1="1314.32" y1="1141.47" x2="1327.03" y2="1141.47" stroke="#000" stroke-width="2.6" stroke-linecap="butt" />
<text x="1301.32" y="1152.67" font-size="29" text-anchor="end" font-weight="normal" font-style="normal" fill="#000" >0</text>
<line x1="1412.48" y1="1141.47" x2="1412.48" y2="1155.18" stroke="#000" stroke-width="2.6" stroke-linecap="butt" />
<line x1="1562.22" y1="1141.47" x2="1562.22" y2="1155.18" stroke="#000" stroke-width="2.6" stroke-linecap="butt" />
<line x1="1713.11" y1="1141.47" x2="1713.11" y2="1155.18" stroke="#000" stroke-width="2.6" stroke-linecap="butt" />
<text x="1414.79" y="1192.67" font-size="29" text-anchor="middle" font-weight="normal" font-style="normal" fill="#000" >DV</text>
<text x="1568.38" y="1192.67" font-size="29" text-anchor="middle" font-weight="normal" font-style="normal" fill="#000" >SD</text>
<text x="1717.73" y="1192.67" font-size="29" text-anchor="middle" font-weight="normal" font-style="normal" fill="#000" >RD</text>
<line x1="1382.84" y1="891.27" x2="1382.84" y2="974.8" stroke="#000" stroke-width="2.9" stroke-linecap="butt" />
<line x1="1373.6" y1="891.27" x2="1392.08" y2="891.27" stroke="#000" stroke-width="2.9" stroke-linecap="butt" />
<line x1="1373.6" y1="974.8" x2="1392.08" y2="974.8" stroke="#000" stroke-width="2.9" stroke-linecap="butt" />
<line x1="1439.43" y1="940.54" x2="1439.43" y2="1028.69" stroke="#000" stroke-width="2.9" stroke-linecap="butt" />
<line x1="1430.19" y1="940.54" x2="1448.67" y2="940.54" stroke="#000" stroke-width="2.9" stroke-linecap="butt" />
<line x1="1430.19" y1="1028.69" x2="1448.67" y2="1028.69" stroke="#000" stroke-width="2.9" stroke-linecap="butt" />
<line x1="1534.12" y1="904.36" x2="1534.12" y2="988.66" stroke="#000" stroke-width="2.9" stroke-linecap="butt" />
<line x1="1524.88" y1="904.36" x2="1543.36" y2="904.36" stroke="#000" stroke-width="2.9" stroke-linecap="butt" />
<line x1="1524.88" y1="988.66" x2="1543.36" y2="988.66" stroke="#000" stroke-width="2.9" stroke-linecap="butt" />
<line x1="1591.09" y1="956.32" x2="1591.09" y2="1043.7" stroke="#000" stroke-width="2.9" stroke-linecap="butt" />
<line x1="1581.85" y1="956.32" x2="1600.33" y2="956.32" stroke="#000" stroke-width="2.9" stroke-linecap="butt" />
<line x1="1581.85" y1="1043.7" x2="1600.33" y2="1043.7" stroke="#000" stroke-width="2.9" stroke-linecap="butt" />
<line x1="1686.17" y1="873.95" x2="1686.17" y2="965.56" stroke="#000" stroke-width="2.9" stroke-linecap="butt" />
<line x1="1676.93" y1="873.95" x2="1695.41" y2="873.95" stroke="#000" stroke-width="2.9" stroke-linecap="butt" />
<line x1="1676.93" y1="965.56" x2="1695.41" y2="965.56" stroke="#000" stroke-width="2.9" stroke-linecap="butt" />
<line x1="1742.75" y1="939.77" x2="1742.75" y2="1022.15" stroke="#000" stroke-width="2.9" stroke-linecap="butt" />
<line x1="1733.51" y1="939.77" x2="1751.99" y2="939.77" stroke="#000" stroke-width="2.9" stroke-linecap="butt" />
<line x1="1733.51" y1="1022.15" x2="1751.99" y2="1022.15" stroke="#000" stroke-width="2.9" stroke-linecap="butt" />
<circle cx="1382.84" cy="879.34" r="5.3" fill="#000"/>
<circle cx="1368.6" cy="906.28" r="5.3" fill="#000"/>
<circle cx="1382.84" cy="898.97" r="5.3" fill="#000"/>
<circle cx="1396.7" cy="905.9" r="5.3" fill="#000"/>
<circle cx="1382.84" cy="924.37" r="5.3" fill="#000"/>
<circle cx="1396.7" cy="956.32" r="5.3" fill="#000"/>
<circle cx="1382.84" cy="962.87" r="5.3" fill="#000"/>
<circle cx="1382.84" cy="980.96" r="5.3" fill="#000"/>
<circle cx="1382.84" cy="1010.21" r="5.3" fill="#000"/>
<circle cx="1382.84" cy="909.75" r="5.3" fill="#000"/>
<circle cx="1439.43" cy="934.38" r="5.3" fill="#000"/>
<circle cx="1453.28" cy="938.62" r="5.3" fill="#000"/>
<circle cx="1425.57" cy="947.08" r="5.3" fill="#000"/>
<circle cx="1439.43" cy="945.16" r="5.3" fill="#000"/>
<circle cx="1432.88" cy="982.11" r="5.3" fill="#000"/>
<circle cx="1446.36" cy="982.11" r="5.3" fill="#000"/>
<circle cx="1439.43" cy="1005.21" r="5.3" fill="#000"/>
<circle cx="1453.28" cy="1031.77" r="5.3" fill="#000"/>
<circle cx="1439.43" cy="1035.23" r="5.3" fill="#000"/>
<circle cx="1439.43" cy="1054.1" r="5.3" fill="#000"/>
<circle cx="1527.19" cy="877.41" r="5.3" fill="#000"/>
<circle cx="1541.05" cy="882.8" r="5.3" fill="#000"/>
<circle cx="1527.19" cy="924.37" r="5.3" fill="#000"/>
<circle cx="1541.05" cy="924.37" r="5.3" fill="#000"/>
<circle cx="1534.12" cy="956.32" r="5.3" fill="#000"/>
<circle cx="1547.98" cy="967.87" r="5.3" fill="#000"/>
<circle cx="1520.26" cy="976.34" r="5.3" fill="#000"/>
<circle cx="1534.12" cy="980.96" r="5.3" fill="#000"/>
<circle cx="1547.98" cy="980.96" r="5.3" fill="#000"/>
<circle cx="1534.12" cy="997.13" r="5.3" fill="#000"/>
<circle cx="1605.33" cy="940.16" r="5.3" fill="#000"/>
<circle cx="1577.23" cy="947.08" r="5.3" fill="#000"/>
<circle cx="1591.09" cy="964.79" r="5.3" fill="#000"/>
<circle cx="1577.23" cy="984.04" r="5.3" fill="#000"/>
<circle cx="1605.33" cy="984.04" r="5.3" fill="#000"/>
<circle cx="1577.23" cy="1005.21" r="5.3" fill="#000"/>
<circle cx="1605.33" cy="1012.14" r="5.3" fill="#000"/>
<circle cx="1591.09" cy="1039.08" r="5.3" fill="#000"/>
<circle cx="1577.23" cy="1061.02" r="5.3" fill="#000"/>
<circle cx="1605.33" cy="1060.25" r="5.3" fill="#000"/>
<circle cx="1671.93" cy="871.25" r="5.3" fill="#000"/>
<circle cx="1700.03" cy="879.34" r="5.3" fill="#000"/>
<circle cx="1686.17" cy="884.34" r="5.3" fill="#000"/>
<circle cx="1671.93" cy="887.81" r="5.3" fill="#000"/>
<circle cx="1700.03" cy="890.5" r="5.3" fill="#000"/>
<circle cx="1686.17" cy="905.9" r="5.3" fill="#000"/>
<circle cx="1671.93" cy="954.78" r="5.3" fill="#000"/>
<circle cx="1700.03" cy="956.32" r="5.3" fill="#000"/>
<circle cx="1686.17" cy="963.64" r="5.3" fill="#000"/>
<circle cx="1686.17" cy="1003.67" r="5.3" fill="#000"/>
<circle cx="1728.51" cy="929.76" r="5.3" fill="#000"/>
<circle cx="1742.75" cy="936.69" r="5.3" fill="#000"/>
<circle cx="1756.61" cy="936.69" r="5.3" fill="#000"/>
<circle cx="1742.75" cy="955.17" r="5.3" fill="#000"/>
<circle cx="1756.61" cy="982.11" r="5.3" fill="#000"/>
<circle cx="1742.75" cy="988.66" r="5.3" fill="#000"/>
<circle cx="1756.61" cy="996.74" r="5.3" fill="#000"/>
<circle cx="1742.75" cy="1005.21" r="5.3" fill="#000"/>
<circle cx="1742.75" cy="1031.77" r="5.3" fill="#000"/>
<circle cx="1742.75" cy="1047.55" r="5.3" fill="#000"/>
<line x1="1382.84" y1="868.56" x2="1440.2" y2="868.56" stroke="#000" stroke-width="2.7" stroke-linecap="butt" />
<text x="1355.9" y="859.74" font-size="29" text-anchor="start" font-weight="normal" font-style="normal" fill="#000" ><tspan font-style="italic">p</tspan>=0.0185</text>
<line x1="1535.66" y1="868.56" x2="1591.09" y2="868.56" stroke="#000" stroke-width="2.7" stroke-linecap="butt" />
<text x="1507.17" y="862.43" font-size="29" text-anchor="start" font-weight="normal" font-style="normal" fill="#000" ><tspan font-style="italic">p</tspan>=0.0182</text>
<line x1="1686.55" y1="862.01" x2="1741.98" y2="862.01" stroke="#000" stroke-width="2.7" stroke-linecap="butt" />
<text x="1654.22" y="857.81" font-size="29" text-anchor="start" font-weight="normal" font-style="normal" fill="#000" ><tspan font-style="italic">p</tspan>=0.0147</text>
<line x1="1535.66" y1="832.38" x2="1683.86" y2="832.38" stroke="#000" stroke-width="2.7" stroke-linecap="butt" />
<text x="1593.4" y="827.79" font-size="29" text-anchor="start" font-weight="normal" font-style="normal" fill="#000" >ns</text>
<line x1="1596.48" y1="806.97" x2="1745.06" y2="806.97" stroke="#000" stroke-width="2.7" stroke-linecap="butt" />
<text x="1654.22" y="800.07" font-size="29" text-anchor="start" font-weight="normal" font-style="normal" fill="#000" >ns</text>
<text x="1250.04" y="977.11" font-size="29" text-anchor="middle" font-weight="normal" font-style="normal" fill="#000" transform="rotate(-90 1250.04 977.11)" >TP (mins)</text>
<text x="1224.91" y="796.49" font-size="41.5" text-anchor="start" font-weight="bold" font-style="normal" fill="#000" >k</text>
<rect x="1776.24" y="859.32" width="25.02" height="25.02" fill="#fff" stroke="#222" stroke-width="2.4" />
<rect x="1776.24" y="910.52" width="25.02" height="24.63" fill="#808080" stroke="#333" stroke-width="2.4" />
<text x="1817.81" y="880.88" font-size="24.5" text-anchor="start" font-weight="normal" font-style="normal" fill="#000" >Smokers</text>
<text x="1817.81" y="919.37" font-size="24.5" text-anchor="start" font-weight="normal" font-style="normal" fill="#000" >Non-</text>
<text x="1817.81" y="949.01" font-size="24.5" text-anchor="start" font-weight="normal" font-style="normal" fill="#000" >smokers</text>
<rect x="150.69" y="1559.83" width="37.52" height="44.13" fill="#fff" stroke="#222" stroke-width="1.7" />
<rect x="209.12" y="1556.76" width="35.98" height="47.2" fill="#808080" stroke="#333" stroke-width="1.7" />
<rect x="302.61" y="1414.68" width="37.21" height="189.28" fill="#fff" stroke="#222" stroke-width="1.7" />
<rect x="360.43" y="1416.22" width="35.36" height="187.74" fill="#808080" stroke="#333" stroke-width="1.7" />
<rect x="452.99" y="1430.67" width="37.83" height="173.29" fill="#fff" stroke="#222" stroke-width="1.7" />
<rect x="511.12" y="1428.21" width="36.29" height="175.75" fill="#808080" stroke="#333" stroke-width="1.7" />
<line x1="132.85" y1="1288.52" x2="132.85" y2="1603.26" stroke="#000" stroke-width="2.6" stroke-linecap="butt" />
<line x1="119.94" y1="1601.96" x2="568.32" y2="1601.96" stroke="#000" stroke-width="2.6" stroke-linecap="butt" />
<line x1="119.94" y1="1289.82" x2="132.85" y2="1289.82" stroke="#000" stroke-width="2.6" stroke-linecap="butt" />
<text x="105.94" y="1300.12" font-size="29" text-anchor="end" font-weight="normal" font-style="normal" fill="#000" >150</text>
<line x1="119.94" y1="1394.69" x2="132.85" y2="1394.69" stroke="#000" stroke-width="2.6" stroke-linecap="butt" />
<text x="105.94" y="1404.99" font-size="29" text-anchor="end" font-weight="normal" font-style="normal" fill="#000" >100</text>
<line x1="119.94" y1="1498.94" x2="132.85" y2="1498.94" stroke="#000" stroke-width="2.6" stroke-linecap="butt" />
<text x="105.94" y="1509.24" font-size="29" text-anchor="end" font-weight="normal" font-style="normal" fill="#000" >50</text>
<line x1="119.94" y1="1601.96" x2="132.85" y2="1601.96" stroke="#000" stroke-width="2.6" stroke-linecap="butt" />
<text x="105.94" y="1612.26" font-size="29" text-anchor="end" font-weight="normal" font-style="normal" fill="#000" >0</text>
<line x1="197.74" y1="1601.96" x2="197.74" y2="1615.57" stroke="#000" stroke-width="2.6" stroke-linecap="butt" />
<line x1="351.82" y1="1601.96" x2="351.82" y2="1615.57" stroke="#000" stroke-width="2.6" stroke-linecap="butt" />
<line x1="499.74" y1="1601.96" x2="499.74" y2="1615.57" stroke="#000" stroke-width="2.6" stroke-linecap="butt" />
<text x="197.74" y="1650.55" font-size="29" text-anchor="middle" font-weight="normal" font-style="normal" fill="#000" >rHb</text>
<text x="352.43" y="1650.55" font-size="29" text-anchor="middle" font-weight="normal" font-style="normal" fill="#000" >Flow</text>
<text x="500.05" y="1650.55" font-size="29" text-anchor="middle" font-weight="normal" font-style="normal" fill="#000" >SO2</text>
<line x1="169.14" y1="1556.76" x2="169.14" y2="1563.52" stroke="#000" stroke-width="2.9" stroke-linecap="butt" />
<line x1="159.91" y1="1556.76" x2="178.37" y2="1556.76" stroke="#000" stroke-width="2.9" stroke-linecap="butt" />
<line x1="159.91" y1="1563.52" x2="178.37" y2="1563.52" stroke="#000" stroke-width="2.9" stroke-linecap="butt" />
<line x1="226.96" y1="1546.61" x2="226.96" y2="1566.6" stroke="#000" stroke-width="2.9" stroke-linecap="butt" />
<line x1="217.73" y1="1546.61" x2="236.19" y2="1546.61" stroke="#000" stroke-width="2.9" stroke-linecap="butt" />
<line x1="217.73" y1="1566.6" x2="236.19" y2="1566.6" stroke="#000" stroke-width="2.9" stroke-linecap="butt" />
<line x1="321.06" y1="1363.63" x2="321.06" y2="1466.04" stroke="#000" stroke-width="2.9" stroke-linecap="butt" />
<line x1="311.83" y1="1363.63" x2="330.29" y2="1363.63" stroke="#000" stroke-width="2.9" stroke-linecap="butt" />
<line x1="311.83" y1="1466.04" x2="330.29" y2="1466.04" stroke="#000" stroke-width="2.9" stroke-linecap="butt" />
<line x1="377.65" y1="1359.32" x2="377.65" y2="1471.26" stroke="#000" stroke-width="2.9" stroke-linecap="butt" />
<line x1="368.42" y1="1359.32" x2="386.88" y2="1359.32" stroke="#000" stroke-width="2.9" stroke-linecap="butt" />
<line x1="368.42" y1="1471.26" x2="386.88" y2="1471.26" stroke="#000" stroke-width="2.9" stroke-linecap="butt" />
<line x1="471.75" y1="1421.44" x2="471.75" y2="1442.97" stroke="#000" stroke-width="2.9" stroke-linecap="butt" />
<line x1="462.52" y1="1421.44" x2="480.98" y2="1421.44" stroke="#000" stroke-width="2.9" stroke-linecap="butt" />
<line x1="462.52" y1="1442.97" x2="480.98" y2="1442.97" stroke="#000" stroke-width="2.9" stroke-linecap="butt" />
<line x1="528.95" y1="1409.14" x2="528.95" y2="1446.05" stroke="#000" stroke-width="2.9" stroke-linecap="butt" />
<line x1="519.72" y1="1409.14" x2="538.18" y2="1409.14" stroke="#000" stroke-width="2.9" stroke-linecap="butt" />
<line x1="519.72" y1="1446.05" x2="538.18" y2="1446.05" stroke="#000" stroke-width="2.9" stroke-linecap="butt" />
<circle cx="153.77" cy="1554.3" r="3.2" fill="#000"/>
<circle cx="162.38" cy="1556.76" r="3.2" fill="#000"/>
<circle cx="169.14" cy="1556.14" r="3.2" fill="#000"/>
<circle cx="175.91" cy="1556.14" r="3.2" fill="#000"/>
<circle cx="185.13" cy="1558.91" r="3.2" fill="#000"/>
<circle cx="162.38" cy="1561.37" r="3.2" fill="#000"/>
<circle cx="169.14" cy="1562.29" r="3.2" fill="#000"/>
<circle cx="175.91" cy="1562.29" r="3.2" fill="#000"/>
<circle cx="153.77" cy="1559.83" r="3.2" fill="#000"/>
<circle cx="162.38" cy="1567.52" r="3.2" fill="#000"/>
<circle cx="226.04" cy="1541.38" r="3.2" fill="#000"/>
<circle cx="242.33" cy="1548.15" r="3.2" fill="#000"/>
<circle cx="219.88" cy="1550.61" r="3.2" fill="#000"/>
<circle cx="232.19" cy="1550.61" r="3.2" fill="#000"/>
<circle cx="211.58" cy="1556.76" r="3.2" fill="#000"/>
<circle cx="242.33" cy="1558.91" r="3.2" fill="#000"/>
<circle cx="211.58" cy="1562.29" r="3.2" fill="#000"/>
<circle cx="226.96" cy="1562.29" r="3.2" fill="#000"/>
<circle cx="232.19" cy="1567.52" r="3.2" fill="#000"/>
<circle cx="220.81" cy="1570.6" r="3.2" fill="#000"/>
<circle cx="321.06" cy="1337.79" r="3.2" fill="#000"/>
<circle cx="321.06" cy="1346.1" r="3.2" fill="#000"/>
<circle cx="321.06" cy="1370.7" r="3.2" fill="#000"/>
<circle cx="321.06" cy="1392.84" r="3.2" fill="#000"/>
<circle cx="321.06" cy="1422.98" r="3.2" fill="#000"/>
<circle cx="321.06" cy="1430.67" r="3.2" fill="#000"/>
<circle cx="305.38" cy="1449.12" r="3.2" fill="#000"/>
<circle cx="336.75" cy="1449.12" r="3.2" fill="#000"/>
<circle cx="321.06" cy="1452.81" r="3.2" fill="#000"/>
<circle cx="321.06" cy="1492.79" r="3.2" fill="#000"/>
<circle cx="377.65" cy="1327.95" r="3.2" fill="#000"/>
<circle cx="377.65" cy="1338.41" r="3.2" fill="#000"/>
<circle cx="377.65" cy="1376.85" r="3.2" fill="#000"/>
<circle cx="377.65" cy="1392.84" r="3.2" fill="#000"/>
<circle cx="384.41" cy="1422.37" r="3.2" fill="#000"/>
<circle cx="371.19" cy="1428.21" r="3.2" fill="#000"/>
<circle cx="377.65" cy="1439.28" r="3.2" fill="#000"/>
<circle cx="377.65" cy="1466.04" r="3.2" fill="#000"/>
<circle cx="384.41" cy="1479.87" r="3.2" fill="#000"/>
<circle cx="371.19" cy="1484.8" r="3.2" fill="#000"/>
<circle cx="456.68" cy="1419.91" r="3.2" fill="#000"/>
<circle cx="476.67" cy="1417.75" r="3.2" fill="#000"/>
<circle cx="467.45" cy="1421.44" r="3.2" fill="#000"/>
<circle cx="456.68" cy="1426.98" r="3.2" fill="#000"/>
<circle cx="486.51" cy="1430.05" r="3.2" fill="#000"/>
<circle cx="476.67" cy="1432.21" r="3.2" fill="#000"/>
<circle cx="467.45" cy="1433.74" r="3.2" fill="#000"/>
<circle cx="467.45" cy="1441.43" r="3.2" fill="#000"/>
<circle cx="476.67" cy="1449.12" r="3.2" fill="#000"/>
<circle cx="466.83" cy="1449.12" r="3.2" fill="#000"/>
<circle cx="528.95" cy="1410.06" r="3.2" fill="#000"/>
<circle cx="519.73" cy="1421.44" r="3.2" fill="#000"/>
<circle cx="536.64" cy="1422.06" r="3.2" fill="#000"/>
<circle cx="544.33" cy="1422.06" r="3.2" fill="#000"/>
<circle cx="513.58" cy="1423.6" r="3.2" fill="#000"/>
<circle cx="528.95" cy="1424.52" r="3.2" fill="#000"/>
<circle cx="528.95" cy="1431.28" r="3.2" fill="#000"/>
<circle cx="528.95" cy="1441.43" r="3.2" fill="#000"/>
<circle cx="528.95" cy="1472.19" r="3.2" fill="#000"/>
<circle cx="522.8" cy="1410.06" r="3.2" fill="#000"/>
<line x1="171.6" y1="1529.39" x2="224.5" y2="1529.39" stroke="#000" stroke-width="2.7" stroke-linecap="butt" />
<text x="186.06" y="1523.11" font-size="29" text-anchor="start" font-weight="normal" font-style="normal" fill="#000" >ns</text>
<line x1="321.99" y1="1315.96" x2="374.57" y2="1315.96" stroke="#000" stroke-width="2.7" stroke-linecap="butt" />
<text x="334.59" y="1309.07" font-size="29" text-anchor="start" font-weight="normal" font-style="normal" fill="#000" >ns</text>
<line x1="473.6" y1="1397.46" x2="526.49" y2="1397.46" stroke="#000" stroke-width="2.7" stroke-linecap="butt" />
<text x="486.82" y="1390.57" font-size="29" text-anchor="start" font-weight="normal" font-style="normal" fill="#000" >ns</text>
<text x="27.68" y="1446.05" font-size="29" text-anchor="middle" font-weight="normal" font-style="normal" fill="#000" transform="rotate(-90 27.68 1446.05)" >MVC (a.u.)</text>
<text x="3.81" y="1278.74" font-size="41.5" text-anchor="start" font-weight="bold" font-style="normal" fill="#000" >l</text>
<rect x="143.31" y="1292.9" width="22.76" height="22.14" fill="#fff" stroke="#444" stroke-width="1.7" />
<rect x="143.31" y="1333.18" width="22.76" height="22.45" fill="#808080" stroke="#444" stroke-width="1.7" />
<text x="182.37" y="1314.73" font-size="29" text-anchor="start" font-weight="normal" font-style="normal" fill="#000" >Smoker</text>
<text x="183.6" y="1354.71" font-size="29" text-anchor="start" font-weight="normal" font-style="normal" fill="#000" >Volunteer</text>
<rect x="740.69" y="1546.92" width="37.52" height="57.04" fill="#fff" stroke="#222" stroke-width="1.7" />
<line x1="739.49" y1="1546.92" x2="779.01" y2="1546.92" stroke="#000" stroke-width="2.6" stroke-linecap="butt" />
<line x1="740.69" y1="1546.92" x2="740.69" y2="1603.96" stroke="#000" stroke-width="2.4" stroke-linecap="butt" />
<rect x="799.12" y="1542" width="35.98" height="61.96" fill="#808080" stroke="#333" stroke-width="1.7" />
<rect x="892.61" y="1423.29" width="37.21" height="180.67" fill="#fff" stroke="#222" stroke-width="1.7" />
<line x1="891.41" y1="1423.29" x2="930.62" y2="1423.29" stroke="#000" stroke-width="2.6" stroke-linecap="butt" />
<line x1="892.61" y1="1423.29" x2="892.61" y2="1603.96" stroke="#000" stroke-width="2.4" stroke-linecap="butt" />
<rect x="951.35" y="1433.74" width="35.37" height="170.22" fill="#808080" stroke="#333" stroke-width="1.7" />
<rect x="1045.15" y="1497.71" width="36.9" height="106.25" fill="#fff" stroke="#222" stroke-width="1.7" />
<line x1="1043.95" y1="1497.71" x2="1082.85" y2="1497.71" stroke="#000" stroke-width="2.6" stroke-linecap="butt" />
<line x1="1045.15" y1="1497.71" x2="1045.15" y2="1603.96" stroke="#000" stroke-width="2.4" stroke-linecap="butt" />
<rect x="1102.65" y="1497.71" width="36.29" height="106.25" fill="#808080" stroke="#333" stroke-width="1.7" />
<line x1="722.85" y1="1294.06" x2="722.85" y2="1603.26" stroke="#000" stroke-width="2.6" stroke-linecap="butt" />
<line x1="710.55" y1="1601.96" x2="1158.32" y2="1601.96" stroke="#000" stroke-width="2.6" stroke-linecap="butt" />
<line x1="710.55" y1="1295.36" x2="722.85" y2="1295.36" stroke="#000" stroke-width="2.6" stroke-linecap="butt" />
<text x="696.55" y="1303.76" font-size="29" text-anchor="end" font-weight="normal" font-style="normal" fill="#000" >100</text>
<line x1="710.55" y1="1357.17" x2="722.85" y2="1357.17" stroke="#000" stroke-width="2.6" stroke-linecap="butt" />
<text x="696.55" y="1365.57" font-size="29" text-anchor="end" font-weight="normal" font-style="normal" fill="#000" >80</text>
<line x1="710.55" y1="1417.14" x2="722.85" y2="1417.14" stroke="#000" stroke-width="2.6" stroke-linecap="butt" />
<text x="696.55" y="1425.54" font-size="29" text-anchor="end" font-weight="normal" font-style="normal" fill="#000" >60</text>
<line x1="710.55" y1="1478.03" x2="722.85" y2="1478.03" stroke="#000" stroke-width="2.6" stroke-linecap="butt" />
<text x="696.55" y="1486.43" font-size="29" text-anchor="end" font-weight="normal" font-style="normal" fill="#000" >40</text>
<line x1="710.55" y1="1539.84" x2="722.85" y2="1539.84" stroke="#000" stroke-width="2.6" stroke-linecap="butt" />
<text x="696.55" y="1548.24" font-size="29" text-anchor="end" font-weight="normal" font-style="normal" fill="#000" >20</text>
<line x1="710.55" y1="1601.96" x2="722.85" y2="1601.96" stroke="#000" stroke-width="2.6" stroke-linecap="butt" />
<text x="696.55" y="1610.36" font-size="29" text-anchor="end" font-weight="normal" font-style="normal" fill="#000" >0</text>
<line x1="788.05" y1="1601.96" x2="788.05" y2="1615.57" stroke="#000" stroke-width="2.6" stroke-linecap="butt" />
<line x1="939.97" y1="1601.96" x2="939.97" y2="1615.57" stroke="#000" stroke-width="2.6" stroke-linecap="butt" />
<line x1="1091.28" y1="1601.96" x2="1091.28" y2="1615.57" stroke="#000" stroke-width="2.6" stroke-linecap="butt" />
<text x="787.44" y="1649.94" font-size="29" text-anchor="middle" font-weight="normal" font-style="normal" fill="#000" >rHb</text>
<text x="939.66" y="1649.94" font-size="29" text-anchor="middle" font-weight="normal" font-style="normal" fill="#000" >Flow</text>
<text x="1091.89" y="1649.94" font-size="29" text-anchor="middle" font-weight="normal" font-style="normal" fill="#000" >SO2</text>
<line x1="759.45" y1="1535.85" x2="759.45" y2="1558.3" stroke="#000" stroke-width="2.9" stroke-linecap="butt" />
<line x1="750.22" y1="1535.85" x2="768.68" y2="1535.85" stroke="#000" stroke-width="2.9" stroke-linecap="butt" />
<line x1="750.22" y1="1558.3" x2="768.68" y2="1558.3" stroke="#000" stroke-width="2.9" stroke-linecap="butt" />
<line x1="816.96" y1="1524.47" x2="816.96" y2="1558.3" stroke="#000" stroke-width="2.9" stroke-linecap="butt" />
<line x1="807.73" y1="1524.47" x2="826.19" y2="1524.47" stroke="#000" stroke-width="2.9" stroke-linecap="butt" />
<line x1="807.73" y1="1558.3" x2="826.19" y2="1558.3" stroke="#000" stroke-width="2.9" stroke-linecap="butt" />
<line x1="911.68" y1="1362.4" x2="911.68" y2="1482.95" stroke="#000" stroke-width="2.9" stroke-linecap="butt" />
<line x1="902.45" y1="1362.4" x2="920.91" y2="1362.4" stroke="#000" stroke-width="2.9" stroke-linecap="butt" />
<line x1="902.45" y1="1482.95" x2="920.91" y2="1482.95" stroke="#000" stroke-width="2.9" stroke-linecap="butt" />
<line x1="968.88" y1="1348.56" x2="968.88" y2="1515.86" stroke="#000" stroke-width="2.9" stroke-linecap="butt" />
<line x1="959.65" y1="1348.56" x2="978.11" y2="1348.56" stroke="#000" stroke-width="2.9" stroke-linecap="butt" />
<line x1="959.65" y1="1515.86" x2="978.11" y2="1515.86" stroke="#000" stroke-width="2.9" stroke-linecap="butt" />
<line x1="1063.6" y1="1470.65" x2="1063.6" y2="1524.47" stroke="#000" stroke-width="2.9" stroke-linecap="butt" />
<line x1="1054.37" y1="1470.65" x2="1072.83" y2="1470.65" stroke="#000" stroke-width="2.9" stroke-linecap="butt" />
<line x1="1054.37" y1="1524.47" x2="1072.83" y2="1524.47" stroke="#000" stroke-width="2.9" stroke-linecap="butt" />
<line x1="1120.8" y1="1448.51" x2="1120.8" y2="1544.46" stroke="#000" stroke-width="2.9" stroke-linecap="butt" />
<line x1="1111.57" y1="1448.51" x2="1130.03" y2="1448.51" stroke="#000" stroke-width="2.9" stroke-linecap="butt" />
<line x1="1111.57" y1="1544.46" x2="1130.03" y2="1544.46" stroke="#000" stroke-width="2.9" stroke-linecap="butt" />
<circle cx="759.45" cy="1526" r="3.1" fill="#000"/>
<circle cx="743.77" cy="1542.3" r="3.1" fill="#000"/>
<circle cx="766.83" cy="1538.31" r="3.1" fill="#000"/>
<circle cx="752.38" cy="1547.53" r="3.1" fill="#000"/>
<circle cx="759.45" cy="1546.92" r="3.1" fill="#000"/>
<circle cx="775.13" cy="1546.92" r="3.1" fill="#000"/>
<circle cx="759.45" cy="1553.68" r="3.1" fill="#000"/>
<circle cx="766.83" cy="1559.83" r="3.1" fill="#000"/>
<circle cx="755.45" cy="1561.37" r="3.1" fill="#000"/>
<circle cx="762.22" cy="1549.07" r="3.1" fill="#000"/>
<circle cx="816.96" cy="1511.24" r="3.1" fill="#000"/>
<circle cx="832.33" cy="1531.54" r="3.1" fill="#000"/>
<circle cx="801.58" cy="1534.62" r="3.1" fill="#000"/>
<circle cx="816.96" cy="1536.77" r="3.1" fill="#000"/>
<circle cx="801.58" cy="1545.38" r="3.1" fill="#000"/>
<circle cx="832.33" cy="1544.46" r="3.1" fill="#000"/>
<circle cx="816.96" cy="1550.61" r="3.1" fill="#000"/>
<circle cx="832.33" cy="1550.61" r="3.1" fill="#000"/>
<circle cx="816.96" cy="1576.75" r="3.1" fill="#000"/>
<circle cx="823.72" cy="1544.46" r="3.1" fill="#000"/>
<circle cx="911.68" cy="1335.95" r="3.1" fill="#000"/>
<circle cx="911.68" cy="1370.7" r="3.1" fill="#000"/>
<circle cx="917.83" cy="1381.46" r="3.1" fill="#000"/>
<circle cx="904.3" cy="1387" r="3.1" fill="#000"/>
<circle cx="917.83" cy="1403.61" r="3.1" fill="#000"/>
<circle cx="904.3" cy="1406.68" r="3.1" fill="#000"/>
<circle cx="911.68" cy="1459.58" r="3.1" fill="#000"/>
<circle cx="904.3" cy="1477.41" r="3.1" fill="#000"/>
<circle cx="917.83" cy="1482.33" r="3.1" fill="#000"/>
<circle cx="911.68" cy="1527.85" r="3.1" fill="#000"/>
<circle cx="962.42" cy="1334.72" r="3.1" fill="#000"/>
<circle cx="975.03" cy="1335.95" r="3.1" fill="#000"/>
<circle cx="968.88" cy="1374.39" r="3.1" fill="#000"/>
<circle cx="968.88" cy="1389.15" r="3.1" fill="#000"/>
<circle cx="968.88" cy="1405.14" r="3.1" fill="#000"/>
<circle cx="962.42" cy="1422.37" r="3.1" fill="#000"/>
<circle cx="975.03" cy="1428.21" r="3.1" fill="#000"/>
<circle cx="968.88" cy="1531.23" r="3.1" fill="#000"/>
<circle cx="968.88" cy="1547.53" r="3.1" fill="#000"/>
<circle cx="968.88" cy="1557.37" r="3.1" fill="#000"/>
<circle cx="1063.6" cy="1442.97" r="3.1" fill="#000"/>
<circle cx="1055.6" cy="1485.41" r="3.1" fill="#000"/>
<circle cx="1071.29" cy="1485.41" r="3.1" fill="#000"/>
<circle cx="1063.6" cy="1497.71" r="3.1" fill="#000"/>
<circle cx="1063.6" cy="1506.94" r="3.1" fill="#000"/>
<circle cx="1048.22" cy="1512.17" r="3.1" fill="#000"/>
<circle cx="1078.97" cy="1512.17" r="3.1" fill="#000"/>
<circle cx="1063.6" cy="1522.93" r="3.1" fill="#000"/>
<circle cx="1063.6" cy="1533.69" r="3.1" fill="#000"/>
<circle cx="1071.29" cy="1501.4" r="3.1" fill="#000"/>
<circle cx="1120.8" cy="1441.74" r="3.1" fill="#000"/>
<circle cx="1114.03" cy="1457.42" r="3.1" fill="#000"/>
<circle cx="1127.56" cy="1455.89" r="3.1" fill="#000"/>
<circle cx="1120.8" cy="1466.04" r="3.1" fill="#000"/>
<circle cx="1120.8" cy="1473.72" r="3.1" fill="#000"/>
<circle cx="1120.8" cy="1482.95" r="3.1" fill="#000"/>
<circle cx="1120.8" cy="1526" r="3.1" fill="#000"/>
<circle cx="1114.03" cy="1536.77" r="3.1" fill="#000"/>
<circle cx="1127.56" cy="1540.77" r="3.1" fill="#000"/>
<circle cx="1120.8" cy="1589.05" r="3.1" fill="#000"/>
<line x1="763.14" y1="1502.94" x2="817.57" y2="1502.94" stroke="#000" stroke-width="2.7" stroke-linecap="butt" />
<text x="776.06" y="1494.39" font-size="29" text-anchor="start" font-weight="normal" font-style="normal" fill="#000" >ns</text>
<line x1="914.45" y1="1327.03" x2="965.8" y2="1327.03" stroke="#000" stroke-width="2.7" stroke-linecap="butt" />
<text x="924.59" y="1318.48" font-size="29" text-anchor="start" font-weight="normal" font-style="normal" fill="#000" >ns</text>
<line x1="1064.52" y1="1431.9" x2="1118.95" y2="1431.9" stroke="#000" stroke-width="2.7" stroke-linecap="butt" />
<text x="1078.97" y="1426.12" font-size="29" text-anchor="start" font-weight="normal" font-style="normal" fill="#000" >ns</text>
<text x="626.29" y="1449.12" font-size="29" text-anchor="middle" font-weight="normal" font-style="normal" fill="#000" transform="rotate(-90 626.29 1449.12)" >HR (%)</text>
<text x="601.8" y="1278.74" font-size="41.5" text-anchor="start" font-weight="bold" font-style="normal" fill="#000" >m</text>
<rect x="1368.5" y="1519.79" width="60.46" height="83.8" fill="#fff" stroke="#222" stroke-width="1.7" />
<rect x="1462.95" y="1419.02" width="60.86" height="184.57" fill="#808080" stroke="#333" stroke-width="1.7" />
<line x1="1338.07" y1="1307.86" x2="1338.07" y2="1602.89" stroke="#000" stroke-width="2.6" stroke-linecap="butt" />
<line x1="1324.24" y1="1601.59" x2="1557.4" y2="1601.59" stroke="#000" stroke-width="2.6" stroke-linecap="butt" />
<line x1="1324.24" y1="1309.16" x2="1338.07" y2="1309.16" stroke="#000" stroke-width="2.6" stroke-linecap="butt" />
<text x="1310.24" y="1319.46" font-size="29" text-anchor="end" font-weight="normal" font-style="normal" fill="#000" >30</text>
<line x1="1324.24" y1="1406.37" x2="1338.07" y2="1406.37" stroke="#000" stroke-width="2.6" stroke-linecap="butt" />
<text x="1310.24" y="1416.67" font-size="29" text-anchor="end" font-weight="normal" font-style="normal" fill="#000" >20</text>
<line x1="1324.24" y1="1504.38" x2="1338.07" y2="1504.38" stroke="#000" stroke-width="2.6" stroke-linecap="butt" />
<text x="1310.24" y="1514.68" font-size="29" text-anchor="end" font-weight="normal" font-style="normal" fill="#000" >10</text>
<line x1="1324.24" y1="1601.59" x2="1338.07" y2="1601.59" stroke="#000" stroke-width="2.6" stroke-linecap="butt" />
<text x="1310.24" y="1611.89" font-size="29" text-anchor="end" font-weight="normal" font-style="normal" fill="#000" >0</text>
<line x1="1398.54" y1="1601.59" x2="1398.54" y2="1615.63" stroke="#000" stroke-width="2.6" stroke-linecap="butt" />
<line x1="1492.98" y1="1601.59" x2="1492.98" y2="1615.63" stroke="#000" stroke-width="2.6" stroke-linecap="butt" />
<text x="1398.54" y="1650.2" font-size="29" text-anchor="middle" font-weight="normal" font-style="normal" fill="#000" >S</text>
<text x="1493.38" y="1650.2" font-size="29" text-anchor="middle" font-weight="normal" font-style="normal" fill="#000" >V</text>
<line x1="1398.54" y1="1468.42" x2="1398.54" y2="1568.79" stroke="#000" stroke-width="2.9" stroke-linecap="butt" />
<line x1="1383.52" y1="1468.42" x2="1413.56" y2="1468.42" stroke="#000" stroke-width="2.9" stroke-linecap="butt" />
<line x1="1383.52" y1="1568.79" x2="1413.56" y2="1568.79" stroke="#000" stroke-width="2.9" stroke-linecap="butt" />
<line x1="1492.98" y1="1367.64" x2="1492.98" y2="1468.42" stroke="#000" stroke-width="2.9" stroke-linecap="butt" />
<line x1="1477.96" y1="1367.64" x2="1508" y2="1367.64" stroke="#000" stroke-width="2.9" stroke-linecap="butt" />
<line x1="1477.96" y1="1468.42" x2="1508" y2="1468.42" stroke="#000" stroke-width="2.9" stroke-linecap="butt" />
<circle cx="1398.54" cy="1443.12" r="4.6" fill="#000"/>
<circle cx="1388.66" cy="1460.51" r="4.6" fill="#000"/>
<circle cx="1409.21" cy="1456.56" r="4.6" fill="#000"/>
<circle cx="1398.54" cy="1504.77" r="4.6" fill="#000"/>
<circle cx="1388.66" cy="1529.27" r="4.6" fill="#000"/>
<circle cx="1409.21" cy="1535.6" r="4.6" fill="#000"/>
<circle cx="1409.21" cy="1549.82" r="4.6" fill="#000"/>
<circle cx="1388.66" cy="1555.75" r="4.6" fill="#000"/>
<circle cx="1409.21" cy="1564.05" r="4.6" fill="#000"/>
<circle cx="1398.54" cy="1587.36" r="4.6" fill="#000"/>
<circle cx="1482.71" cy="1342.75" r="4.6" fill="#000"/>
<circle cx="1503.26" cy="1349.07" r="4.6" fill="#000"/>
<circle cx="1492.98" cy="1377.52" r="4.6" fill="#000"/>
<circle cx="1513.14" cy="1404.4" r="4.6" fill="#000"/>
<circle cx="1492.98" cy="1411.51" r="4.6" fill="#000"/>
<circle cx="1472.83" cy="1445.89" r="4.6" fill="#000"/>
<circle cx="1492.98" cy="1444.7" r="4.6" fill="#000"/>
<circle cx="1513.14" cy="1447.87" r="4.6" fill="#000"/>
<circle cx="1492.98" cy="1468.02" r="4.6" fill="#000"/>
<circle cx="1492.98" cy="1493.31" r="4.6" fill="#000"/>
<line x1="1400.12" y1="1334.84" x2="1492.98" y2="1334.84" stroke="#000" stroke-width="2.7" stroke-linecap="butt" />
<text x="1392.21" y="1326.94" font-size="29" text-anchor="start" font-weight="normal" font-style="normal" fill="#000" ><tspan font-style="italic">p</tspan>=0.0011</text>
<text x="1220.7" y="1456.56" font-size="29" text-anchor="middle" font-weight="normal" font-style="normal" fill="#000" transform="rotate(-90 1220.7 1456.56)" >FMD</text>
<text x="1250.34" y="1455.37" font-size="29" text-anchor="middle" font-weight="normal" font-style="normal" fill="#000" transform="rotate(-90 1250.34 1455.37)" >(%Diameter change)</text>
<text x="1195.31" y="1279.03" font-size="41.5" text-anchor="start" font-weight="bold" font-style="normal" fill="#000" >n</text>
<rect x="1777.52" y="1419.02" width="54.53" height="187.31" fill="#fff" stroke="#222" stroke-width="1.7" />
<line x1="1776.72" y1="1605.73" x2="1832.85" y2="1605.73" stroke="#000" stroke-width="2.6" stroke-linecap="butt" />
<line x1="1776.32" y1="1419.02" x2="1832.85" y2="1419.02" stroke="#000" stroke-width="2.6" stroke-linecap="butt" />
<rect x="1862.48" y="1409.14" width="54.93" height="197.19" fill="#808080" stroke="#333" stroke-width="1.7" />
<line x1="1861.68" y1="1605.73" x2="1918.21" y2="1605.73" stroke="#000" stroke-width="2.6" stroke-linecap="butt" />
<line x1="1862.88" y1="1409.14" x2="1862.88" y2="1606.33" stroke="#2a2a2a" stroke-width="2.4" stroke-linecap="butt" />
<line x1="1749.85" y1="1307.86" x2="1749.85" y2="1603.68" stroke="#000" stroke-width="2.6" stroke-linecap="butt" />
<line x1="1739.18" y1="1602.38" x2="1947.44" y2="1602.38" stroke="#000" stroke-width="2.6" stroke-linecap="butt" />
<line x1="1739.18" y1="1309.16" x2="1749.85" y2="1309.16" stroke="#000" stroke-width="2.6" stroke-linecap="butt" />
<text x="1727.18" y="1319.46" font-size="29" text-anchor="end" font-weight="normal" font-style="normal" fill="#000" >0.020</text>
<line x1="1739.18" y1="1383.85" x2="1749.85" y2="1383.85" stroke="#000" stroke-width="2.6" stroke-linecap="butt" />
<text x="1727.18" y="1394.15" font-size="29" text-anchor="end" font-weight="normal" font-style="normal" fill="#000" >0.015</text>
<line x1="1739.18" y1="1455.77" x2="1749.85" y2="1455.77" stroke="#000" stroke-width="2.6" stroke-linecap="butt" />
<text x="1727.18" y="1466.07" font-size="29" text-anchor="end" font-weight="normal" font-style="normal" fill="#000" >0.010</text>
<line x1="1739.18" y1="1530.85" x2="1749.85" y2="1530.85" stroke="#000" stroke-width="2.6" stroke-linecap="butt" />
<text x="1727.18" y="1541.15" font-size="29" text-anchor="end" font-weight="normal" font-style="normal" fill="#000" >0.005</text>
<line x1="1739.18" y1="1602.38" x2="1749.85" y2="1602.38" stroke="#000" stroke-width="2.6" stroke-linecap="butt" />
<text x="1727.18" y="1612.68" font-size="29" text-anchor="end" font-weight="normal" font-style="normal" fill="#000" >0.000</text>
<text x="1809.13" y="1641.9" font-size="29" text-anchor="middle" font-weight="normal" font-style="normal" fill="#000" >S</text>
<text x="1889.75" y="1641.9" font-size="29" text-anchor="middle" font-weight="normal" font-style="normal" fill="#000" >V</text>
<line x1="1805.18" y1="1381.48" x2="1805.18" y2="1454.58" stroke="#000" stroke-width="2.9" stroke-linecap="butt" />
<line x1="1791.74" y1="1381.48" x2="1818.62" y2="1381.48" stroke="#000" stroke-width="2.9" stroke-linecap="butt" />
<line x1="1791.74" y1="1454.58" x2="1818.62" y2="1454.58" stroke="#000" stroke-width="2.9" stroke-linecap="butt" />
<line x1="1889.35" y1="1380.29" x2="1889.35" y2="1409.14" stroke="#000" stroke-width="2.9" stroke-linecap="butt" />
<line x1="1875.91" y1="1380.29" x2="1902.79" y2="1380.29" stroke="#000" stroke-width="2.9" stroke-linecap="butt" />
<circle cx="1805.18" cy="1355.39" r="3.2" fill="#000"/>
<circle cx="1805.18" cy="1370.41" r="3.2" fill="#000"/>
<circle cx="1805.18" cy="1399.65" r="3.2" fill="#000"/>
<circle cx="1799.25" cy="1413.88" r="3.2" fill="#000"/>
<circle cx="1811.11" cy="1413.88" r="3.2" fill="#000"/>
<circle cx="1799.25" cy="1428.9" r="3.2" fill="#000"/>
<circle cx="1811.11" cy="1428.9" r="3.2" fill="#000"/>
<circle cx="1805.18" cy="1443.52" r="3.2" fill="#000"/>
<circle cx="1805.18" cy="1456.56" r="3.2" fill="#000"/>
<circle cx="1805.18" cy="1473.16" r="3.2" fill="#000"/>
<circle cx="1889.35" cy="1355.39" r="4.2" fill="#000"/>
<circle cx="1883.42" cy="1385.03" r="4.2" fill="#000"/>
<circle cx="1895.28" cy="1385.03" r="4.2" fill="#000"/>
<circle cx="1889.35" cy="1399.65" r="4.2" fill="#000"/>
<circle cx="1877.5" cy="1413.88" r="4.2" fill="#000"/>
<circle cx="1889.35" cy="1413.88" r="4.2" fill="#000"/>
<circle cx="1901.21" cy="1413.88" r="4.2" fill="#000"/>
<circle cx="1889.35" cy="1428.9" r="4.2" fill="#000"/>
<circle cx="1883.42" cy="1443.91" r="4.2" fill="#000"/>
<circle cx="1895.28" cy="1443.91" r="4.2" fill="#000"/>
<line x1="1806.36" y1="1339.59" x2="1890.14" y2="1339.59" stroke="#000" stroke-width="2.7" stroke-linecap="butt" />
<text x="1830.86" y="1328.73" font-size="29" text-anchor="start" font-weight="normal" font-style="normal" fill="#000" >ns</text>
<text x="1618.65" y="1456.95" font-size="29" text-anchor="middle" font-weight="normal" font-style="normal" fill="#000" transform="rotate(-90 1618.65 1456.95)" >Total blood volume (a.u.)</text>
<text x="1594.44" y="1279.03" font-size="41.5" text-anchor="start" font-weight="bold" font-style="normal" fill="#000" >o</text>
</svg>
</body></html>
